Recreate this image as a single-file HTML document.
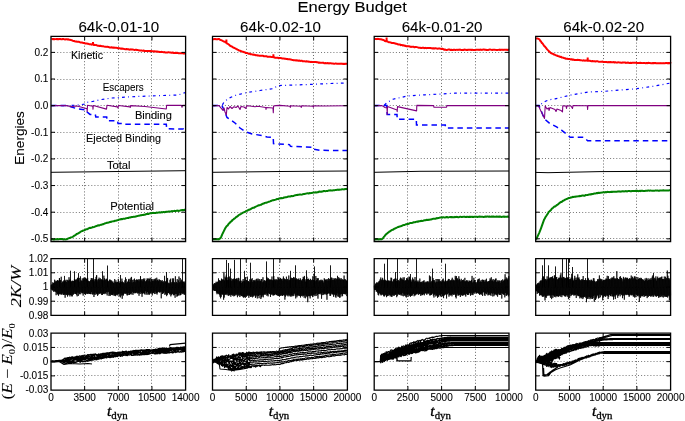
<!DOCTYPE html>
<html><head><meta charset="utf-8"><style>
html,body{margin:0;padding:0;background:#fff;width:685px;height:421px;overflow:hidden;font-family:"Liberation Sans",sans-serif;}
svg{display:block;will-change:transform}
</style></head><body>
<svg width="685" height="421" viewBox="0 0 685 421">
<rect width="685" height="421" fill="#fff"/>
<path d="M84.5,36.4V241.5M118.5,36.4V241.5M151.5,36.4V241.5M84.5,258.6V315.4M118.5,258.6V315.4M151.5,258.6V315.4M84.5,333.2V390.1M118.5,333.2V390.1M151.5,333.2V390.1M246.5,36.4V241.5M279.5,36.4V241.5M313.5,36.4V241.5M246.5,258.6V315.4M279.5,258.6V315.4M313.5,258.6V315.4M246.5,333.2V390.1M279.5,333.2V390.1M313.5,333.2V390.1M407.5,36.4V241.5M441.5,36.4V241.5M475.5,36.4V241.5M407.5,258.6V315.4M441.5,258.6V315.4M475.5,258.6V315.4M407.5,333.2V390.1M441.5,333.2V390.1M475.5,333.2V390.1M569.5,36.4V241.5M603.5,36.4V241.5M636.5,36.4V241.5M569.5,258.6V315.4M603.5,258.6V315.4M636.5,258.6V315.4M569.5,333.2V390.1M603.5,333.2V390.1M636.5,333.2V390.1" stroke="#000" stroke-width="0.8" stroke-dasharray="1,2.1" fill="none" opacity="0.75"/>
<path d="M51,52.5H185.6M51,79.5H185.6M51,105.5H185.6M51,132.5H185.6M51,158.5H185.6M51,185.5H185.6M51,212.5H185.6M51,238.5H185.6M51,272.5H185.6M51,287.5H185.6M51,301.5H185.6M51,347.5H185.6M51,361.5H185.6M51,375.5H185.6M212.5,52.5H347.4M212.5,79.5H347.4M212.5,105.5H347.4M212.5,132.5H347.4M212.5,158.5H347.4M212.5,185.5H347.4M212.5,212.5H347.4M212.5,238.5H347.4M212.5,272.5H347.4M212.5,287.5H347.4M212.5,301.5H347.4M212.5,347.5H347.4M212.5,361.5H347.4M212.5,375.5H347.4M374.2,52.5H509M374.2,79.5H509M374.2,105.5H509M374.2,132.5H509M374.2,158.5H509M374.2,185.5H509M374.2,212.5H509M374.2,238.5H509M374.2,272.5H509M374.2,287.5H509M374.2,301.5H509M374.2,347.5H509M374.2,361.5H509M374.2,375.5H509M535.7,52.5H670.6M535.7,79.5H670.6M535.7,105.5H670.6M535.7,132.5H670.6M535.7,158.5H670.6M535.7,185.5H670.6M535.7,212.5H670.6M535.7,238.5H670.6M535.7,272.5H670.6M535.7,287.5H670.6M535.7,301.5H670.6M535.7,347.5H670.6M535.7,361.5H670.6M535.7,375.5H670.6" stroke="#000" stroke-width="0.8" stroke-dasharray="1,2.1" fill="none" opacity="0.68"/>
<path d="M51,105.6L66,105.6L76,105.2L85,104.1L88,102.1L92.5,101.5L101.5,99.5L112,98L135,96.6L160,95.6L178,95L185.6,92.5" stroke="#0000ff" stroke-width="1.2" stroke-dasharray="2.8,3.3,0.9,3.3" fill="none"/>
<path d="M51,105.6L67,105.6L78,109L86.8,110L87.2,112L90,114.4L95.3,114.4L95.8,117L106.7,117L107.2,120.8L117.5,120.8L118,123.4L124.5,123.5L125,124.3L166.3,124.3L166.7,128.8L183.3,129L183.8,132L185.6,132.3" stroke="#0000ff" stroke-width="1.5" stroke-dasharray="5.5,4" fill="none"/>
<path d="M51,105.6L66,105.6L72,106.8L75,106L78,106.3L87,108.8L87.2,111.5L87.5,105.3L92.8,106.2L93,109.1L93.3,105.5L106.5,109.1L107,105.3L117.5,106.9L118,108L118.5,105.5L130,106.9L130.3,107.5L130.6,105.6L145,106.5L166.3,109L166.6,105.3L181.5,105.4L182,107.3L182.5,105.4L185.6,105.4" stroke="#800080" stroke-width="1.1" fill="none" stroke-linejoin="round"/>
<path d="M51,172.3L110,171.6L185.6,170.7" stroke="#000" stroke-width="1" fill="none"/>
<path d="M51.5,39.11L52.3,39.03L53.1,39.28L53.9,38.99L54.7,39.22L55.5,39.13L56.3,38.98L57.1,39.2L57.9,38.97L58.7,39.17L59.5,38.98L60.3,39L61.1,39.16L61.9,39.36L62.7,39.01L63.5,39.06L64.3,39.26L65.1,39.42L65.9,39.24L66.7,39.17L67.5,39.55L68.3,39.23L69.1,39.82L69.9,39.75L70.7,39.91L71.5,40.15L72.3,40.49L73.1,40.98L73.9,40.88L74.7,41.26L75.5,41.46L76.3,41.49L77.1,41.74L77.9,41.66L78.7,41.82L79.5,42.05L80.3,42.44L81.1,42.47L81.9,42.56L82.7,42.85L83.5,42.93L84.3,43.01L85.1,43.4L85.9,43.5L86.7,43.42L87.5,43.74L88.3,43.86L89.1,44.18L89.9,44.26L90.7,44.18L91.5,44.67L92.3,44.38L93.1,44.67L93.9,44.98L94.7,44.82L95.5,45.12L96.3,45.03L97.1,45.47L97.9,45.65L98.7,45.68L99.5,45.95L100.3,45.79L101.1,46.1L101.9,46.16L102.7,46.27L103.5,46.33L104.3,46.63L105.1,46.8L105.9,46.67L106.7,46.88L107.5,46.68L108.3,47.11L109.1,47.19L109.9,47.47L110.7,47.49L111.5,47.32L112.3,47.47L113.1,47.72L113.9,47.49L114.7,47.81L115.5,47.76L116.3,47.83L117.1,47.89L117.9,48.34L118.7,48.11L119.5,48.26L120.3,48.42L121.1,48.75L121.9,48.44L122.7,48.71L123.5,48.84L124.3,49.09L125.1,49.14L125.9,49.24L126.7,49.03L127.5,49.18L128.3,49.22L129.1,49.56L129.9,49.68L130.7,49.35L131.5,49.43L132.3,49.54L133.1,49.61L133.9,49.81L134.7,49.93L135.5,49.84L136.3,49.79L137.1,50.07L137.9,50.12L138.7,50.29L139.5,50.55L140.3,50.49L141.1,50.48L141.9,50.6L142.7,50.7L143.5,50.46L144.3,50.95L145.1,50.96L145.9,51.07L146.7,51.1L147.5,50.96L148.3,51.03L149.1,50.95L149.9,51.28L150.7,51.06L151.5,51.12L152.3,51.25L153.1,51.29L153.9,51.44L154.7,51.36L155.5,51.39L156.3,51.52L157.1,51.56L157.9,51.75L158.7,51.63L159.5,52.11L160.3,52.04L161.1,51.86L161.9,51.97L162.7,52.07L163.5,52.13L164.3,52.06L165.1,52.48L165.9,52.6L166.7,52.39L167.5,52.45L168.3,52.3L169.1,52.36L169.9,52.53L170.7,52.53L171.5,52.86L172.3,52.58L173.1,52.55L173.9,53.06L174.7,52.9L175.5,52.75L176.3,53L177.1,52.78L177.9,53.08L178.7,53.35L179.5,53.34L180.3,53.3L181.1,53.12L181.9,53.22L182.7,53.17L183.5,53.52L184.3,53.44L185.1,53.61L185.6,53.5M93,44.7V42" stroke="#ff0000" stroke-width="2" fill="none" stroke-linejoin="round"/>
<path d="M51,239.11L51.8,239.06L52.6,239.36L53.4,239.44L54.2,239.38L55,239.35L55.8,239.36L56.6,239.32L57.4,239.06L58.2,239.21L59,239.13L59.8,238.96L60.6,238.96L61.4,239.09L62.2,239.08L63,239.3L63.8,239.43L64.6,239.17L65.4,239.39L66.2,239.33L67,239.17L67.8,238.68L68.6,238.36L69.4,238.06L70.2,237.72L71,237.35L71.8,237.16L72.6,236.86L73.4,236.38L74.2,235.73L75,235.33L75.8,234.91L76.6,234.05L77.4,233.84L78.2,233.46L79,232.91L79.8,232.42L80.6,231.82L81.4,231.23L82.2,231.12L83,230.5L83.8,230.39L84.6,230.16L85.4,229.58L86.2,229.29L87,229.28L87.8,228.89L88.6,228.34L89.4,228.05L90.2,227.81L91,227.93L91.8,227.62L92.6,227.04L93.4,227.14L94.2,226.97L95,226.57L95.8,226.17L96.6,226.03L97.4,225.59L98.2,225.29L99,225.53L99.8,225.13L100.6,224.83L101.4,224.8L102.2,224.31L103,224.3L103.8,224.04L104.6,223.49L105.4,223.28L106.2,223.07L107,222.81L107.8,222.76L108.6,222.37L109.4,222.22L110.2,221.85L111,222.02L111.8,221.53L112.6,221.37L113.4,221.22L114.2,221.17L115,220.73L115.8,220.77L116.6,220.37L117.4,220.19L118.2,220L119,219.56L119.8,219.59L120.6,219.28L121.4,219.02L122.2,219.24L123,218.76L123.8,218.74L124.6,218.7L125.4,218.45L126.2,218.17L127,218.1L127.8,217.96L128.6,217.91L129.4,217.41L130.2,217.48L131,217.17L131.8,217.02L132.6,217.11L133.4,216.82L134.2,216.69L135,216.63L135.8,216.55L136.6,216.15L137.4,216.06L138.2,215.84L139,215.68L139.8,215.6L140.6,215.31L141.4,215.18L142.2,214.98L143,215.05L143.8,214.76L144.6,214.69L145.4,214.57L146.2,214.07L147,214.07L147.8,214.12L148.6,213.93L149.4,213.44L150.2,213.31L151,213.35L151.8,213.05L152.6,213.03L153.4,212.85L154.2,213.05L155,213.02L155.8,212.99L156.6,212.54L157.4,212.74L158.2,212.63L159,212.3L159.8,212.6L160.6,212.57L161.4,212.12L162.2,212.42L163,212.08L163.8,212.05L164.6,212.24L165.4,212.09L166.2,211.68L167,211.75L167.8,211.72L168.6,211.55L169.4,211.41L170.2,211.39L171,211.51L171.8,211.08L172.6,211.27L173.4,211.13L174.2,210.84L175,210.91L175.8,210.97L176.6,210.84L177.4,210.53L178.2,210.91L179,210.73L179.8,210.74L180.6,210.22L181.4,210.22L182.2,210.02L183,210.31L183.8,209.97L184.6,209.82L185.4,209.88L185.6,209.9" stroke="#008000" stroke-width="2" fill="none" stroke-linejoin="round"/>
<path d="M212.5,105.6L222,105.6L224,102L228.5,98.4L235,95.5L246.3,92.7L260,90.5L272.9,88.7L278,85.6L290,85.2L313.4,84.3L330,83.5L347.4,83" stroke="#0000ff" stroke-width="1.2" stroke-dasharray="2.8,3.3,0.9,3.3" fill="none"/>
<path d="M212.5,105.6L222,105.6L224,110L227,117.5L231,120L235,123L240,128L245,131.5L252,134L262,135.5L267,137L273.2,137.3L273.5,143.6L289.5,144.6L290.5,146.3L312.8,147.2L313.6,149.2L320,150.3L347.4,150.6" stroke="#0000ff" stroke-width="1.5" stroke-dasharray="5.5,4" fill="none"/>
<path d="M212.5,105.6L219,105.6L223,110.3L224,108L225,112L226.3,114.9L227,107.5L228.5,109L230,106.5L232,108.5L234,106.7L236,107.5L238,106L240,109.5L241,106.5L244,107L246,108.5L246.5,106L248,105.8L255,106.8L258,106.2L265.7,107.5L266,109.5L266.3,107.5L273,108L273.3,112.8L273.6,106L276,105.6L280,105.4L290,106.2L290.3,107.5L290.6,105.8L301,106.3L301.3,107.5L301.6,105.8L313,106.3L313.3,107.2L313.6,105.8L325,106L347.4,105.8" stroke="#800080" stroke-width="1.1" fill="none" stroke-linejoin="round"/>
<path d="M212.5,172.3L280,171.5L347.4,171" stroke="#000" stroke-width="1" fill="none"/>
<path d="M212.8,39.31L213.6,39.26L214.4,38.98L215.2,38.92L216,39.31L216.8,39.14L217.6,39.2L218.4,38.92L219.2,39.08L220,39.69L220.8,39.92L221.6,40.11L222.4,40.89L223.2,41.11L224,41.59L224.8,41.66L225.6,42.5L226.4,42.6L227.2,43.56L228,43.96L228.8,44.53L229.6,45.26L230.4,46.02L231.2,46.21L232,46.62L232.8,47.29L233.6,47.6L234.4,47.98L235.2,48.43L236,48.78L236.8,49.25L237.6,49.69L238.4,50.04L239.2,50.61L240,50.71L240.8,51.14L241.6,51.29L242.4,51.67L243.2,51.79L244,52.18L244.8,52.32L245.6,52.92L246.4,53.05L247.2,53.08L248,53.43L248.8,53.86L249.6,53.63L250.4,54.17L251.2,54.15L252,54.35L252.8,54.69L253.6,54.62L254.4,54.83L255.2,55.06L256,55.35L256.8,55.16L257.6,55.53L258.4,55.58L259.2,55.66L260,55.65L260.8,55.72L261.6,55.68L262.4,55.81L263.2,55.87L264,56.3L264.8,56.14L265.6,56.19L266.4,56.23L267.2,56.7L268,56.81L268.8,56.8L269.6,56.7L270.4,56.78L271.2,56.91L272,57.1L272.8,57.05L273.6,57.3L274.4,57.31L275.2,57.77L276,57.88L276.8,57.77L277.6,57.73L278.4,58.19L279.2,57.97L280,58.1L280.8,58.03L281.6,58.33L282.4,58.49L283.2,58.61L284,58.57L284.8,58.84L285.6,58.7L286.4,58.95L287.2,58.97L288,59.24L288.8,59.17L289.6,59.27L290.4,59.52L291.2,59.6L292,59.88L292.8,59.95L293.6,60.16L294.4,60.21L295.2,60.33L296,60.5L296.8,60.35L297.6,60.4L298.4,60.82L299.2,60.48L300,60.85L300.8,60.89L301.6,60.67L302.4,61.15L303.2,61.25L304,61.2L304.8,61.33L305.6,61.44L306.4,61.18L307.2,61.45L308,61.51L308.8,61.75L309.6,61.81L310.4,61.89L311.2,61.84L312,62.07L312.8,62.04L313.6,62.11L314.4,61.96L315.2,61.93L316,62.06L316.8,62.25L317.6,62.2L318.4,62.64L319.2,62.58L320,62.69L320.8,62.77L321.6,62.87L322.4,62.84L323.2,62.67L324,63.14L324.8,63.18L325.6,63.12L326.4,63.2L327.2,63.31L328,63.07L328.8,63.45L329.6,63.26L330.4,63.21L331.2,63.34L332,63.61L332.8,63.38L333.6,63.68L334.4,63.83L335.2,63.61L336,63.59L336.8,63.66L337.6,63.79L338.4,63.86L339.2,63.81L340,63.84L340.8,63.58L341.6,63.64L342.4,63.72L343.2,63.99L344,63.79L344.8,63.95L345.6,63.7L346.4,63.75L347.2,63.88L347.4,64M226.4,42.82V39.5M273.4,57.3V54.3" stroke="#ff0000" stroke-width="2" fill="none" stroke-linejoin="round"/>
<path d="M212.5,239.29L213.3,239.3L214.1,239.29L214.9,239.1L215.7,239.21L216.5,239.18L217.3,239.18L218.1,239.01L218.9,239.39L219.7,238.64L220.5,238.08L221.3,236.7L222.1,234.6L222.9,233.04L223.7,231.42L224.5,229.82L225.3,228.15L226.1,226.97L226.9,225.94L227.7,225.35L228.5,224.06L229.3,223.35L230.1,222.28L230.9,221.65L231.7,221.08L232.5,219.93L233.3,219.56L234.1,218.73L234.9,218.27L235.7,217.57L236.5,216.74L237.3,216.51L238.1,215.76L238.9,215.01L239.7,214.49L240.5,214.24L241.3,213.75L242.1,213.21L242.9,212.68L243.7,212.35L244.5,211.9L245.3,211.74L246.1,210.91L246.9,210.87L247.7,210.51L248.5,209.76L249.3,209.78L250.1,209.29L250.9,209.02L251.7,208.35L252.5,208.04L253.3,207.7L254.1,207.66L254.9,207.11L255.7,206.66L256.5,206.37L257.3,205.97L258.1,205.53L258.9,205.24L259.7,205.29L260.5,204.7L261.3,204.7L262.1,204.04L262.9,203.74L263.7,203.55L264.5,203.08L265.3,202.86L266.1,202.85L266.9,202.51L267.7,202.19L268.5,201.81L269.3,201.67L270.1,201.41L270.9,200.95L271.7,200.78L272.5,200.2L273.3,200.31L274.1,199.95L274.9,199.88L275.7,199.62L276.5,199.24L277.3,198.92L278.1,199.16L278.9,198.56L279.7,198.55L280.5,198.3L281.3,198.09L282.1,198.14L282.9,198.08L283.7,197.55L284.5,197.58L285.3,197.24L286.1,197.2L286.9,196.96L287.7,196.69L288.5,196.53L289.3,196.4L290.1,196.6L290.9,196.24L291.7,195.96L292.5,196.15L293.3,196.05L294.1,195.64L294.9,195.34L295.7,195.22L296.5,195.03L297.3,195.02L298.1,194.76L298.9,194.7L299.7,194.58L300.5,194.61L301.3,194.64L302.1,194.44L302.9,194.15L303.7,194.03L304.5,193.96L305.3,193.77L306.1,193.63L306.9,193.37L307.7,193.36L308.5,193.59L309.3,193.06L310.1,193.13L310.9,193.08L311.7,193.09L312.5,192.65L313.3,192.56L314.1,192.44L314.9,192.41L315.7,192.32L316.5,192.46L317.3,192.29L318.1,192.2L318.9,191.66L319.7,191.55L320.5,191.78L321.3,191.76L322.1,191.45L322.9,191.4L323.7,191L324.5,191.09L325.3,191.26L326.1,191.11L326.9,191.02L327.7,190.99L328.5,190.54L329.3,190.38L330.1,190.32L330.9,190.42L331.7,190.42L332.5,190.47L333.3,190.29L334.1,190.18L334.9,190.16L335.7,189.94L336.5,189.92L337.3,189.6L338.1,189.9L338.9,189.56L339.7,189.84L340.5,189.64L341.3,189.4L342.1,189.25L342.9,189.25L343.7,189.38L344.5,189.34L345.3,188.98L346.1,188.9L346.9,189.06L347.4,189" stroke="#008000" stroke-width="2" fill="none" stroke-linejoin="round"/>
<path d="M374.2,105.6L384,105.6L387,102.5L393,99.2L407.5,96L425,94.8L441.9,94L455,93.2L509,93.2" stroke="#0000ff" stroke-width="1.2" stroke-dasharray="2.8,3.3,0.9,3.3" fill="none"/>
<path d="M374.2,105.6L386.8,105.6L387.2,114.5L397,114.5L397.2,119.3L416.3,119.3L416.5,125.1L445.3,125.1L445.5,127.9L509,127.9" stroke="#0000ff" stroke-width="1.5" stroke-dasharray="5.5,4" fill="none"/>
<path d="M374.2,105.6L382,105.6L385,107.5L387,108L387.2,114.5L387.5,106.5L397,110L397.2,111.8L397.5,106.6L416.6,110.9L416.8,105.4L433.6,105.6L434,107.3L446.6,107.3L446.8,105.6L509,105.6" stroke="#800080" stroke-width="1.1" fill="none" stroke-linejoin="round"/>
<path d="M374.2,172.3L420,171.3L509,171" stroke="#000" stroke-width="1" fill="none"/>
<path d="M374.5,39.14L375.3,39.04L376.1,38.96L376.9,39.15L377.7,38.86L378.5,39L379.3,39.08L380.1,39.33L380.9,39.26L381.7,39.59L382.5,39.69L383.3,39.93L384.1,40.32L384.9,41.06L385.7,41.29L386.5,41.37L387.3,41.46L388.1,41.91L388.9,42.2L389.7,42.27L390.5,42.38L391.3,42.76L392.1,43.07L392.9,42.9L393.7,42.98L394.5,43.31L395.3,43.53L396.1,43.85L396.9,43.79L397.7,44.28L398.5,44.45L399.3,44.52L400.1,44.57L400.9,45.14L401.7,44.99L402.5,45.43L403.3,45.31L404.1,45.47L404.9,45.89L405.7,45.81L406.5,46.27L407.3,46.17L408.1,46.13L408.9,46.26L409.7,46.46L410.5,46.69L411.3,46.93L412.1,46.63L412.9,46.85L413.7,46.85L414.5,47.32L415.3,46.99L416.1,47.03L416.9,47.12L417.7,47.36L418.5,47.69L419.3,47.75L420.1,47.75L420.9,47.95L421.7,47.98L422.5,47.74L423.3,47.73L424.1,48.16L424.9,48.12L425.7,47.81L426.5,48.17L427.3,48.06L428.1,48.1L428.9,48.11L429.7,48.05L430.5,48L431.3,48.16L432.1,48.22L432.9,48.54L433.7,48.15L434.5,48.6L435.3,48.25L436.1,48.35L436.9,48.62L437.7,48.66L438.5,48.51L439.3,48.36L440.1,48.63L440.9,48.65L441.7,48.99L442.5,48.77L443.3,49.15L444.1,49.74L444.9,49.53L445.7,49.76L446.5,49.96L447.3,49.93L448.1,49.57L448.9,49.57L449.7,49.58L450.5,50.01L451.3,49.68L452.1,49.92L452.9,50L453.7,49.72L454.5,49.69L455.3,50.03L456.1,49.86L456.9,49.68L457.7,49.91L458.5,49.71L459.3,49.69L460.1,49.55L460.9,49.93L461.7,50.01L462.5,49.87L463.3,50.02L464.1,49.56L464.9,49.67L465.7,49.79L466.5,50.03L467.3,50.03L468.1,49.74L468.9,49.68L469.7,49.76L470.5,49.8L471.3,50.01L472.1,49.64L472.9,49.95L473.7,49.92L474.5,49.96L475.3,49.94L476.1,49.85L476.9,49.71L477.7,49.71L478.5,49.73L479.3,49.94L480.1,49.59L480.9,49.65L481.7,49.93L482.5,49.67L483.3,49.58L484.1,49.57L484.9,49.83L485.7,49.71L486.5,50.04L487.3,49.99L488.1,50.04L488.9,49.68L489.7,49.59L490.5,49.6L491.3,49.8L492.1,49.9L492.9,49.77L493.7,49.67L494.5,49.76L495.3,49.86L496.1,49.89L496.9,49.92L497.7,49.97L498.5,49.88L499.3,49.61L500.1,49.97L500.9,49.7L501.7,49.83L502.5,49.74L503.3,49.92L504.1,49.65L504.9,49.67L505.7,49.67L506.5,49.63L507.3,49.99L508.1,49.84L508.9,49.71L509,49.8M386.6,41.5V37.5" stroke="#ff0000" stroke-width="2" fill="none" stroke-linejoin="round"/>
<path d="M374.2,239.15L375,239.45L375.8,239.2L376.6,239.07L377.4,239.35L378.2,239.28L379,239.45L379.8,239L380.6,239.19L381.4,239.26L382.2,238.85L383,238.22L383.8,236.93L384.6,236.09L385.4,235.01L386.2,234.08L387,233.63L387.8,232.77L388.6,232.38L389.4,231.56L390.2,231.29L391,230.59L391.8,230.02L392.6,229.83L393.4,229.5L394.2,228.68L395,228.55L395.8,228.2L396.6,227.66L397.4,227.4L398.2,226.97L399,226.69L399.8,226.42L400.6,226.3L401.4,226.04L402.2,225.55L403,225.19L403.8,225.09L404.6,225.01L405.4,224.52L406.2,224.34L407,224.05L407.8,224.12L408.6,223.77L409.4,223.31L410.2,223.11L411,223.05L411.8,222.92L412.6,222.76L413.4,222.3L414.2,222.14L415,222.23L415.8,221.91L416.6,221.68L417.4,221.52L418.2,221.69L419,221.22L419.8,221.2L420.6,220.95L421.4,220.84L422.2,220.93L423,220.87L423.8,220.43L424.6,220.22L425.4,220.36L426.2,219.98L427,219.76L427.8,220.09L428.6,219.72L429.4,219.8L430.2,219.46L431,219.56L431.8,219.2L432.6,218.91L433.4,218.68L434.2,218.8L435,218.69L435.8,218.68L436.6,218.12L437.4,218.24L438.2,217.98L439,217.91L439.8,217.61L440.6,217.56L441.4,217.57L442.2,217.68L443,217.19L443.8,217.31L444.6,217.41L445.4,217.45L446.2,217.04L447,216.99L447.8,217.38L448.6,217.38L449.4,217.12L450.2,216.89L451,217.31L451.8,217.03L452.6,217.28L453.4,217.12L454.2,217.21L455,216.87L455.8,217.17L456.6,216.87L457.4,216.95L458.2,217.16L459,217.14L459.8,216.81L460.6,216.82L461.4,216.9L462.2,216.95L463,216.87L463.8,216.73L464.6,216.79L465.4,217.02L466.2,217.09L467,216.66L467.8,216.91L468.6,217L469.4,216.64L470.2,217.03L471,216.66L471.8,216.9L472.6,216.87L473.4,216.9L474.2,216.73L475,216.78L475.8,216.86L476.6,216.77L477.4,216.89L478.2,216.77L479,216.77L479.8,216.55L480.6,216.85L481.4,216.78L482.2,216.64L483,216.9L483.8,216.91L484.6,216.74L485.4,216.6L486.2,216.74L487,216.55L487.8,216.56L488.6,216.71L489.4,216.53L490.2,216.7L491,216.73L491.8,216.49L492.6,216.79L493.4,216.5L494.2,216.83L495,216.84L495.8,216.71L496.6,216.47L497.4,216.69L498.2,216.62L499,216.9L499.8,216.49L500.6,216.85L501.4,216.91L502.2,216.77L503,216.81L503.8,216.49L504.6,216.88L505.4,216.63L506.2,216.85L507,216.83L507.8,216.44L508.6,216.75L509,216.6" stroke="#008000" stroke-width="2" fill="none" stroke-linejoin="round"/>
<path d="M535.7,105.6L539,105.6L541.6,103.7L545,101.5L549,99.8L555,98.9L569.5,95.3L587.7,92.1L603.4,91.4L620,90L636.8,88.7L655,86L670.6,83" stroke="#0000ff" stroke-width="1.2" stroke-dasharray="2.8,3.3,0.9,3.3" fill="none"/>
<path d="M535.7,105.6L539,105.6L544.5,119L549.7,123.4L556.6,126.9L561.8,130.3L567,134.5L570,137.2L584,137.2L587.6,140.7L670.6,140.7" stroke="#0000ff" stroke-width="1.5" stroke-dasharray="5.5,4" fill="none"/>
<path d="M535.7,105.6L538.5,106L544.5,118.5L545.2,106L547,109L548.5,108L549,110.5L550,107.5L555,109.5L556,111.5L557,109L561,110.5L562.5,111.8L562.8,105.8L566,106L566.5,108.5L567,105.8L571,106L572.5,108.5L573,105.6L587.3,105.8L587.6,109.5L587.9,105.6L670.6,105.6" stroke="#800080" stroke-width="1.1" fill="none" stroke-linejoin="round"/>
<path d="M535.7,172.4L548,172.7L600,171.6L670.6,171.3" stroke="#000" stroke-width="1" fill="none"/>
<path d="M536.2,38.82L537,38.38L537.8,38.53L538.6,38.91L539.4,39.3L540.2,40.69L541,41.54L541.8,42.91L542.6,43.54L543.4,44.73L544.2,45.98L545,46.64L545.8,47.65L546.6,48.71L547.4,49.59L548.2,50.38L549,51.29L549.8,51.96L550.6,52.88L551.4,53.23L552.2,53.78L553,53.83L553.8,54.51L554.6,54.52L555.4,55.06L556.2,55.42L557,55.57L557.8,56.12L558.6,56.24L559.4,56.53L560.2,56.96L561,56.84L561.8,57.55L562.6,57.62L563.4,57.75L564.2,58.19L565,58.14L565.8,58.71L566.6,58.7L567.4,58.77L568.2,59.12L569,59.1L569.8,59.08L570.6,59.47L571.4,59.22L572.2,59.7L573,59.51L573.8,59.78L574.6,60.04L575.4,59.91L576.2,60.02L577,59.92L577.8,59.83L578.6,59.91L579.4,60.03L580.2,60.32L581,60.28L581.8,60.38L582.6,60.63L583.4,60.3L584.2,60.41L585,60.68L585.8,60.42L586.6,60.47L587.4,60.7L588.2,60.64L589,60.83L589.8,60.83L590.6,61.07L591.4,61.14L592.2,61.01L593,61.28L593.8,61.27L594.6,61.16L595.4,61.62L596.2,61.33L597,61.35L597.8,61.37L598.6,61.7L599.4,61.87L600.2,61.87L601,61.73L601.8,61.7L602.6,61.62L603.4,61.97L604.2,61.97L605,61.9L605.8,62.08L606.6,62.01L607.4,62.29L608.2,62.22L609,62.01L609.8,62.37L610.6,61.98L611.4,62.25L612.2,62.22L613,62.16L613.8,62.1L614.6,62.49L615.4,62.14L616.2,62.44L617,62.66L617.8,62.29L618.6,62.34L619.4,62.57L620.2,62.55L621,62.64L621.8,62.75L622.6,62.45L623.4,62.54L624.2,62.56L625,62.45L625.8,62.89L626.6,62.86L627.4,62.85L628.2,62.51L629,62.95L629.8,62.92L630.6,62.79L631.4,62.95L632.2,62.82L633,62.72L633.8,62.67L634.6,62.75L635.4,62.66L636.2,62.82L637,63.04L637.8,63.02L638.6,63.11L639.4,63.05L640.2,62.84L641,62.99L641.8,62.94L642.6,63.12L643.4,63L644.2,62.88L645,63.07L645.8,63.24L646.6,62.88L647.4,63.21L648.2,62.79L649,62.92L649.8,62.91L650.6,63.17L651.4,63.28L652.2,63.19L653,62.98L653.8,63.27L654.6,63L655.4,62.96L656.2,63.3L657,63.16L657.8,63.2L658.6,63.19L659.4,63.35L660.2,63.11L661,63.3L661.8,63.23L662.6,63.32L663.4,63.11L664.2,63.26L665,63.19L665.8,63.07L666.6,63.02L667.4,63.23L668.2,62.97L669,63.39L669.8,63.02L670.6,62.96L670.6,63.2M587.7,60.8V57.5" stroke="#ff0000" stroke-width="2" fill="none" stroke-linejoin="round"/>
<path d="M536,239.4L536.8,238.2L537.6,236.32L538.4,234.59L539.2,232.79L540,230.84L540.8,228.97L541.6,226.62L542.4,224.32L543.2,222.14L544,219.84L544.8,218.47L545.6,216.88L546.4,215.73L547.2,214.46L548,213.32L548.8,211.85L549.6,211.3L550.4,210.46L551.2,209.69L552,208.55L552.8,207.92L553.6,207.23L554.4,206.58L555.2,206.4L556,205.79L556.8,205.12L557.6,204.64L558.4,203.97L559.2,203.24L560,202.61L560.8,202.09L561.6,201.92L562.4,201.16L563.2,200.77L564,200.39L564.8,199.76L565.6,199.46L566.4,199.06L567.2,198.89L568,198.35L568.8,198.01L569.6,198.05L570.4,197.6L571.2,197.59L572,197.31L572.8,196.86L573.6,196.91L574.4,196.79L575.2,196.83L576,196.5L576.8,196.57L577.6,196.39L578.4,196.13L579.2,196.35L580,195.87L580.8,196.13L581.6,195.7L582.4,195.51L583.2,195.5L584,195.66L584.8,195.64L585.6,195.02L586.4,195.13L587.2,194.98L588,194.99L588.8,194.53L589.6,194.54L590.4,194.31L591.2,194.4L592,193.96L592.8,194.15L593.6,193.67L594.4,193.49L595.2,193.58L596,193.34L596.8,193.01L597.6,193.15L598.4,192.74L599.2,192.98L600,192.83L600.8,192.77L601.6,192.6L602.4,192.39L603.2,192.34L604,192.28L604.8,192.46L605.6,192L606.4,192.35L607.2,191.86L608,191.9L608.8,191.88L609.6,192.15L610.4,191.91L611.2,191.8L612,192.01L612.8,191.64L613.6,191.72L614.4,191.72L615.2,191.79L616,191.75L616.8,191.67L617.6,191.49L618.4,191.44L619.2,191.33L620,191.64L620.8,191.52L621.6,191.53L622.4,191.22L623.2,191.33L624,191.47L624.8,191.35L625.6,191.1L626.4,191.24L627.2,191.43L628,191.08L628.8,191.04L629.6,191.07L630.4,191.25L631.2,191.3L632,190.93L632.8,190.91L633.6,190.94L634.4,190.96L635.2,191.03L636,190.84L636.8,190.9L637.6,190.81L638.4,191.19L639.2,191.05L640,190.71L640.8,191.13L641.6,190.68L642.4,190.8L643.2,191.09L644,190.98L644.8,190.93L645.6,190.76L646.4,190.63L647.2,190.83L648,190.55L648.8,190.59L649.6,190.66L650.4,190.47L651.2,190.64L652,190.82L652.8,190.75L653.6,190.64L654.4,190.69L655.2,190.59L656,190.42L656.8,190.63L657.6,190.52L658.4,190.67L659.2,190.74L660,190.48L660.8,190.54L661.6,190.61L662.4,190.43L663.2,190.32L664,190.55L664.8,190.61L665.6,190.55L666.4,190.49L667.2,190.55L668,190.45L668.8,190.41L669.6,190.3L670.4,190.21L670.6,190.3" stroke="#008000" stroke-width="2" fill="none" stroke-linejoin="round"/>
<path d="M51,285.28L51.3,289.23L51.6,284.63L51.9,289.88L52.2,284.25L52.5,290.44L52.8,282.33L53.1,290.15L53.4,282.93L53.7,291.7L54,283.1L54.3,291.55L54.61,279.7L54.91,290.92L55.21,281.98L55.51,291.79L55.81,280.69L56.11,295.2L56.41,281.32L56.71,292.52L57.01,280.78L57.31,294.32L57.61,280.04L57.91,294.34L58.21,280.48L58.51,295.72L58.81,281L59.11,294.27L59.41,278.07L59.71,293.81L60.01,280.48L60.31,294.43L60.61,280.13L60.91,293.72L61.22,276.75L61.52,294.53L61.82,283.03L62.12,294.39L62.42,281.67L62.72,293.27L63.02,281.61L63.32,294.95L63.62,280.54L63.92,294.82L64.22,282.08L64.52,294.52L64.82,280.26L65.12,297.74L65.42,281.12L65.72,294.57L66.02,279.79L66.32,295.07L66.62,282.06L66.92,294.29L67.22,279.8L67.52,296.55L67.83,280.42L68.13,295.25L68.43,280.61L68.73,294.54L69.03,277.22L69.33,294.85L69.63,280.11L69.93,296.44L70.23,279.06L70.53,295.04L70.83,281.11L71.13,295.19L71.43,281.64L71.73,296.3L72.03,280.7L72.33,296.33L72.63,280.89L72.93,294.43L73.23,280.85L73.53,294.47L73.83,281L74.13,292.43L74.43,278.95L74.74,293.87L75.04,280.64L75.34,293.83L75.64,279.79L75.94,294.08L76.24,279.15L76.54,294.69L76.84,280.08L77.14,296.33L77.44,277.8L77.74,292.59L78.04,278L78.34,295.88L78.64,278.28L78.94,292.83L79.24,277.95L79.54,294.23L79.84,281.7L80.14,291.9L80.44,276.37L80.74,294.23L81.04,280.39L81.35,292.51L81.65,280.82L81.95,292.94L82.25,278.4L82.55,293.25L82.85,280.84L83.15,295.6L83.45,278.37L83.75,292.74L84.05,277.56L84.35,294.03L84.65,278.51L84.95,294.27L85.25,277.6L85.55,294.82L85.85,278.17L86.15,292.94L86.45,279.08L86.75,293.92L87.05,278.86L87.35,293.69L87.65,277.84L87.95,294.07L88.26,280.7L88.56,293.21L88.86,281.18L89.16,293.97L89.46,281.62L89.76,293.93L90.06,281.16L90.36,294.04L90.66,279.93L90.96,294.21L91.26,278.05L91.56,292.14L91.86,278.23L92.16,294.05L92.46,279.64L92.76,294.68L93.06,278.17L93.36,293.81L93.66,280.07L93.96,297.01L94.26,281.34L94.56,294.58L94.87,279.21L95.17,292.5L95.47,279.28L95.77,294.72L96.07,276.9L96.37,293.63L96.67,275.25L96.97,294.09L97.27,279.62L97.57,295.89L97.87,281.44L98.17,294.73L98.47,279.04L98.77,293.5L99.07,277.64L99.37,293.53L99.67,279.56L99.97,293.93L100.27,278.29L100.57,293.01L100.87,279.69L101.17,293.56L101.47,279.29L101.78,295.03L102.08,280.19L102.38,295.01L102.68,279.86L102.98,293.69L103.28,280.34L103.58,293.68L103.88,275.67L104.18,294.14L104.48,278.4L104.78,293.18L105.08,280.39L105.38,293.1L105.68,279.56L105.98,294.09L106.28,278.71L106.58,292.16L106.88,279.16L107.18,295.47L107.48,280.02L107.78,292.3L108.08,280.95L108.39,291.83L108.69,281.46L108.99,296.02L109.29,280.13L109.59,294.46L109.89,279.37L110.19,296.03L110.49,280.36L110.79,294.48L111.09,280.42L111.39,294.86L111.69,280.66L111.99,294.89L112.29,282.09L112.59,294.94L112.89,281.37L113.19,295.44L113.49,282.76L113.79,293.69L114.09,283.28L114.39,295.69L114.69,279.04L115,295.28L115.3,281.99L115.6,296.14L115.9,280.34L116.2,295.14L116.5,282.46L116.8,294.48L117.1,281.95L117.4,294.59L117.7,281.93L118,295.59L118.3,278.93L118.6,293.76L118.9,281.45L119.2,293.68L119.5,283.02L119.8,296.44L120.1,281.37L120.4,297.35L120.7,281.78L121,293.43L121.3,281.93L121.6,295.51L121.91,278.64L122.21,298.77L122.51,281.51L122.81,294.91L123.11,282.78L123.41,295.56L123.71,282.24L124.01,294.04L124.31,283.35L124.61,292.92L124.91,280.39L125.21,293.76L125.51,277.42L125.81,293.53L126.11,279.03L126.41,293.6L126.71,282.98L127.01,295.32L127.31,281.65L127.61,295.28L127.91,281.78L128.21,292.9L128.52,279.47L128.82,294.97L129.12,278.82L129.42,294.93L129.72,282.08L130.02,294.44L130.32,279.67L130.62,293.82L130.92,277.73L131.22,293.15L131.52,276.92L131.82,294.48L132.12,282.67L132.42,291.85L132.72,279.85L133.02,294.81L133.32,281.98L133.62,292.99L133.92,279.49L134.22,292.5L134.52,278.61L134.82,293.36L135.12,282.15L135.43,292.99L135.73,280.22L136.03,293.15L136.33,279.83L136.63,292.28L136.93,279.2L137.23,292.91L137.53,280.03L137.83,293.68L138.13,280.88L138.43,292.96L138.73,279.37L139.03,295.79L139.33,279.41L139.63,293.5L139.93,281.38L140.23,291.92L140.53,276.79L140.83,294.02L141.13,279.18L141.43,292.9L141.73,280.35L142.04,296.8L142.34,279.16L142.64,293.72L142.94,281.38L143.24,293.23L143.54,278.62L143.84,293.11L144.14,279.99L144.44,293.78L144.74,278.48L145.04,294.65L145.34,281.38L145.64,291.26L145.94,281.42L146.24,293.27L146.54,280.27L146.84,294.71L147.14,278.43L147.44,291.95L147.74,278.88L148.04,294.65L148.34,278.53L148.65,293.64L148.95,281.12L149.25,294.86L149.55,278.9L149.85,293.97L150.15,277.8L150.45,292.9L150.75,281.71L151.05,293.43L151.35,278.79L151.65,292.38L151.95,279.03L152.25,295.45L152.55,280.92L152.85,293.45L153.15,279.3L153.45,292.97L153.75,280.95L154.05,292.33L154.35,278.88L154.65,294.05L154.95,280.06L155.25,291.66L155.56,278.51L155.86,293.85L156.16,280.81L156.46,293.07L156.76,277.72L157.06,294.54L157.36,279.89L157.66,292.71L157.96,279.68L158.26,291.89L158.56,281.1L158.86,291.86L159.16,279.31L159.46,292.38L159.76,279.96L160.06,292.51L160.36,280.21L160.66,291.8L160.96,282.16L161.26,298.34L161.56,280.87L161.86,291.72L162.17,280.05L162.47,294.02L162.77,281.84L163.07,293.33L163.37,281.28L163.67,293.17L163.97,282.94L164.27,291.61L164.57,275.85L164.87,294.87L165.17,281.14L165.47,293.6L165.77,281.99L166.07,294.53L166.37,281.54L166.67,296.15L166.97,280.23L167.27,294.98L167.57,277.96L167.87,293.17L168.17,283.41L168.47,293.12L168.77,282.7L169.08,292.8L169.38,283.43L169.68,294.36L169.98,279.79L170.28,294.17L170.58,278.7L170.88,296.38L171.18,283.43L171.48,294.77L171.78,282.13L172.08,293.43L172.38,278.41L172.68,293.95L172.98,281.54L173.28,295.12L173.58,278.45L173.88,295.28L174.18,282.06L174.48,294.62L174.78,282.82L175.08,297.78L175.38,276.29L175.69,294.02L175.99,283.39L176.29,294.12L176.59,281.95L176.89,296.69L177.19,279.06L177.49,296.12L177.79,283.07L178.09,295.78L178.39,280.36L178.69,295.14L178.99,276.49L179.29,293.19L179.59,282.26L179.89,295.46L180.19,278.05L180.49,295.06L180.79,281.52L181.09,294.69L181.39,279.67L181.69,293.16L181.99,281.27L182.3,293.58L182.6,281.94L182.9,294.12L183.2,281.68L183.5,293.36L183.8,281.73L184.1,294.59L184.4,282.65L184.7,294.67L185,281.42L185.3,292.3L185.6,277.69" stroke="#000" stroke-width="0.75" fill="none"/>
<path d="M59.5,287.2V278.3M64.5,287.2V275.9M70.5,287.2V270.7M74.5,287.2V271.2M78.5,287.2V273.1M87.5,287.2V258.6M93.5,287.2V258.6M96.5,287.2V275.4M102.5,287.2V271.2M107.5,287.2V265.5M120.5,287.2V275M140.5,287.2V276M166.5,287.2V272M182.5,287.2V258.6" stroke="#000" stroke-width="0.9" fill="none"/>
<path d="M212.5,285.84L212.8,290.42L213.1,284.31L213.4,290.27L213.7,284.5L214,290.35L214.3,283.17L214.6,290.97L214.9,283.15L215.2,290.85L215.5,283.48L215.8,291L216.11,281.75L216.41,292.56L216.71,282.74L217.01,294.24L217.31,281.87L217.61,293.26L217.91,281.7L218.21,293.42L218.51,278.43L218.81,294.11L219.11,280.81L219.41,294.64L219.71,280.17L220.01,296.68L220.31,280.84L220.61,298.33L220.91,281.08L221.21,296.8L221.51,278.63L221.81,294.25L222.11,279.27L222.41,294.56L222.72,279.92L223.02,294.41L223.32,279.5L223.62,299.67L223.92,271.92L224.22,297.59L224.52,280.39L224.82,294.9L225.12,276.68L225.42,294.13L225.72,277.94L226.02,295.03L226.32,274.69L226.62,293.86L226.92,277.45L227.22,295.24L227.52,280.11L227.82,293.51L228.12,277.29L228.42,295.81L228.72,279.99L229.02,295.57L229.32,276.55L229.63,294.97L229.93,278.77L230.23,294.71L230.53,280.18L230.83,296.73L231.13,278.31L231.43,294.89L231.73,280.8L232.03,294.47L232.33,278.94L232.63,295.7L232.93,280.18L233.23,294.88L233.53,279.11L233.83,296.38L234.13,278.18L234.43,295.92L234.73,280.72L235.03,294.29L235.33,278.85L235.63,295.39L235.93,279.01L236.24,294.22L236.54,278.57L236.84,295.19L237.14,278.41L237.44,297.21L237.74,280.19L238.04,293.87L238.34,277.84L238.64,295.62L238.94,278.35L239.24,295.06L239.54,281.41L239.84,297.06L240.14,280.84L240.44,294.82L240.74,280.86L241.04,296.11L241.34,282.91L241.64,295.94L241.94,280.66L242.24,295.98L242.54,281.82L242.84,296.72L243.15,279.01L243.45,297.63L243.75,281.07L244.05,296.84L244.35,280.85L244.65,297.08L244.95,282.11L245.25,297.9L245.55,277.18L245.85,296.32L246.15,280.33L246.45,296.49L246.75,280.21L247.05,294.74L247.35,276.66L247.65,295.75L247.95,281.35L248.25,295.38L248.55,281.06L248.85,297.84L249.15,282.14L249.45,295.43L249.76,279.37L250.06,295.81L250.36,282.25L250.66,296.99L250.96,279.84L251.26,296.75L251.56,279.29L251.86,295.49L252.16,278.16L252.46,297.39L252.76,281.87L253.06,295.52L253.36,280.1L253.66,296.58L253.96,280.81L254.26,295.42L254.56,280.41L254.86,295.41L255.16,279.78L255.46,297.92L255.76,281.36L256.06,296.52L256.37,279.14L256.67,295.25L256.97,278.66L257.27,298.48L257.57,280.62L257.87,295.77L258.17,278.63L258.47,295.96L258.77,280.68L259.07,298.21L259.37,279.16L259.67,295.21L259.97,281.28L260.27,295.09L260.57,280.67L260.87,299.03L261.17,279.1L261.47,297.35L261.77,279.05L262.07,296.65L262.37,282.27L262.67,295.16L262.97,277.23L263.28,297.34L263.58,281.41L263.88,294.72L264.18,280.08L264.48,294.49L264.78,280.46L265.08,293.45L265.38,280.77L265.68,294.76L265.98,282.58L266.28,293.66L266.58,276.74L266.88,295.69L267.18,277.59L267.48,295.08L267.78,278.94L268.08,296.39L268.38,278.21L268.68,293.08L268.98,279.67L269.28,294.04L269.58,279.42L269.89,294.09L270.19,279.87L270.49,296.93L270.79,279.46L271.09,294.11L271.39,279.72L271.69,294.66L271.99,276.53L272.29,294.32L272.59,280.2L272.89,295.44L273.19,280.77L273.49,295.33L273.79,276.02L274.09,295.16L274.39,279.95L274.69,295.09L274.99,278.95L275.29,294.25L275.59,280.27L275.89,294.25L276.19,279.53L276.49,295.13L276.8,279.44L277.1,294.74L277.4,280.15L277.7,295.65L278,276.91L278.3,295.9L278.6,278.23L278.9,296.08L279.2,279.43L279.5,296.35L279.8,278.51L280.1,295.82L280.4,277.92L280.7,295.61L281,278.94L281.3,294.99L281.6,279.23L281.9,295.75L282.2,278.69L282.5,295.97L282.8,280.54L283.1,295.29L283.41,276.49L283.71,294.96L284.01,278.17L284.31,295.64L284.61,279.13L284.91,299.65L285.21,279.15L285.51,296.6L285.81,279.7L286.11,294.22L286.41,276.66L286.71,295.38L287.01,280.34L287.31,295.21L287.61,278.95L287.91,296.3L288.21,280.22L288.51,294.69L288.81,275.53L289.11,296.26L289.41,280.18L289.71,294.96L290.01,279.56L290.32,295.96L290.62,278.71L290.92,296.83L291.22,277.71L291.52,295.43L291.82,278.29L292.12,296.23L292.42,278.23L292.72,295.32L293.02,278.13L293.32,296.11L293.62,276.98L293.92,294.34L294.22,277.54L294.52,293.4L294.82,278.36L295.12,295.76L295.42,279.54L295.72,298.45L296.02,279.29L296.32,295.37L296.62,278.3L296.93,297.29L297.23,279.15L297.53,295.38L297.83,279.7L298.13,295.66L298.43,278.62L298.73,295.27L299.03,279.88L299.33,296.08L299.63,279.88L299.93,295.48L300.23,278.19L300.53,297.48L300.83,279.44L301.13,295.94L301.43,280.48L301.73,295.61L302.03,280.62L302.33,296.42L302.63,279.07L302.93,294.98L303.23,276.8L303.53,295.78L303.84,277.64L304.14,297.65L304.44,275.95L304.74,295.46L305.04,279.55L305.34,298.29L305.64,281.56L305.94,294.8L306.24,279.08L306.54,296.25L306.84,276.78L307.14,297.21L307.44,279.21L307.74,302.19L308.04,279.31L308.34,296.16L308.64,278.68L308.94,295.73L309.24,279.93L309.54,296.24L309.84,280L310.14,298.42L310.45,278.87L310.75,295.83L311.05,281.06L311.35,295.3L311.65,280.01L311.95,295.72L312.25,279.48L312.55,297.11L312.85,276.27L313.15,295.26L313.45,280.09L313.75,295.56L314.05,273.73L314.35,294.62L314.65,279.91L314.95,296.15L315.25,281.2L315.55,294.3L315.85,275.99L316.15,295.98L316.45,280.14L316.75,293.43L317.06,278.04L317.36,295.11L317.66,278.76L317.96,298.65L318.26,278.17L318.56,294.08L318.86,281.49L319.16,293.65L319.46,280.27L319.76,294.18L320.06,281.36L320.36,293.22L320.66,279.8L320.96,294.39L321.26,280.75L321.56,298.76L321.86,279.71L322.16,292.52L322.46,280.47L322.76,295.1L323.06,280.75L323.36,294.66L323.66,282.53L323.97,293.51L324.27,278.28L324.57,294.34L324.87,279.22L325.17,293.26L325.47,279.78L325.77,294.32L326.07,280.45L326.37,294.67L326.67,279.46L326.97,299.74L327.27,279.2L327.57,294.08L327.87,280.69L328.17,293.4L328.47,278.14L328.77,293.28L329.07,280.58L329.37,293.57L329.67,278.96L329.97,295.84L330.27,278.53L330.58,295.8L330.88,280.52L331.18,292.84L331.48,277.6L331.78,294.25L332.08,277.83L332.38,294.38L332.68,279.77L332.98,294.18L333.28,280.03L333.58,296.78L333.88,278.25L334.18,294.46L334.48,278.69L334.78,294.58L335.08,280.22L335.38,296.7L335.68,278.2L335.98,297.74L336.28,278.71L336.58,295.29L336.88,279.36L337.18,293.41L337.49,275.84L337.79,296.39L338.09,279.21L338.39,296.76L338.69,277.18L338.99,294.33L339.29,278.34L339.59,297.69L339.89,278.79L340.19,297.43L340.49,279.71L340.79,294.5L341.09,278.04L341.39,294.01L341.69,279.65L341.99,296.42L342.29,279.15L342.59,295.85L342.89,280.04L343.19,293.82L343.49,279.74L343.79,293.86L344.1,275.54L344.4,294.17L344.7,279.21L345,293.62L345.3,279.39L345.6,294.45L345.9,279.91L346.2,293.43L346.5,280.97L346.8,296.11L347.1,280.2L347.4,294.16" stroke="#000" stroke-width="0.75" fill="none"/>
<path d="M226.5,287.5V259.9M228.5,287.5V263M230.5,287.5V268.6M234.5,287.5V259.9M240.5,287.5V258.8M244.5,287.5V270.8M250.5,287.5V262.7M266.5,287.5V261.4M273.5,287.5V258.8M290.5,287.5V270.8M295.5,287.5V265.3M306.5,287.5V270.3M314.5,287.5V266.4M330.5,287.5V265.3" stroke="#000" stroke-width="0.9" fill="none"/>
<path d="M374.2,285.68L374.5,289.87L374.8,285.36L375.1,289.85L375.4,283.6L375.7,290.09L376,283.87L376.3,291.82L376.6,282.45L376.9,291.04L377.2,283.01L377.5,292.67L377.8,282.45L378.1,294.77L378.4,282.38L378.7,295.4L379,281.07L379.3,293.23L379.6,280.7L379.9,293.48L380.2,279.22L380.5,294.43L380.8,277.5L381.11,295.46L381.41,280.2L381.71,294.59L382.01,279.37L382.31,294.58L382.61,277.83L382.91,294.35L383.21,279.75L383.51,295.65L383.81,280.58L384.11,296.57L384.41,280.23L384.71,296.13L385.01,279.63L385.31,295.14L385.61,280.27L385.91,294.43L386.21,281.02L386.51,297.16L386.81,280.55L387.11,296.23L387.41,281.37L387.71,295.88L388.01,280.46L388.31,295.68L388.61,280.69L388.91,294.29L389.21,280.65L389.51,294.86L389.81,281.34L390.11,296.32L390.41,280.75L390.71,295.27L391.01,277.64L391.31,296.5L391.61,277.95L391.91,296.99L392.21,281.27L392.51,294.79L392.81,281.9L393.11,295.94L393.41,279.28L393.71,294.9L394.01,280.16L394.31,295.78L394.62,279.03L394.92,294.54L395.22,278.05L395.52,294.79L395.82,279.22L396.12,294.27L396.42,281.01L396.72,297.18L397.02,278.61L397.32,295.85L397.62,281.35L397.92,293.59L398.22,280.6L398.52,294.27L398.82,280.03L399.12,294.8L399.42,281.17L399.72,294.62L400.02,278.74L400.32,294.25L400.62,277.56L400.92,295.39L401.22,278.29L401.52,294.52L401.82,279.36L402.12,295.84L402.42,279.61L402.72,292.96L403.02,277.48L403.32,296.31L403.62,279.8L403.92,293.82L404.22,277.32L404.52,295.7L404.82,280.89L405.12,294.69L405.42,280.53L405.72,296.52L406.02,280.16L406.32,297.5L406.62,278.19L406.92,294.21L407.22,278.54L407.52,295.19L407.82,278.35L408.13,296.8L408.43,280.2L408.73,294.25L409.03,276.54L409.33,295.27L409.63,276.97L409.93,296.1L410.23,278.8L410.53,296.75L410.83,279.43L411.13,295.27L411.43,281.76L411.73,296.01L412.03,280.4L412.33,295.34L412.63,277.61L412.93,294.15L413.23,279.29L413.53,293.66L413.83,279.73L414.13,296.26L414.43,281.45L414.73,295.15L415.03,277.05L415.33,295.36L415.63,280.73L415.93,294.14L416.23,282.67L416.53,294.35L416.83,281.37L417.13,293.81L417.43,281.79L417.73,293.51L418.03,280.4L418.33,295.02L418.63,282.17L418.93,293.67L419.23,281.29L419.53,294.15L419.83,278.57L420.13,293.82L420.43,282.08L420.73,295.9L421.03,282.67L421.33,294.29L421.64,281.98L421.94,295.28L422.24,281.25L422.54,294.95L422.84,282.54L423.14,294.53L423.44,281.02L423.74,293.87L424.04,280.2L424.34,295.3L424.64,282.68L424.94,293.41L425.24,281.73L425.54,293.19L425.84,282.89L426.14,293.45L426.44,282.18L426.74,294.77L427.04,281.27L427.34,293.01L427.64,281.62L427.94,294.14L428.24,281.44L428.54,293.36L428.84,282.53L429.14,292.51L429.44,275.51L429.74,295.36L430.04,282.36L430.34,295.31L430.64,276.53L430.94,294.87L431.24,282.14L431.54,294.75L431.84,280.94L432.14,294.02L432.44,280.54L432.74,293.06L433.04,278.14L433.34,295.55L433.64,280.18L433.94,297.54L434.24,280.07L434.54,294.6L434.84,281.5L435.15,294.33L435.45,282.64L435.75,296.46L436.05,279.02L436.35,294.97L436.65,281.76L436.95,296.03L437.25,279.01L437.55,297.86L437.85,281.87L438.15,296.74L438.45,279.19L438.75,296.57L439.05,281.37L439.35,294.85L439.65,279.28L439.95,295.26L440.25,281.29L440.55,295.91L440.85,281.31L441.15,297.07L441.45,281.76L441.75,294.2L442.05,280.67L442.35,296.1L442.65,279.42L442.95,296.36L443.25,278.59L443.55,298.13L443.85,280.93L444.15,295.58L444.45,282.08L444.75,294.98L445.05,280.59L445.35,294.19L445.65,280.11L445.95,294.47L446.25,281.01L446.55,298.49L446.85,282.26L447.15,293.79L447.45,280.92L447.75,294.4L448.05,279.74L448.36,293.08L448.66,278.92L448.96,296.67L449.26,279.23L449.56,294.93L449.86,281.14L450.16,295.62L450.46,280.29L450.76,294.85L451.06,280.78L451.36,294.88L451.66,279.52L451.96,296.33L452.26,277.76L452.56,294.07L452.86,280.66L453.16,294.87L453.46,279.67L453.76,294.61L454.06,280.84L454.36,293.77L454.66,280.32L454.96,294.94L455.26,275.86L455.56,297.05L455.86,277.72L456.16,298.38L456.46,276.1L456.76,295.49L457.06,278.07L457.36,293.74L457.66,278.79L457.96,295.5L458.26,280.13L458.56,295.4L458.86,276.25L459.16,295.16L459.46,278.89L459.76,294.68L460.06,279.99L460.36,296.98L460.66,281.47L460.96,294.37L461.26,278.84L461.56,295.1L461.87,281.11L462.17,295.76L462.47,280.08L462.77,295.47L463.07,280.01L463.37,295.29L463.67,279.57L463.97,294.88L464.27,281.26L464.57,294.23L464.87,277.85L465.17,295.22L465.47,281.47L465.77,296.56L466.07,281.01L466.37,293.72L466.67,280.19L466.97,294.18L467.27,280.44L467.57,294.94L467.87,281.42L468.17,294.9L468.47,281.98L468.77,294.62L469.07,280.38L469.37,293.18L469.67,281.1L469.97,293.04L470.27,281.09L470.57,295.81L470.87,280.78L471.17,294.87L471.47,279.93L471.77,292.89L472.07,275.92L472.37,294.68L472.67,282.56L472.97,295.13L473.27,281.53L473.57,292.78L473.87,277.8L474.17,293.81L474.47,280.01L474.77,292.48L475.07,280.01L475.38,292.04L475.68,282.09L475.98,293.04L476.28,283.35L476.58,293.62L476.88,282.13L477.18,292.74L477.48,280.3L477.78,293.05L478.08,278.97L478.38,293.62L478.68,279.1L478.98,293.42L479.28,278.49L479.58,294.86L479.88,282.07L480.18,294.12L480.48,281.4L480.78,294.24L481.08,280.1L481.38,294.63L481.68,282.07L481.98,293.04L482.28,279.7L482.58,296.03L482.88,279.72L483.18,292.03L483.48,280.19L483.78,292.42L484.08,280.34L484.38,294.86L484.68,281.84L484.98,295.99L485.28,279.74L485.58,293.22L485.88,281.42L486.18,293.85L486.48,278.72L486.78,294.34L487.08,281.71L487.38,292.48L487.68,281.71L487.98,295.43L488.28,281.38L488.58,294.55L488.89,281L489.19,295.09L489.49,280.71L489.79,293.53L490.09,278.34L490.39,294.75L490.69,279.58L490.99,295.88L491.29,277.25L491.59,292.94L491.89,280.89L492.19,293.81L492.49,280.38L492.79,296.48L493.09,279.05L493.39,293.31L493.69,281.51L493.99,296.15L494.29,279.75L494.59,294.62L494.89,280.55L495.19,293.95L495.49,278.78L495.79,294.62L496.09,278.52L496.39,295.25L496.69,282.06L496.99,294.42L497.29,281.42L497.59,296.69L497.89,280.13L498.19,293.34L498.49,281.56L498.79,294.43L499.09,280.51L499.39,295.02L499.69,280.73L499.99,294.35L500.29,282.71L500.59,294.96L500.89,280.8L501.19,292.97L501.49,280.32L501.79,298.59L502.09,281.9L502.4,293.62L502.7,279.36L503,294L503.3,280.69L503.6,294.62L503.9,280.63L504.2,294.82L504.5,279.64L504.8,297.37L505.1,274.26L505.4,293.03L505.7,279.32L506,295.61L506.3,277.49L506.6,295.65L506.9,278.83L507.2,295.1L507.5,279.69L507.8,294.11L508.1,277.81L508.4,296.38L508.7,276.18L509,295.38" stroke="#000" stroke-width="0.75" fill="none"/>
<path d="M384.5,287.5V263.7M387.5,287.5V258.8M397.5,287.5V258.8M416.5,287.5V258.8M432.5,287.5V268.6M445.5,287.5V263.7M395.5,287.5V272M410.5,287.5V274" stroke="#000" stroke-width="0.9" fill="none"/>
<path d="M535.7,284.89L536,290.65L536.3,285.04L536.6,291.22L536.9,284.15L537.2,293.95L537.5,283.41L537.8,292.48L538.1,283.35L538.4,292.86L538.7,282.66L539,293.21L539.31,283.46L539.61,295.69L539.91,281.4L540.21,294.97L540.51,280.53L540.81,295.19L541.11,281.2L541.41,294.95L541.71,280.24L542.01,296.23L542.31,278.37L542.61,296.83L542.91,276.39L543.21,296.16L543.51,276.6L543.81,296.78L544.11,280.64L544.41,295.55L544.71,278.71L545.01,300.4L545.31,279.38L545.61,297.34L545.92,279.05L546.22,297.88L546.52,280.33L546.82,296.21L547.12,276.35L547.42,295.6L547.72,279.29L548.02,294.5L548.32,279.53L548.62,295.54L548.92,277.46L549.22,295.39L549.52,278.51L549.82,295.33L550.12,277.7L550.42,297.74L550.72,277.43L551.02,295.34L551.32,276.94L551.62,299.13L551.92,277.47L552.22,294.94L552.52,276.35L552.83,297.91L553.13,278.25L553.43,295.24L553.73,278.74L554.03,296.43L554.33,275.67L554.63,296.79L554.93,275.05L555.23,295.57L555.53,278.2L555.83,297.28L556.13,277.07L556.43,296.16L556.73,276.95L557.03,296L557.33,279.38L557.63,296.22L557.93,279.51L558.23,296.86L558.53,278.31L558.83,296.46L559.13,277.46L559.44,295.79L559.74,278L560.04,294.63L560.34,275.32L560.64,296.63L560.94,273.2L561.24,294.98L561.54,277.67L561.84,297.14L562.14,278.73L562.44,295.1L562.74,279.42L563.04,295.25L563.34,277.16L563.64,294.99L563.94,276.93L564.24,295.96L564.54,278.32L564.84,296.39L565.14,278.33L565.44,296.56L565.74,278.21L566.04,295.53L566.35,277.63L566.65,295.26L566.95,277.83L567.25,296.82L567.55,277.52L567.85,295.29L568.15,277.57L568.45,299.18L568.75,278.94L569.05,295.11L569.35,278.72L569.65,298.11L569.95,280.1L570.25,293.73L570.55,278.9L570.85,296.12L571.15,277.62L571.45,295.23L571.75,273.79L572.05,294.85L572.35,277.71L572.65,294.36L572.96,280.76L573.26,294.56L573.56,280.45L573.86,295.66L574.16,278.56L574.46,294.8L574.76,275.84L575.06,295.37L575.36,279.94L575.66,294.89L575.96,277.72L576.26,298.02L576.56,279.86L576.86,294.33L577.16,277.48L577.46,295.33L577.76,274.31L578.06,296.14L578.36,278.19L578.66,295.81L578.96,277.35L579.26,296.23L579.57,279.32L579.87,298.38L580.17,280.17L580.47,297.37L580.77,280.45L581.07,297.13L581.37,279.18L581.67,298.34L581.97,280.58L582.27,297.07L582.57,279.27L582.87,299.09L583.17,276.03L583.47,297.47L583.77,280.03L584.07,296.47L584.37,279.98L584.67,297.05L584.97,280.17L585.27,296.46L585.57,278.25L585.87,297.8L586.17,280.12L586.48,302.19L586.78,280.49L587.08,297.63L587.38,280.81L587.68,298.99L587.98,277.8L588.28,296.81L588.58,278.74L588.88,298.71L589.18,280.6L589.48,296.96L589.78,280.01L590.08,299.19L590.38,281.18L590.68,297.95L590.98,279.72L591.28,297.17L591.58,279.84L591.88,298.96L592.18,281.14L592.48,298.9L592.78,280.66L593.09,298.13L593.39,278.34L593.69,296.12L593.99,278.34L594.29,301.83L594.59,280.87L594.89,295.17L595.19,281.55L595.49,300.04L595.79,282.42L596.09,298.69L596.39,281.29L596.69,297.4L596.99,281.48L597.29,295.56L597.59,279.24L597.89,295.17L598.19,280.4L598.49,298.44L598.79,278.9L599.09,297.98L599.39,275.46L599.69,294.61L600,280.46L600.3,297.24L600.6,278.72L600.9,294.54L601.2,279.33L601.5,295.31L601.8,279.47L602.1,294.84L602.4,281.19L602.7,300.31L603,279.61L603.3,297.65L603.6,280.23L603.9,295.92L604.2,280.05L604.5,295.75L604.8,279.76L605.1,296.56L605.4,279.79L605.7,296.78L606,278.48L606.3,294.82L606.61,278.89L606.91,295.96L607.21,275.81L607.51,295.57L607.81,279.23L608.11,299.05L608.41,276.16L608.71,296.81L609.01,278.94L609.31,295.11L609.61,278.93L609.91,294.68L610.21,279.95L610.51,296.06L610.81,278.43L611.11,296.21L611.41,278.58L611.71,294.15L612.01,277.4L612.31,296.51L612.61,278L612.91,296.15L613.21,277.43L613.52,299.64L613.82,276.25L614.12,296.68L614.42,278.59L614.72,295.4L615.02,278.56L615.32,299.08L615.62,278.71L615.92,295.48L616.22,278.68L616.52,294.71L616.82,271.17L617.12,293.65L617.42,278.07L617.72,297.8L618.02,279.32L618.32,295.86L618.62,278.95L618.92,294.72L619.22,279.59L619.52,294.23L619.82,276.92L620.13,296.33L620.43,276.25L620.73,293.74L621.03,277.87L621.33,294.64L621.63,278.09L621.93,295.2L622.23,279.26L622.53,298.16L622.83,281.41L623.13,295.78L623.43,276.86L623.73,294.9L624.03,278.28L624.33,299.7L624.63,279.47L624.93,295.19L625.23,277.54L625.53,294.42L625.83,277.67L626.13,294.45L626.43,278.4L626.73,295.09L627.04,277.76L627.34,294.26L627.64,277.93L627.94,294.9L628.24,279.29L628.54,295.15L628.84,279.11L629.14,296.83L629.44,278.38L629.74,295.66L630.04,278.18L630.34,294.91L630.64,279.16L630.94,294.02L631.24,275.54L631.54,295.23L631.84,278.1L632.14,295.32L632.44,276.73L632.74,294.62L633.04,279.29L633.34,296.72L633.65,278.32L633.95,296.01L634.25,276.64L634.55,297.5L634.85,276.32L635.15,294.29L635.45,278.66L635.75,297.24L636.05,276.82L636.35,294.92L636.65,279.55L636.95,295.45L637.25,279.84L637.55,295.84L637.85,277.1L638.15,296.4L638.45,278.72L638.75,295.17L639.05,278.98L639.35,301.94L639.65,277.95L639.95,296.44L640.26,278.88L640.56,297.77L640.86,277.79L641.16,295.68L641.46,278.28L641.76,296.36L642.06,279L642.36,296.03L642.66,279.58L642.96,296.33L643.26,279.63L643.56,295.02L643.86,280.32L644.16,296.98L644.46,281.07L644.76,295.85L645.06,278.55L645.36,296.11L645.66,280.07L645.96,295.98L646.26,277.92L646.56,295.42L646.86,279.04L647.17,298.12L647.47,280.58L647.77,296.34L648.07,278.27L648.37,296.86L648.67,280L648.97,294.93L649.27,279.75L649.57,296.01L649.87,278.66L650.17,295.75L650.47,279.78L650.77,296.73L651.07,277.98L651.37,295.79L651.67,279.73L651.97,296.39L652.27,276.65L652.57,295.24L652.87,275.38L653.17,296.77L653.47,279.52L653.78,296.56L654.08,279.56L654.38,294.66L654.68,277.79L654.98,295.64L655.28,278.68L655.58,295.95L655.88,276.38L656.18,296.87L656.48,280.55L656.78,296.24L657.08,278.56L657.38,295.85L657.68,276.68L657.98,295.74L658.28,278.31L658.58,297.78L658.88,278.33L659.18,295.99L659.48,277.99L659.78,297.33L660.08,277.28L660.38,296.91L660.69,278.19L660.99,294.58L661.29,277.09L661.59,296.3L661.89,276.57L662.19,297.15L662.49,279.03L662.79,295.43L663.09,279.21L663.39,297.47L663.69,279.05L663.99,295.01L664.29,276.52L664.59,296.48L664.89,279.31L665.19,296.89L665.49,276.74L665.79,296.26L666.09,279.32L666.39,296.94L666.69,277.89L666.99,296.56L667.3,270.57L667.6,297.52L667.9,275.73L668.2,295.24L668.5,278.26L668.8,296.29L669.1,280.14L669.4,300.31L669.7,278.54L670,295.49L670.3,278.45L670.6,295.42" stroke="#000" stroke-width="0.75" fill="none"/>
<path d="M542.5,287.4V265.3M544.5,287.4V258.8M548.5,287.4V265.3M555.5,287.4V266.4M562.5,287.4V258.8M566.5,287.4V258.8M568.5,287.4V258.8M572.5,287.4V267M587.5,287.4V258.8M653.5,287.4V273" stroke="#000" stroke-width="0.9" fill="none"/>
<path d="M51,361.77L51.6,361.71L52.2,362.07L52.8,361.98L53.4,361.4L54,361.29L54.6,361.67L55.2,361.68L55.8,361.94L56.4,361.38L57,361.23L57.6,361.45L58.2,361.66L58.8,361.43L59.4,361.38L60,361.74L60.6,361.47L61.2,361.91L61.8,361.11L62.4,361.67L63,362.39L63.6,362.02L64.2,363.13L64.8,363.14L65.4,363.32L66,363.27L66.6,363.36L67.2,362.69L67.8,362.6L68.4,362.54L69,362.77L69.6,362.94L70.2,362.91L70.8,362.38L71.4,361.64L72,362.1L72.6,361.99L73.2,361.42L73.8,362.25L74.4,361.82L75,362.08L75.6,362.48L76.2,362.01L76.8,362.12L77.4,361.49L78,361.15L78.6,361.45L79.2,361.51L79.8,362.07L80.4,362.3L81,361.04L81.6,361.34L82.2,361.84L82.8,361.28L83.4,361.68L84,361.58L84.6,361.28L85.2,361.74L85.8,361.66L86.4,360.76L87,360.94L87.6,361.38L88.2,360.73L88.8,360.73L89.4,360.39L90,360.84L90.6,360.53L91.2,360.01L91.8,360.36L92.4,360.14L93,359.71L93.6,360.11L94.2,359.74L94.8,359.19L95.4,359.11L96,359.97L96.6,359.81L97.2,358.97L97.8,359.15L98.4,358.25L99,358.72L99.6,358.94L100.2,358.62L100.8,357.95L101.4,357.64L102,357.14L102.6,357.44L103.2,356.93L103.8,355.62L104.4,355.98L105,356.25L105.6,357.08L106.2,356.28L106.8,356.37L107.4,357.23L108,356.55L108.6,357.27L109.2,357.54L109.8,357.03L110.4,357.42L111,357.23L111.6,357.23L112.2,357.11L112.8,356.95L113.4,357.29L114,356.72L114.6,356.48L115.2,356.83L115.8,356.39L116.4,356.12L117,356.2L117.6,356.65L118.2,355.43L118.8,355.49L119.4,355.59L120,356.19L120.6,356.33L121.2,355.71L121.8,354.8L122.4,354.35L123,354.38L123.6,354.09L124.2,354.44L124.8,355.25L125.4,354.79L126,355.33L126.6,355.4L127.2,355.42L127.8,355.58L128.4,354.95L129,354.37L129.6,355.08L130.2,354.74L130.8,354.3L131.4,355.49L132,355.47L132.6,355.51L133.2,355.37L133.8,354.48L134.4,354.48L135,354.94L135.6,355.13L136.2,354.56L136.8,354.96L137.4,355.21L138,354.81L138.6,354.7L139.2,354.55L139.8,354.88L140.4,354.54L141,354.87L141.6,354.6L142.2,354.27L142.8,354.74L143.4,354.25L144,354.29L144.6,353.85L145.2,354.55L145.8,354.28L146.4,354.34L147,354.74L147.6,353.98L148.2,354.24L148.8,353.73L149.4,354.1L150,353.52L150.6,352.92L151.2,352.98L151.8,352.56L152.4,353.51L153,352.29L153.6,353.24L154.2,353.67L154.8,353.85L155.4,353.73L156,353.82L156.6,353.5L157.2,354L157.8,353.21L158.4,352.81L159,353.79L159.6,353.4L160.2,353.01L160.8,352.94L161.4,352.01L162,352.73L162.6,352.69L163.2,353.07L163.8,353.3L164.4,352.86L165,353.43L165.6,353.09L166.2,352.81L166.8,353.29L167.4,352.63L168,352.48L168.6,353.01L169.2,352.56L169.8,352.99L170.4,352.31L171,352.4L171.6,352.12L172.2,352.9L172.8,352.85L173.4,352.79L174,352.07L174.6,351.95L175.2,351.89L175.8,352.63L176.4,351.87L177,351.75L177.6,351.24L178.2,351.3L178.8,351.68L179.4,352L180,352.06L180.6,351.74L181.2,352.2L181.8,351.89L182.4,351.52L183,351.98L183.6,351.71L184.2,351.39L184.8,351.33L185.4,351.68M51,361.88L51.6,361.43L52.2,361.53L52.8,361.87L53.4,361.91L54,362.11L54.6,361.92L55.2,361.96L55.8,361.53L56.4,361.68L57,361.54L57.6,361.25L58.2,361.46L58.8,361.59L59.4,361.85L60,361.47L60.6,361.6L61.2,361.78L61.8,361.72L62.4,361.7L63,361.44L63.6,361.36L64.2,362L64.8,362.1L65.4,363.35L66,362.91L66.6,362.67L67.2,362.8L67.8,362.7L68.4,363.06L69,363.28L69.6,362.98L70.2,362.36L70.8,362.25L71.4,362.76L72,362.19L72.6,362.49L73.2,362.07L73.8,362.73L74.4,362.5L75,362.18L75.6,362.02L76.2,362.27L76.8,361.94L77.4,360.67L78,359.35L78.6,359.7L79.2,360.09L79.8,360.15L80.4,360.49L81,360.85L81.6,361.03L82.2,359.77L82.8,359.54L83.4,358.96L84,359.69L84.6,359.9L85.2,359.77L85.8,360.2L86.4,360.49L87,360.6L87.6,360.6L88.2,360.96L88.8,360.54L89.4,360.14L90,359.42L90.6,359.55L91.2,358.89L91.8,359.77L92.4,359.1L93,358.91L93.6,358.51L94.2,358.43L94.8,357.5L95.4,357.68L96,358.9L96.6,357.72L97.2,357.3L97.8,357.76L98.4,359.3L99,358.81L99.6,358.63L100.2,358.52L100.8,358.52L101.4,358.47L102,358.33L102.6,358.31L103.2,357.57L103.8,357.28L104.4,356.69L105,357.34L105.6,357.43L106.2,356.45L106.8,356.47L107.4,356.75L108,356.29L108.6,356.82L109.2,357.51L109.8,357.56L110.4,357.71L111,357.13L111.6,356.32L112.2,355.96L112.8,356.82L113.4,356.63L114,356.69L114.6,355.92L115.2,356.78L115.8,356.6L116.4,356.42L117,355.53L117.6,355.04L118.2,353.89L118.8,354.06L119.4,353.14L120,353.38L120.6,354.39L121.2,354.52L121.8,354.43L122.4,353.89L123,354.57L123.6,354.54L124.2,353.77L124.8,353.19L125.4,353.35L126,354.31L126.6,354.35L127.2,353.63L127.8,353.36L128.4,353.28L129,353.04L129.6,352.13L130.2,352.6L130.8,353.17L131.4,353.5L132,353.27L132.6,353.1L133.2,353.65L133.8,353.06L134.4,353.18L135,353.62L135.6,354.08L136.2,354.01L136.8,353.71L137.4,353.57L138,354.36L138.6,354.46L139.2,355.04L139.8,354.29L140.4,354.97L141,354.25L141.6,354.82L142.2,354.7L142.8,354.49L143.4,354.63L144,354.7L144.6,354.72L145.2,354.61L145.8,353.95L146.4,354.27L147,354.64L147.6,354.21L148.2,354.4L148.8,354.04L149.4,353.71L150,353.87L150.6,353.3L151.2,352.82L151.8,353.3L152.4,352.63L153,353.12L153.6,353.21L154.2,353.2L154.8,353.41L155.4,352.83L156,351.99L156.6,353.18L157.2,352.98L157.8,352.51L158.4,352.25L159,352.44L159.6,353.25L160.2,353.73L160.8,352.94L161.4,353.01L162,352.79L162.6,352.96L163.2,352.84L163.8,353.04L164.4,353.27L165,353.23L165.6,352.54L166.2,353.09L166.8,353.29L167.4,352.96L168,352.87L168.6,352.92L169.2,352.31L169.8,352.22L170.4,352.26L171,352.56L171.6,352.03L172.2,352.53L172.8,351.95L173.4,351.81L174,352.22L174.6,351.94L175.2,352.23L175.8,351.6L176.4,352.13L177,352.28L177.6,351.64L178.2,351.76L178.8,352.11L179.4,352.03L180,351.59L180.6,351.5L181.2,351.77L181.8,351.67L182.4,351.07L183,351.61L183.6,350.43L184.2,350.05L184.8,349.27L185.4,348.97M51,361.48L51.6,361.96L52.2,361.92L52.8,361.35L53.4,361.46L54,361.39L54.6,361.87L55.2,361.16L55.8,361.37L56.4,361.23L57,361.6L57.6,361.81L58.2,361.55L58.8,361.22L59.4,361.13L60,360.96L60.6,361.79L61.2,361.34L61.8,361.43L62.4,361.3L63,361.32L63.6,361.22L64.2,361.08L64.8,361.32L65.4,361.07L66,361.46L66.6,361.41L67.2,361.06L67.8,361.54L68.4,361.77L69,362.16L69.6,361.47L70.2,361.55L70.8,361.31L71.4,360.94L72,360.68L72.6,360.69L73.2,360.17L73.8,359.94L74.4,359.14L75,359.14L75.6,359.02L76.2,359.67L76.8,358.34L77.4,358.78L78,358.5L78.6,358.71L79.2,358.35L79.8,358.36L80.4,358.85L81,358.52L81.6,358.43L82.2,359.98L82.8,359.52L83.4,360.03L84,359.86L84.6,359.49L85.2,358.13L85.8,358.34L86.4,358.01L87,357.23L87.6,357.05L88.2,357.24L88.8,356.96L89.4,356.38L90,357.03L90.6,356.67L91.2,356.68L91.8,356.42L92.4,356.63L93,357.45L93.6,358.21L94.2,358.79L94.8,358.93L95.4,358.12L96,358.98L96.6,358.23L97.2,358.07L97.8,357.17L98.4,357.47L99,357.07L99.6,357.63L100.2,357.45L100.8,357.12L101.4,357.14L102,357.35L102.6,356.76L103.2,355.96L103.8,356.16L104.4,356.59L105,356.94L105.6,357.52L106.2,357.69L106.8,358L107.4,357.22L108,357.1L108.6,357.37L109.2,357.3L109.8,357.27L110.4,356.01L111,357.45L111.6,356.1L112.2,356.42L112.8,356.79L113.4,355.94L114,355.66L114.6,355.48L115.2,355.37L115.8,355.31L116.4,354.71L117,354.97L117.6,354.19L118.2,354.73L118.8,354.28L119.4,355.54L120,354.8L120.6,355.06L121.2,355.71L121.8,354.82L122.4,354.09L123,354.42L123.6,354.96L124.2,354.4L124.8,354.96L125.4,354.54L126,354.73L126.6,354.36L127.2,353.96L127.8,354.7L128.4,353.2L129,353.4L129.6,352.16L130.2,352.72L130.8,352.5L131.4,352.62L132,352.7L132.6,353.17L133.2,353.17L133.8,353.34L134.4,352.35L135,353.26L135.6,352.99L136.2,352.96L136.8,352.7L137.4,353.2L138,353.55L138.6,352.58L139.2,352.81L139.8,352.22L140.4,352.86L141,353.18L141.6,353.65L142.2,354.15L142.8,353.81L143.4,354.01L144,353.68L144.6,352.55L145.2,352.51L145.8,353.23L146.4,353.95L147,353.57L147.6,352.82L148.2,353.11L148.8,352.91L149.4,353.11L150,353.67L150.6,353.58L151.2,353.34L151.8,353.07L152.4,352.61L153,352.06L153.6,352.2L154.2,352.11L154.8,351.63L155.4,352.15L156,352.09L156.6,352L157.2,351.61L157.8,351.84L158.4,352.24L159,352.29L159.6,353.05L160.2,352.14L160.8,352.12L161.4,352.81L162,352.3L162.6,351.32L163.2,351.74L163.8,351.64L164.4,352.46L165,351.74L165.6,352.42L166.2,351.08L166.8,350.67L167.4,350.54L168,350.79L168.6,351.22L169.2,350.21L169.8,350.18L170.4,349.57L171,350.06L171.6,349.23L172.2,350.12L172.8,349.58L173.4,350.52L174,350.12L174.6,351.22L175.2,350.53L175.8,350.15L176.4,349.85L177,349.63L177.6,349.66L178.2,349.88L178.8,349.52L179.4,349.33L180,348.72L180.6,350.13L181.2,349.58L181.8,349.03L182.4,349.41L183,349.16L183.6,349.39L184.2,349.15L184.8,348.86L185.4,349.01M51,361.99L51.6,362L52.2,361.82L52.8,361.83L53.4,361.85L54,361.68L54.6,361.26L55.2,361.8L55.8,361.19L56.4,361.83L57,361.38L57.6,361.75L58.2,361.18L58.8,361.51L59.4,361.5L60,361.22L60.6,361.07L61.2,361.42L61.8,361.35L62.4,360.75L63,360.42L63.6,361.05L64.2,360.47L64.8,360.81L65.4,360.27L66,361.28L66.6,361.29L67.2,361.45L67.8,360.42L68.4,359.68L69,360.69L69.6,360.64L70.2,360.94L70.8,361.08L71.4,361.47L72,361.08L72.6,361.27L73.2,360.2L73.8,361.05L74.4,359.89L75,359.99L75.6,360.02L76.2,360.16L76.8,359.48L77.4,360.41L78,360.35L78.6,360.75L79.2,360.88L79.8,360.74L80.4,359.96L81,359.8L81.6,359.28L82.2,358.78L82.8,358.26L83.4,356.89L84,357.29L84.6,357.49L85.2,357.38L85.8,359.1L86.4,358.66L87,358.87L87.6,357.41L88.2,358.65L88.8,358.64L89.4,358.85L90,358.92L90.6,358.47L91.2,359.09L91.8,358.3L92.4,358.29L93,358.24L93.6,357.94L94.2,357.2L94.8,358.04L95.4,358.89L96,358.96L96.6,359.55L97.2,359.6L97.8,357.68L98.4,357.1L99,357.17L99.6,356.93L100.2,357.78L100.8,358.53L101.4,358.93L102,358.3L102.6,358.43L103.2,358.12L103.8,358.08L104.4,357.93L105,357.72L105.6,357.26L106.2,357.11L106.8,357.58L107.4,357.02L108,357L108.6,356.84L109.2,357.26L109.8,357.3L110.4,357.51L111,357.15L111.6,356.98L112.2,355.58L112.8,355.37L113.4,356.07L114,355.38L114.6,355.36L115.2,356.2L115.8,356.41L116.4,355.91L117,355.4L117.6,355.39L118.2,356.11L118.8,355.67L119.4,355.56L120,354.75L120.6,355.34L121.2,355.71L121.8,355.96L122.4,356.12L123,355.3L123.6,355.31L124.2,355.31L124.8,354.9L125.4,355.1L126,355.67L126.6,354.59L127.2,354.75L127.8,354.45L128.4,353.56L129,354.16L129.6,353.29L130.2,353.23L130.8,353.89L131.4,354.55L132,354.57L132.6,355.45L133.2,355.36L133.8,355.17L134.4,355.16L135,354.78L135.6,354.63L136.2,354.61L136.8,355.15L137.4,355.04L138,354.44L138.6,354.5L139.2,354.63L139.8,355.2L140.4,354.51L141,354.45L141.6,353.84L142.2,353.48L142.8,353.43L143.4,353.48L144,352.91L144.6,352.13L145.2,353.28L145.8,352.84L146.4,352.29L147,352.72L147.6,352.39L148.2,352.39L148.8,352.07L149.4,352.16L150,351.54L150.6,351.35L151.2,350.58L151.8,350.91L152.4,351.39L153,352.2L153.6,350.96L154.2,351.04L154.8,351.85L155.4,351.53L156,351.55L156.6,352.09L157.2,351.97L157.8,351.54L158.4,350.95L159,350.05L159.6,350.57L160.2,350.61L160.8,350.09L161.4,349.92L162,350.51L162.6,350.11L163.2,350.31L163.8,350.43L164.4,350.69L165,350.67L165.6,350.61L166.2,351.59L166.8,351.72L167.4,351.61L168,352.77L168.6,351.96L169.2,352.21L169.8,351.8L170.4,352.2L171,352.3L171.6,352.2L172.2,351.48L172.8,352.17L173.4,351.76L174,351.73L174.6,351.6L175.2,351.15L175.8,350.67L176.4,350.33L177,349.17L177.6,350.3L178.2,350.22L178.8,350.26L179.4,349.4L180,349.4L180.6,349.91L181.2,350.43L181.8,349.81L182.4,350.15L183,349.83L183.6,350.03L184.2,350.17L184.8,350.56L185.4,350.49M51,361.77L51.6,361.58L52.2,361.36L52.8,361.7L53.4,360.96L54,361.44L54.6,361.02L55.2,360.99L55.8,361.16L56.4,361.2L57,361.48L57.6,361.1L58.2,361.73L58.8,361.76L59.4,361.65L60,361.01L60.6,360.73L61.2,360.88L61.8,361.18L62.4,361.02L63,360.51L63.6,361.08L64.2,361.24L64.8,361.44L65.4,361.43L66,361.44L66.6,360.5L67.2,359.16L67.8,359.94L68.4,359.69L69,359.82L69.6,360.65L70.2,359.7L70.8,359.11L71.4,359.5L72,358.8L72.6,358.99L73.2,359.49L73.8,359.48L74.4,360.09L75,359.48L75.6,359.3L76.2,359.05L76.8,357.82L77.4,357.73L78,357.39L78.6,356.81L79.2,358.82L79.8,358.52L80.4,358.48L81,357.15L81.6,357.47L82.2,357.84L82.8,358.01L83.4,358.51L84,357.43L84.6,357.69L85.2,357.66L85.8,357.16L86.4,356.68L87,356.89L87.6,356.61L88.2,357.65L88.8,357.01L89.4,356.72L90,357.44L90.6,358.03L91.2,357.18L91.8,357.82L92.4,358.61L93,357.54L93.6,357.65L94.2,357.15L94.8,357.35L95.4,357.53L96,357.62L96.6,356.96L97.2,356.62L97.8,356.05L98.4,356.21L99,356.56L99.6,356.3L100.2,355.4L100.8,355.29L101.4,355.66L102,355.49L102.6,355.75L103.2,355.55L103.8,356.06L104.4,355.38L105,355.42L105.6,354.84L106.2,355.59L106.8,356.72L107.4,356.78L108,357.1L108.6,356.55L109.2,356.64L109.8,355.1L110.4,355.42L111,355.75L111.6,355.45L112.2,355.6L112.8,355.72L113.4,355.51L114,355L114.6,355.52L115.2,356.29L115.8,355.31L116.4,354.38L117,354.75L117.6,354.65L118.2,354.6L118.8,354.32L119.4,354.22L120,352.7L120.6,352.99L121.2,352.54L121.8,352.28L122.4,351.22L123,351.75L123.6,351.51L124.2,353.02L124.8,351.85L125.4,351.89L126,352.2L126.6,352.08L127.2,352L127.8,351.89L128.4,351.43L129,352.15L129.6,351.58L130.2,352.04L130.8,351.6L131.4,351.96L132,352.05L132.6,352.49L133.2,352.94L133.8,352.91L134.4,351.87L135,352.35L135.6,352.1L136.2,352.29L136.8,352.44L137.4,352.58L138,352.65L138.6,352.22L139.2,352.99L139.8,353.16L140.4,353.65L141,353.26L141.6,352.71L142.2,352.72L142.8,353.07L143.4,352.36L144,352.39L144.6,352.48L145.2,352.96L145.8,353.23L146.4,352.82L147,351.89L147.6,352.53L148.2,352.67L148.8,351.52L149.4,352.32L150,350.93L150.6,350.54L151.2,351.1L151.8,350.98L152.4,352.09L153,352.16L153.6,351.61L154.2,351.25L154.8,350.84L155.4,351.61L156,351.32L156.6,350.91L157.2,351.65L157.8,351.44L158.4,352.18L159,351.55L159.6,351.64L160.2,351.38L160.8,351.49L161.4,351.38L162,351.67L162.6,351.85L163.2,351.78L163.8,350.14L164.4,349.86L165,349.51L165.6,348.72L166.2,348.83L166.8,350.19L167.4,350.84L168,350.88L168.6,351.08L169.2,350.49L169.8,350.86L170.4,350.32L171,350.61L171.6,350.35L172.2,349.28L172.8,348.89L173.4,349.14L174,349.17L174.6,349.83L175.2,349.7L175.8,349.47L176.4,349.52L177,349.85L177.6,349.84L178.2,349.85L178.8,349.52L179.4,349.92L180,349.24L180.6,348.97L181.2,348.47L181.8,348.93L182.4,348.37L183,348.1L183.6,348.11L184.2,348.76L184.8,349.27L185.4,349.23M51,361.74L51.6,361.05L52.2,361.13L52.8,361.44L53.4,361.27L54,360.99L54.6,361.39L55.2,361.38L55.8,360.94L56.4,361.27L57,361.09L57.6,361.25L58.2,361.34L58.8,361.31L59.4,361.11L60,361.21L60.6,360.95L61.2,361.37L61.8,361.42L62.4,361.74L63,361.49L63.6,361.37L64.2,360.97L64.8,360.54L65.4,360.53L66,360.78L66.6,360.64L67.2,359.52L67.8,359.76L68.4,359.99L69,359.89L69.6,359.29L70.2,359.77L70.8,359.78L71.4,359.19L72,359.05L72.6,359.25L73.2,358.48L73.8,358.6L74.4,358.92L75,359.2L75.6,358.55L76.2,359.61L76.8,360.13L77.4,359.57L78,360.16L78.6,360.25L79.2,359.44L79.8,358.45L80.4,358.17L81,358.23L81.6,358.61L82.2,357.66L82.8,357.97L83.4,358.58L84,358.17L84.6,359.08L85.2,359.79L85.8,358.58L86.4,359.19L87,358.66L87.6,359.18L88.2,359.43L88.8,359.19L89.4,358.3L90,358.6L90.6,359L91.2,358.12L91.8,358.09L92.4,357.74L93,356.71L93.6,357.01L94.2,356.7L94.8,356.41L95.4,357.16L96,357.85L96.6,356.72L97.2,356.5L97.8,355.81L98.4,355.81L99,354.67L99.6,354.52L100.2,354.31L100.8,354.91L101.4,355.36L102,353.78L102.6,353.63L103.2,354.12L103.8,354.49L104.4,354.89L105,354.81L105.6,355.47L106.2,355.74L106.8,355.24L107.4,354.45L108,355.02L108.6,355.79L109.2,355.03L109.8,354.87L110.4,355.12L111,354.61L111.6,354.76L112.2,354.59L112.8,354.06L113.4,354L114,354.63L114.6,354.43L115.2,353.41L115.8,354.02L116.4,354.43L117,353.73L117.6,352.96L118.2,352.5L118.8,353.55L119.4,352.98L120,353.2L120.6,352.44L121.2,352.82L121.8,353.38L122.4,353.6L123,352.37L123.6,353.76L124.2,352.25L124.8,353.42L125.4,353.46L126,353.39L126.6,353.12L127.2,352.88L127.8,352.33L128.4,351.65L129,351.92L129.6,352.17L130.2,351.71L130.8,351.91L131.4,352.54L132,351.41L132.6,351.82L133.2,350.77L133.8,350.64L134.4,351.36L135,350.89L135.6,352.08L136.2,351.65L136.8,352.48L137.4,351.79L138,352.32L138.6,353.21L139.2,352.5L139.8,352.58L140.4,352.31L141,352.74L141.6,352.49L142.2,352.1L142.8,351.09L143.4,351.74L144,351.72L144.6,352.08L145.2,352.05L145.8,350.93L146.4,350.99L147,351.48L147.6,350.57L148.2,350.88L148.8,350.46L149.4,350.37L150,350.59L150.6,350.14L151.2,350.1L151.8,350.52L152.4,350.91L153,350.44L153.6,350.48L154.2,350.88L154.8,350.61L155.4,350.43L156,350.42L156.6,350.48L157.2,351.12L157.8,350.65L158.4,350.5L159,350.44L159.6,350.14L160.2,350.45L160.8,351.02L161.4,350.98L162,351.12L162.6,351.21L163.2,349.51L163.8,350.11L164.4,350.52L165,350.39L165.6,349.65L166.2,350.86L166.8,350.42L167.4,349.7L168,350.25L168.6,350.52L169.2,350.07L169.8,349.78L170.4,349.77L171,349.22L171.6,349.89L172.2,349.73L172.8,349.83L173.4,350.1L174,350.05L174.6,348.93L175.2,348.6L175.8,348.2L176.4,348.95L177,349.58L177.6,349.3L178.2,349.26L178.8,349.69L179.4,349.35L180,348.42L180.6,348.94L181.2,349.33L181.8,349.19L182.4,348.89L183,348.91L183.6,348.82L184.2,348.11L184.8,348.36L185.4,348.32M51,361.27L51.6,360.89L52.2,361.05L52.8,360.83L53.4,361.23L54,361.09L54.6,361.48L55.2,360.88L55.8,360.61L56.4,361.22L57,361.14L57.6,361L58.2,360.5L58.8,360.87L59.4,360.54L60,360.9L60.6,360.95L61.2,360.96L61.8,360.75L62.4,360.46L63,359.87L63.6,359.95L64.2,360.24L64.8,361L65.4,359.94L66,360.16L66.6,359.71L67.2,360.45L67.8,360.24L68.4,360.63L69,359.94L69.6,359.49L70.2,357.96L70.8,358.81L71.4,359.15L72,358.61L72.6,357.93L73.2,358.07L73.8,359.05L74.4,358.68L75,357.96L75.6,358.64L76.2,359.35L76.8,359.04L77.4,359.66L78,358.14L78.6,357.99L79.2,357.79L79.8,359.17L80.4,358.76L81,357.92L81.6,357.94L82.2,358.67L82.8,357.72L83.4,358.49L84,358.38L84.6,357.84L85.2,357.03L85.8,356.69L86.4,356.32L87,356.28L87.6,356.31L88.2,356.67L88.8,355.55L89.4,355.19L90,354.62L90.6,354.65L91.2,355.68L91.8,355.45L92.4,355.51L93,355.33L93.6,355.46L94.2,355.74L94.8,356.87L95.4,357.32L96,357.8L96.6,357.1L97.2,356.18L97.8,356.53L98.4,356.65L99,355.96L99.6,355.82L100.2,356.01L100.8,356.21L101.4,355.65L102,355.17L102.6,355.61L103.2,355.94L103.8,355.53L104.4,355.08L105,354.29L105.6,354.64L106.2,353.71L106.8,353.17L107.4,352.92L108,352.91L108.6,353.22L109.2,352.92L109.8,352.76L110.4,352.37L111,352.36L111.6,353.07L112.2,352.19L112.8,353.31L113.4,353.15L114,353.34L114.6,354.04L115.2,353.95L115.8,353.36L116.4,354.4L117,354.45L117.6,354.71L118.2,354.36L118.8,354.33L119.4,353.84L120,353.92L120.6,353.4L121.2,352.46L121.8,352.62L122.4,352.18L123,351.8L123.6,352.27L124.2,351.86L124.8,352.65L125.4,351.55L126,351.42L126.6,352.05L127.2,352.79L127.8,352.19L128.4,352.59L129,352.5L129.6,353.29L130.2,352.55L130.8,352.19L131.4,352.21L132,352.4L132.6,352.14L133.2,352.45L133.8,351.6L134.4,352.17L135,351.66L135.6,351.74L136.2,352.43L136.8,352.57L137.4,351.97L138,352.35L138.6,351.35L139.2,352.03L139.8,352.06L140.4,352.6L141,352.91L141.6,352.8L142.2,352.31L142.8,352.29L143.4,352.36L144,352.08L144.6,352.02L145.2,351.4L145.8,351.2L146.4,352.19L147,351.61L147.6,350.83L148.2,350.87L148.8,349.62L149.4,349.68L150,349.84L150.6,351.13L151.2,351.21L151.8,350.76L152.4,350.94L153,351.68L153.6,351.29L154.2,351.21L154.8,351.4L155.4,351.29L156,351.28L156.6,351.5L157.2,351.34L157.8,350.67L158.4,350.74L159,351.7L159.6,350.29L160.2,350.38L160.8,350.78L161.4,350.63L162,350.53L162.6,351.29L163.2,350.01L163.8,349.75L164.4,349.13L165,348.48L165.6,349.04L166.2,349.08L166.8,349.16L167.4,349.58L168,349L168.6,349.43L169.2,349.64L169.8,349.81L170.4,349.77L171,349.36L171.6,349.54L172.2,348.83L172.8,349.16L173.4,348.75L174,348.7L174.6,348.32L175.2,349.13L175.8,349L176.4,348.72L177,349.62L177.6,349.37L178.2,349.68L178.8,348.86L179.4,349.85L180,349.45L180.6,349.38L181.2,348.82L181.8,348.93L182.4,348.41L183,348.44L183.6,348.79L184.2,348.51L184.8,349.31L185.4,349.18M51,361.53L51.6,361.23L52.2,361.26L52.8,361.52L53.4,361.32L54,360.82L54.6,361.27L55.2,360.78L55.8,360.96L56.4,361.34L57,360.67L57.6,360.88L58.2,360.62L58.8,360.29L59.4,360.54L60,360.62L60.6,360.96L61.2,360.39L61.8,360.08L62.4,359.95L63,359.42L63.6,359.04L64.2,358.66L64.8,358.66L65.4,358.97L66,358.65L66.6,359.84L67.2,359.19L67.8,359.53L68.4,358.99L69,357.73L69.6,357.17L70.2,357.89L70.8,357.97L71.4,357.18L72,357.57L72.6,357.92L73.2,358.73L73.8,358.41L74.4,357.41L75,357.28L75.6,358.12L76.2,357.47L76.8,358.14L77.4,358.79L78,359.16L78.6,359.02L79.2,359.85L79.8,359.28L80.4,358.4L81,358.8L81.6,357.67L82.2,356.82L82.8,357.17L83.4,356.48L84,356.4L84.6,357.54L85.2,357.6L85.8,357.7L86.4,357.87L87,357.32L87.6,356.69L88.2,356.33L88.8,355.51L89.4,354.81L90,355.21L90.6,354.37L91.2,354.79L91.8,354.92L92.4,354.95L93,355.44L93.6,355.56L94.2,354.84L94.8,355.24L95.4,354.96L96,355.05L96.6,354.6L97.2,354.63L97.8,355.23L98.4,353.93L99,354.79L99.6,354.24L100.2,354.09L100.8,353.8L101.4,353.73L102,353.94L102.6,353.26L103.2,353.32L103.8,353.22L104.4,353.45L105,353.67L105.6,354.09L106.2,353.43L106.8,353.12L107.4,352.92L108,353.75L108.6,353.3L109.2,353.04L109.8,353.54L110.4,353.24L111,352.86L111.6,353.12L112.2,353.62L112.8,353.76L113.4,353.58L114,353.94L114.6,353.65L115.2,353.77L115.8,354.23L116.4,353.61L117,353.7L117.6,354.2L118.2,353.58L118.8,354.07L119.4,353.82L120,353.8L120.6,353.29L121.2,352.68L121.8,353.25L122.4,353.38L123,352.79L123.6,353.15L124.2,353.06L124.8,352.53L125.4,351.78L126,351.32L126.6,351.84L127.2,352.23L127.8,352.78L128.4,353.02L129,352.2L129.6,351.88L130.2,351.3L130.8,350.97L131.4,351.53L132,350.99L132.6,350.77L133.2,350.86L133.8,350.35L134.4,350.76L135,351.62L135.6,351.01L136.2,351.31L136.8,351.68L137.4,352.11L138,351.33L138.6,351.25L139.2,350.62L139.8,350.32L140.4,351.29L141,350.69L141.6,350.68L142.2,350.3L142.8,351.16L143.4,350.28L144,350.12L144.6,350.23L145.2,349.87L145.8,350.26L146.4,349.52L147,349.55L147.6,350L148.2,349.64L148.8,350.12L149.4,350.21L150,350.48L150.6,350.64L151.2,350.68L151.8,350.59L152.4,349.99L153,349.6L153.6,349.67L154.2,349.48L154.8,350.11L155.4,349L156,349.16L156.6,349.75L157.2,349.74L157.8,348.7L158.4,348.67L159,348.38L159.6,348.63L160.2,349.52L160.8,348.89L161.4,349.16L162,349.75L162.6,348.96L163.2,349.63L163.8,349.27L164.4,349.54L165,348.76L165.6,348.99L166.2,348.9L166.8,348.38L167.4,348.71L168,348.68L168.6,349.85L169.2,349.29L169.8,349.67L170.4,348.48L171,348.18L171.6,349.14L172.2,348.61L172.8,349.3L173.4,349.37L174,349.1L174.6,349.21L175.2,349.85L175.8,349.9L176.4,348.79L177,349.69L177.6,348.61L178.2,348.91L178.8,348.53L179.4,349.19L180,349.04L180.6,349.24L181.2,349.22L181.8,348.69L182.4,348.52L183,348.04L183.6,348.75L184.2,348.21L184.8,348.06L185.4,348.73M51,361.54L51.6,361.36L52.2,360.93L52.8,361.08L53.4,361L54,361L54.6,361.24L55.2,361.29L55.8,360.79L56.4,360.72L57,360.88L57.6,360.92L58.2,360.89L58.8,361.04L59.4,360.78L60,360.89L60.6,360.78L61.2,360.51L61.8,360.56L62.4,360.21L63,360.29L63.6,359.15L64.2,359.3L64.8,358.03L65.4,358.29L66,358.18L66.6,358.2L67.2,358.55L67.8,358.08L68.4,357.9L69,358.07L69.6,357.71L70.2,357.93L70.8,357.3L71.4,358.05L72,358.42L72.6,357.51L73.2,357.98L73.8,358.35L74.4,357.02L75,356.95L75.6,356.94L76.2,357.02L76.8,356.44L77.4,356.9L78,357.58L78.6,356.4L79.2,356.11L79.8,355.88L80.4,356.15L81,356.28L81.6,356.28L82.2,355.44L82.8,355.76L83.4,355.8L84,355.02L84.6,355.34L85.2,355.19L85.8,355.31L86.4,355.56L87,355.37L87.6,354.64L88.2,354.63L88.8,354.84L89.4,355.27L90,354.55L90.6,354.55L91.2,354.3L91.8,354.8L92.4,354.64L93,354.78L93.6,354.98L94.2,354.87L94.8,355.2L95.4,354.87L96,354.31L96.6,354.53L97.2,355L97.8,354.74L98.4,355.05L99,354.09L99.6,354.36L100.2,354.44L100.8,354.5L101.4,354.49L102,353.53L102.6,353.68L103.2,353.82L103.8,353.67L104.4,353.82L105,353.2L105.6,353.7L106.2,352.95L106.8,352.91L107.4,353.09L108,352.95L108.6,354.33L109.2,354.6L109.8,353.69L110.4,353.11L111,352.7L111.6,352.96L112.2,352.92L112.8,352.04L113.4,352.51L114,352.13L114.6,352.64L115.2,352.4L115.8,352.96L116.4,352.67L117,352.56L117.6,352.96L118.2,352.82L118.8,352.95L119.4,353.36L120,354.05L120.6,353.11L121.2,352.51L121.8,352.06L122.4,352.39L123,352.29L123.6,352.48L124.2,352.54L124.8,353.11L125.4,351.87L126,352.26L126.6,352.44L127.2,352.54L127.8,353.14L128.4,353.19L129,352.73L129.6,351.91L130.2,352.51L130.8,351.39L131.4,351.37L132,351.1L132.6,351.54L133.2,351.28L133.8,351L134.4,351.06L135,350.78L135.6,350.47L136.2,350.78L136.8,350.48L137.4,350.56L138,350.36L138.6,350.43L139.2,350.7L139.8,350.15L140.4,350.01L141,349.99L141.6,350.46L142.2,350.53L142.8,350.04L143.4,350.15L144,350.91L144.6,350.63L145.2,350.73L145.8,351.08L146.4,351.34L147,350.49L147.6,350.75L148.2,350.34L148.8,349.83L149.4,350.22L150,350L150.6,350.22L151.2,350.93L151.8,350.06L152.4,350.46L153,349.95L153.6,350.13L154.2,350.11L154.8,349.86L155.4,350.23L156,350.65L156.6,349.43L157.2,349.82L157.8,349.76L158.4,349.43L159,349.25L159.6,350.01L160.2,349.46L160.8,349.39L161.4,348.7L162,348.59L162.6,347.93L163.2,348.45L163.8,348.48L164.4,347.86L165,348.47L165.6,348.43L166.2,348.73L166.8,348.09L167.4,348.87L168,348.32L168.6,348.35L169.2,349.47L169.8,349.22L170.4,349.31L171,349.37L171.6,349.54L172.2,349.31L172.8,348.91L173.4,348.82L174,348.6L174.6,348.4L175.2,349.01L175.8,348.78L176.4,349.97L177,349.43L177.6,349.93L178.2,349.32L178.8,348.89L179.4,348.67L180,348.3L180.6,348.26L181.2,347.51L181.8,347.28L182.4,347.14L183,347.44L183.6,347.68L184.2,347.27L184.8,346.84L185.4,347.19M51,361.67L51.6,361.34L52.2,361.51L52.8,361.64L53.4,361.43L54,360.85L54.6,361.18L55.2,360.99L55.8,360.51L56.4,360.64L57,360.42L57.6,360.66L58.2,360.7L58.8,360.3L59.4,360.99L60,360.2L60.6,360.36L61.2,360.29L61.8,360.8L62.4,360.21L63,359.82L63.6,359.43L64.2,359.04L64.8,358.34L65.4,358.21L66,358.47L66.6,358.42L67.2,357.67L67.8,357.73L68.4,358.06L69,357.98L69.6,357.38L70.2,357.57L70.8,357.3L71.4,356.96L72,356.9L72.6,356.93L73.2,357.06L73.8,357.62L74.4,357.2L75,357.1L75.6,356.85L76.2,356.66L76.8,356.11L77.4,356.3L78,356.56L78.6,356.81L79.2,357.27L79.8,357.94L80.4,357.43L81,356.32L81.6,355.73L82.2,355.92L82.8,355.8L83.4,356.29L84,356.66L84.6,357.28L85.2,356.67L85.8,356.74L86.4,356.2L87,355.51L87.6,355.99L88.2,355.83L88.8,355.18L89.4,354.64L90,355.2L90.6,354.7L91.2,354.68L91.8,354.67L92.4,354.58L93,354.15L93.6,354.34L94.2,354.42L94.8,354.04L95.4,353.88L96,355.09L96.6,355.45L97.2,355.7L97.8,355.05L98.4,354.15L99,354.19L99.6,355L100.2,354.14L100.8,355.24L101.4,355.52L102,354.58L102.6,355.55L103.2,355.09L103.8,355.55L104.4,355.31L105,355.15L105.6,355.14L106.2,354.05L106.8,354.61L107.4,353.16L108,352.82L108.6,352.82L109.2,353.09L109.8,352.52L110.4,352.97L111,352.66L111.6,352.33L112.2,352.18L112.8,352.25L113.4,352.81L114,352.8L114.6,353.3L115.2,353.11L115.8,353.47L116.4,353.09L117,353.61L117.6,352.16L118.2,352.91L118.8,351.98L119.4,351.97L120,352.25L120.6,352.07L121.2,352.2L121.8,353.03L122.4,352.18L123,351.62L123.6,352.03L124.2,352.06L124.8,351.58L125.4,352.05L126,350.89L126.6,351.43L127.2,351.81L127.8,351.84L128.4,351.94L129,351.37L129.6,352L130.2,351.69L130.8,351.19L131.4,351.31L132,351.64L132.6,350.82L133.2,350.93L133.8,351L134.4,350.62L135,350.48L135.6,350.25L136.2,350.19L136.8,350.63L137.4,350.89L138,350.09L138.6,350.65L139.2,350.79L139.8,350.39L140.4,349.93L141,350.32L141.6,349.74L142.2,350.24L142.8,350.06L143.4,350.6L144,350.37L144.6,350.03L145.2,350.03L145.8,349.99L146.4,349.5L147,349.56L147.6,349.47L148.2,349.69L148.8,349.58L149.4,350.57L150,350.38L150.6,350.65L151.2,350.54L151.8,350.42L152.4,350.1L153,349.93L153.6,350.16L154.2,350.28L154.8,350.6L155.4,349.56L156,349.48L156.6,349.82L157.2,350.18L157.8,349.82L158.4,350.15L159,349.75L159.6,348.54L160.2,349.07L160.8,348.52L161.4,348.19L162,348.21L162.6,348.16L163.2,348.33L163.8,348.33L164.4,348.12L165,348.29L165.6,349.06L166.2,349.7L166.8,349.49L167.4,349.36L168,348.32L168.6,348.72L169.2,348.55L169.8,347.92L170.4,347.54L171,347.46L171.6,347.99L172.2,348.28L172.8,348.1L173.4,347.86L174,348.11L174.6,347.76L175.2,348.07L175.8,347.99L176.4,347.26L177,347.65L177.6,347.25L178.2,348.16L178.8,347.4L179.4,347.83L180,347.8L180.6,347.08L181.2,347.4L181.8,347.31L182.4,347.83L183,347.73L183.6,346.91L184.2,347.7L184.8,348.2L185.4,347.95M169.5,346.5L170,344.6L185.6,343.1M60,362L64,364.5L70,363.5L80,364L88,363.5L92,364" stroke="#000" stroke-width="1.15" fill="none" stroke-linejoin="round"/>
<path d="M212.5,362.15L213.1,359.99L213.7,362.12L214.3,360.23L214.9,360.92L215.5,359.14L216.1,358.14L216.7,358.75L217.3,358.62L217.9,357.72L218.5,357.03L219.1,357.4L219.7,358.24L220.3,356.58L220.9,356.26L221.5,357.2L222.1,357.66L222.7,355.66L223.3,356.22L223.9,358.36L224.5,356L225.1,357.52L225.7,355.93L226.3,355.12L226.9,356.31L227.5,357.43L228.1,357.04L228.7,354.6L229.3,356.6L229.9,356.24L230.5,355.69L231.1,356.18L231.7,355.62L232.3,354.43L232.9,355.96L233.5,354.04L234.1,354.52L234.7,356.14L235.3,355.13L235.9,354.84L236.5,355.37L237.1,354.57L237.7,354.11L238.3,354.54L238.9,352.74L239.5,353.69L240.1,352.58L240.7,355.53L241.3,355.14L241.9,354.22L242.5,352.53L243.1,354.65L243.7,352.72L244.3,354.28L244.9,353.68L245.5,353.43L246.1,353.77L246.7,352.22L247.3,354L247.9,353.04L248.5,353.69L249.1,353.93L249.7,352.02L250.3,352.72L250.9,352.66L251.5,352.46L252.1,352.91L252.7,352.77L253.3,352.62L253.9,352.62L254.5,352.79L255.1,352.27L255.7,352.42L256.3,352.58L256.9,352.46L257.5,352.41L258.1,352.23L258.7,352.18L259.3,352.42L259.9,352.19L260.5,352.52L261.1,352.46L261.7,352.47L262.3,352.03L262.9,352.14L263.5,351.86L264.1,351.98L264.7,351.78L265.3,352.01L265.9,352.25L266.5,352.1L267.1,351.83L267.7,351.75L268.3,352.11L268.9,351.55L269.5,352L270.1,351.97L270.7,351.47L271.3,351.97L271.9,351.75L272.5,351.57L273.1,351.56L273.7,351.64L274.3,351.56L274.9,351.73L275.5,351.72L276.1,351.35L276.7,351.12L277.3,351.55L277.9,351.45L278.5,351.42L279.1,351.02L279.7,350.88L280.3,351.23L280.9,350.77L281.5,350.69L282.1,350.85L282.7,350.24L283.3,350.36L283.9,349.87L284.5,350.03L285.1,349.99L285.7,349.5L286.3,349.72L286.9,349.7L287.5,349.48L288.1,349.31L288.7,349.26L289.3,348.98L289.9,348.74L290.5,348.76L291.1,348.61L291.7,348.36L292.3,348.24L292.9,347.81L293.5,347.76L294.1,347.61L294.7,347.79L295.3,347.63L295.9,347.26L296.5,347.6L297.1,346.97L297.7,346.89L298.3,346.97L298.9,346.75L299.5,347.19L300.1,346.76L300.7,346.7L301.3,346.91L301.9,346.64L302.5,346.62L303.1,346.43L303.7,346.36L304.3,346.59L304.9,346.1L305.5,346.17L306.1,346.07L306.7,345.79L307.3,345.72L307.9,345.85L308.5,345.95L309.1,345.66L309.7,345.36L310.3,345.8L310.9,345.25L311.5,345.62L312.1,345.04L312.7,345.33L313.3,344.95L313.9,344.94L314.5,344.96L315.1,345.08L315.7,344.81L316.3,344.73L316.9,344.64L317.5,344.64L318.1,344.41L318.7,344.74L319.3,344.21L319.9,344.1L320.5,344.27L321.1,344.07L321.7,344.22L322.3,343.73L322.9,344.04L323.5,343.77L324.1,344.04L324.7,343.58L325.3,343.59L325.9,343.44L326.5,343.49L327.1,343.26L327.7,343.42L328.3,343.19L328.9,343.29L329.5,342.96L330.1,342.99L330.7,342.97L331.3,342.99L331.9,342.87L332.5,342.66L333.1,342.38L333.7,342.32L334.3,342.26L334.9,342.21L335.5,342.13L336.1,342.34L336.7,342.07L337.3,342.34L337.9,341.86L338.5,341.79L339.1,341.67L339.7,341.57L340.3,341.82L340.9,341.68L341.5,341.41L342.1,341.66L342.7,341.51L343.3,341.28L343.9,341.31L344.5,341.26L345.1,341.06L345.7,340.77L346.3,340.86L346.9,341.13M212.5,361.1L213.1,361.54L213.7,359.38L214.3,361.18L214.9,361.07L215.5,359.09L216.1,358.69L216.7,358.74L217.3,357.68L217.9,357.5L218.5,357.19L219.1,358.93L219.7,358.31L220.3,359.7L220.9,359.67L221.5,359.34L222.1,359.51L222.7,359.13L223.3,356.47L223.9,356.76L224.5,359.42L225.1,359.05L225.7,358.17L226.3,358.14L226.9,357.5L227.5,357.42L228.1,356.48L228.7,357.72L229.3,356.8L229.9,356.26L230.5,358.61L231.1,357.61L231.7,358.53L232.3,356.58L232.9,357.37L233.5,356.29L234.1,357.94L234.7,355.83L235.3,357.11L235.9,356.7L236.5,355.84L237.1,354.94L237.7,356.12L238.3,356.11L238.9,356.94L239.5,354.85L240.1,354.67L240.7,354.94L241.3,356.41L241.9,354.46L242.5,355.63L243.1,353.58L243.7,353.62L244.3,355.51L244.9,354.71L245.5,353.36L246.1,354.41L246.7,355.86L247.3,354.07L247.9,354.56L248.5,354.08L249.1,354.31L249.7,352.79L250.3,354.44L250.9,354.22L251.5,354.04L252.1,353.96L252.7,353.87L253.3,354.27L253.9,354.18L254.5,353.86L255.1,353.96L255.7,353.88L256.3,353.63L256.9,353.49L257.5,353.87L258.1,353.49L258.7,353.69L259.3,353.32L259.9,353.29L260.5,353.33L261.1,353.59L261.7,353.52L262.3,353.71L262.9,353.47L263.5,353.35L264.1,353L264.7,353.53L265.3,353.21L265.9,353.39L266.5,352.86L267.1,353.29L267.7,353.04L268.3,352.84L268.9,352.92L269.5,352.68L270.1,352.94L270.7,352.68L271.3,352.93L271.9,352.58L272.5,352.85L273.1,352.76L273.7,352.78L274.3,352.88L274.9,352.45L275.5,352.64L276.1,352.43L276.7,352.69L277.3,352.61L277.9,352.53L278.5,352.39L279.1,352.14L279.7,352.4L280.3,352.31L280.9,352.18L281.5,351.69L282.1,351.85L282.7,351.64L283.3,351.62L283.9,351.47L284.5,351.14L285.1,350.98L285.7,351.1L286.3,350.89L286.9,350.69L287.5,350.77L288.1,350.14L288.7,350.01L289.3,350.15L289.9,349.81L290.5,350.13L291.1,349.56L291.7,349.91L292.3,349.39L292.9,349.21L293.5,349.46L294.1,349.29L294.7,349.01L295.3,349.02L295.9,348.92L296.5,349.08L297.1,348.74L297.7,348.69L298.3,348.57L298.9,348.46L299.5,348.56L300.1,348.13L300.7,348.41L301.3,348.48L301.9,348.3L302.5,348.1L303.1,347.91L303.7,347.68L304.3,347.6L304.9,347.8L305.5,347.93L306.1,347.84L306.7,347.36L307.3,347.62L307.9,347.58L308.5,347.31L309.1,347.47L309.7,346.99L310.3,347L310.9,347.04L311.5,347.09L312.1,346.85L312.7,346.69L313.3,346.95L313.9,346.59L314.5,346.53L315.1,346.34L315.7,346.42L316.3,346.48L316.9,346.2L317.5,346.31L318.1,346.13L318.7,345.77L319.3,346.26L319.9,345.78L320.5,345.86L321.1,346.04L321.7,345.51L322.3,345.35L322.9,345.36L323.5,345.26L324.1,345.6L324.7,345.33L325.3,344.97L325.9,345.03L326.5,345.1L327.1,344.82L327.7,344.83L328.3,345.11L328.9,344.76L329.5,344.56L330.1,344.7L330.7,344.34L331.3,344.51L331.9,344.51L332.5,344.1L333.1,344.3L333.7,344.09L334.3,344.27L334.9,344.12L335.5,344.22L336.1,343.97L336.7,343.64L337.3,343.56L337.9,343.8L338.5,343.79L339.1,343.27L339.7,343.41L340.3,343.25L340.9,343.29L341.5,343.46L342.1,343.19L342.7,343.23L343.3,343.17L343.9,342.8L344.5,342.93L345.1,342.71L345.7,342.7L346.3,342.65L346.9,342.66M212.5,360.44L213.1,362.25L213.7,359.75L214.3,359.9L214.9,361.28L215.5,361.39L216.1,359.07L216.7,360.61L217.3,357.52L217.9,360.46L218.5,358.04L219.1,357.51L219.7,359.84L220.3,357.92L220.9,359.81L221.5,357.42L222.1,357.8L222.7,358.54L223.3,357.67L223.9,358.91L224.5,358.51L225.1,359.76L225.7,358.98L226.3,360.49L226.9,360.1L227.5,357.95L228.1,360.34L228.7,360.26L229.3,359.21L229.9,359.09L230.5,357.94L231.1,358.43L231.7,358.1L232.3,357.96L232.9,359.17L233.5,358.12L234.1,359.41L234.7,358.66L235.3,359.34L235.9,356.84L236.5,359.15L237.1,357.93L237.7,358.2L238.3,356.81L238.9,358.15L239.5,357.09L240.1,357.97L240.7,357.41L241.3,355.86L241.9,356.24L242.5,357.56L243.1,355.07L243.7,356.91L244.3,356.51L244.9,356.92L245.5,355.56L246.1,355.92L246.7,355.87L247.3,356.7L247.9,354.49L248.5,355.84L249.1,355L249.7,356.01L250.3,355.53L250.9,355.45L251.5,355.42L252.1,355.77L252.7,355.41L253.3,355.68L253.9,355.54L254.5,355.22L255.1,355.34L255.7,354.97L256.3,355.48L256.9,355.25L257.5,354.9L258.1,355.09L258.7,355.03L259.3,355.09L259.9,354.82L260.5,355.15L261.1,354.93L261.7,354.55L262.3,354.96L262.9,354.95L263.5,354.56L264.1,354.76L264.7,354.8L265.3,354.77L265.9,354.23L266.5,354.65L267.1,354.25L267.7,354.54L268.3,354.42L268.9,354.24L269.5,354.46L270.1,354.36L270.7,354.43L271.3,354.36L271.9,354.08L272.5,354.13L273.1,354.05L273.7,353.84L274.3,353.86L274.9,353.82L275.5,353.59L276.1,353.58L276.7,353.88L277.3,353.84L277.9,353.7L278.5,353.65L279.1,353.49L279.7,353.4L280.3,353.34L280.9,352.82L281.5,352.97L282.1,353.16L282.7,352.58L283.3,352.62L283.9,352.27L284.5,352.25L285.1,352.47L285.7,351.88L286.3,352.22L286.9,352.1L287.5,352.02L288.1,351.53L288.7,351.82L289.3,351.36L289.9,351.29L290.5,351.47L291.1,351.11L291.7,351.07L292.3,350.61L292.9,350.42L293.5,350.46L294.1,350.24L294.7,350.55L295.3,350.12L295.9,350.47L296.5,350.24L297.1,349.88L297.7,350.12L298.3,349.82L298.9,349.88L299.5,349.54L300.1,349.93L300.7,349.83L301.3,349.64L301.9,349.64L302.5,349.36L303.1,349.16L303.7,349.22L304.3,349.4L304.9,349.22L305.5,348.9L306.1,348.89L306.7,348.97L307.3,348.62L307.9,348.57L308.5,348.75L309.1,348.49L309.7,348.88L310.3,348.35L310.9,348.66L311.5,348.62L312.1,348.26L312.7,348.33L313.3,348.53L313.9,348.24L314.5,348.04L315.1,348.32L315.7,347.83L316.3,348.17L316.9,347.72L317.5,347.72L318.1,347.59L318.7,347.72L319.3,347.79L319.9,347.61L320.5,347.24L321.1,347.66L321.7,347.43L322.3,347.23L322.9,347.37L323.5,346.86L324.1,347.08L324.7,347.13L325.3,347.05L325.9,346.92L326.5,346.49L327.1,346.67L327.7,346.48L328.3,346.62L328.9,346.42L329.5,346.39L330.1,346.37L330.7,346.33L331.3,346.45L331.9,346.01L332.5,345.94L333.1,345.82L333.7,345.71L334.3,346.08L334.9,346.06L335.5,345.52L336.1,345.59L336.7,345.85L337.3,345.76L337.9,345.76L338.5,345.7L339.1,345.22L339.7,345.01L340.3,345.05L340.9,345.13L341.5,344.77L342.1,344.85L342.7,344.91L343.3,344.97L343.9,344.59L344.5,344.5L345.1,344.56L345.7,344.35L346.3,344.3L346.9,344.22M212.5,362.46L213.1,362.45L213.7,359.5L214.3,361.67L214.9,361.53L215.5,360.65L216.1,359.26L216.7,360.66L217.3,358.19L217.9,358.14L218.5,361.1L219.1,358.82L219.7,361.1L220.3,360.64L220.9,358.44L221.5,358.65L222.1,360.48L222.7,358.94L223.3,360.66L223.9,360.74L224.5,359.39L225.1,360.24L225.7,359.45L226.3,361.62L226.9,360.91L227.5,361.16L228.1,361L228.7,359.26L229.3,361.97L229.9,361.68L230.5,360.9L231.1,361.2L231.7,360.95L232.3,361.74L232.9,360.88L233.5,359.91L234.1,360.53L234.7,359.41L235.3,358.59L235.9,360.09L236.5,361.06L237.1,360.43L237.7,358.64L238.3,359.45L238.9,359.54L239.5,359.38L240.1,358.85L240.7,358.86L241.3,359.28L241.9,359.74L242.5,358.43L243.1,359.13L243.7,358.65L244.3,356.71L244.9,357L245.5,357.03L246.1,357.03L246.7,357.41L247.3,356.74L247.9,358.94L248.5,358.04L249.1,356.83L249.7,357.84L250.3,357.4L250.9,356.89L251.5,357.13L252.1,357.28L252.7,356.88L253.3,357.13L253.9,357.04L254.5,356.7L255.1,356.54L255.7,356.89L256.3,356.61L256.9,356.52L257.5,356.54L258.1,356.65L258.7,356.7L259.3,356.66L259.9,356.52L260.5,356.12L261.1,356.19L261.7,355.92L262.3,355.99L262.9,356.02L263.5,355.87L264.1,356L264.7,355.75L265.3,356.01L265.9,355.82L266.5,355.67L267.1,355.89L267.7,355.62L268.3,355.39L268.9,355.83L269.5,355.73L270.1,355.76L270.7,355.36L271.3,355.29L271.9,355.5L272.5,355.12L273.1,355.56L273.7,355.33L274.3,355.21L274.9,354.87L275.5,354.96L276.1,354.99L276.7,355.28L277.3,354.73L277.9,354.95L278.5,354.59L279.1,355.06L279.7,354.8L280.3,354.72L280.9,354.56L281.5,354.09L282.1,354.01L282.7,353.76L283.3,353.94L283.9,353.54L284.5,353.48L285.1,353.35L285.7,353.67L286.3,353.47L286.9,353.04L287.5,353.33L288.1,352.72L288.7,352.58L289.3,352.6L289.9,352.74L290.5,352.19L291.1,352.48L291.7,352.21L292.3,352.24L292.9,351.84L293.5,351.53L294.1,351.44L294.7,351.7L295.3,351.47L295.9,351.56L296.5,351.16L297.1,351.14L297.7,351.03L298.3,351.35L298.9,351.2L299.5,350.8L300.1,351.08L300.7,350.6L301.3,350.79L301.9,350.6L302.5,350.84L303.1,350.75L303.7,350.66L304.3,350.31L304.9,350.15L305.5,350.44L306.1,350.41L306.7,349.93L307.3,350.37L307.9,350.34L308.5,349.95L309.1,349.98L309.7,349.99L310.3,350.09L310.9,349.86L311.5,349.71L312.1,349.8L312.7,349.57L313.3,349.23L313.9,349.47L314.5,349.33L315.1,349.21L315.7,349.18L316.3,349.02L316.9,349L317.5,349.2L318.1,349.22L318.7,348.9L319.3,349.06L319.9,348.57L320.5,348.74L321.1,348.81L321.7,348.76L322.3,348.46L322.9,348.27L323.5,348.68L324.1,348.4L324.7,348.36L325.3,348.11L325.9,347.91L326.5,348.12L327.1,347.95L327.7,348.18L328.3,347.98L328.9,347.97L329.5,347.79L330.1,347.83L330.7,347.4L331.3,347.85L331.9,347.53L332.5,347.48L333.1,347.17L333.7,347.04L334.3,347.35L334.9,347.3L335.5,347.19L336.1,346.88L336.7,346.96L337.3,347.06L337.9,346.92L338.5,347.01L339.1,346.46L339.7,346.8L340.3,346.28L340.9,346.58L341.5,346.46L342.1,346.12L342.7,346.26L343.3,346.35L343.9,346.4L344.5,345.86L345.1,346.06L345.7,346.16L346.3,345.69L346.9,346.09M212.5,362.9L213.1,360.8L213.7,360.17L214.3,359.77L214.9,359.8L215.5,360.24L216.1,360.96L216.7,361.5L217.3,360.25L217.9,361.63L218.5,360.07L219.1,360.92L219.7,358.94L220.3,360.4L220.9,359.25L221.5,359.72L222.1,362.01L222.7,359.91L223.3,360.62L223.9,361.46L224.5,361.58L225.1,360.12L225.7,360.49L226.3,362.43L226.9,361.68L227.5,360.8L228.1,362.15L228.7,361.93L229.3,364.06L229.9,361.13L230.5,361.68L231.1,361.46L231.7,363.1L232.3,364.39L232.9,363.63L233.5,361.33L234.1,362.53L234.7,361.77L235.3,363.58L235.9,362.55L236.5,362.05L237.1,360.76L237.7,361.17L238.3,361.29L238.9,360.64L239.5,361.06L240.1,359.37L240.7,360.26L241.3,361.9L241.9,359.85L242.5,360.02L243.1,360.64L243.7,360.66L244.3,360.24L244.9,358.93L245.5,359.82L246.1,358.03L246.7,359.32L247.3,357.35L247.9,357.87L248.5,357.77L249.1,358.29L249.7,359.48L250.3,358.39L250.9,358.85L251.5,358.34L252.1,358.81L252.7,358.76L253.3,358.52L253.9,358.61L254.5,358.62L255.1,358.28L255.7,358.48L256.3,357.94L256.9,358.34L257.5,358.22L258.1,358.25L258.7,357.83L259.3,357.74L259.9,357.96L260.5,357.97L261.1,357.97L261.7,357.62L262.3,357.81L262.9,358L263.5,357.53L264.1,357.82L264.7,357.86L265.3,357.64L265.9,357.46L266.5,357.4L267.1,357.38L267.7,357.13L268.3,357.06L268.9,357.13L269.5,357.02L270.1,357.41L270.7,357.05L271.3,357.31L271.9,357.08L272.5,357.23L273.1,357.18L273.7,357.03L274.3,356.83L274.9,356.66L275.5,356.8L276.1,356.61L276.7,356.87L277.3,356.35L277.9,356.67L278.5,356.44L279.1,356.43L279.7,356.39L280.3,356.55L280.9,356.44L281.5,355.95L282.1,356.19L282.7,356.08L283.3,355.71L283.9,355.62L284.5,355.29L285.1,355.53L285.7,355.24L286.3,355.29L286.9,355.27L287.5,354.98L288.1,354.91L288.7,354.71L289.3,354.35L289.9,354.43L290.5,354.08L291.1,354.04L291.7,354.41L292.3,353.93L292.9,353.67L293.5,353.74L294.1,353.4L294.7,353.62L295.3,353.3L295.9,353.23L296.5,353.42L297.1,353.53L297.7,352.92L298.3,353.28L298.9,353.13L299.5,353.01L300.1,352.91L300.7,352.6L301.3,352.74L301.9,352.78L302.5,352.6L303.1,352.93L303.7,352.47L304.3,352.71L304.9,352.63L305.5,352.55L306.1,352.31L306.7,352.25L307.3,352.39L307.9,351.89L308.5,351.89L309.1,351.7L309.7,351.92L310.3,351.84L310.9,352.07L311.5,352L312.1,351.62L312.7,351.61L313.3,351.31L313.9,351.63L314.5,351.43L315.1,351.15L315.7,351.51L316.3,350.95L316.9,350.98L317.5,351.08L318.1,351.33L318.7,350.75L319.3,350.76L319.9,351.01L320.5,350.68L321.1,350.97L321.7,350.36L322.3,350.43L322.9,350.4L323.5,350.66L324.1,350.15L324.7,350.43L325.3,350.49L325.9,350.48L326.5,350.32L327.1,349.8L327.7,350L328.3,349.77L328.9,349.65L329.5,349.66L330.1,349.89L330.7,349.73L331.3,349.4L331.9,349.43L332.5,349.23L333.1,349.68L333.7,349.52L334.3,349.28L334.9,349.51L335.5,349.46L336.1,348.93L336.7,348.9L337.3,348.79L337.9,348.99L338.5,348.91L339.1,348.8L339.7,348.89L340.3,348.68L340.9,348.48L341.5,348.63L342.1,348.74L342.7,348.13L343.3,348.33L343.9,348.06L344.5,348.36L345.1,348.1L345.7,348.28L346.3,348.12L346.9,348.23M212.5,361.75L213.1,361.67L213.7,362.75L214.3,362.07L214.9,360.45L215.5,359.56L216.1,362.05L216.7,359.17L217.3,361.94L217.9,362.16L218.5,361.47L219.1,362.57L219.7,361.65L220.3,362.28L220.9,361.98L221.5,360.96L222.1,360.68L222.7,362.99L223.3,362.23L223.9,361.37L224.5,362.94L225.1,362.18L225.7,362.35L226.3,364.49L226.9,363.85L227.5,364.44L228.1,364.84L228.7,363.81L229.3,364.03L229.9,364.15L230.5,364.09L231.1,365.62L231.7,366.14L232.3,364.27L232.9,365.42L233.5,363.66L234.1,362.83L234.7,364.82L235.3,364.94L235.9,363.34L236.5,365.3L237.1,364.24L237.7,362.8L238.3,364.03L238.9,364.13L239.5,361.71L240.1,364L240.7,362.3L241.3,361.62L241.9,361.78L242.5,362.09L243.1,361.92L243.7,361L244.3,360.08L244.9,361.73L245.5,361.84L246.1,361.62L246.7,360.61L247.3,362.04L247.9,359.3L248.5,359.61L249.1,359.2L249.7,360.87L250.3,360.66L250.9,360.44L251.5,360.57L252.1,360.2L252.7,360.17L253.3,360.68L253.9,360.59L254.5,360.05L255.1,360.35L255.7,360.21L256.3,360.18L256.9,360.31L257.5,360.14L258.1,360.27L258.7,360.07L259.3,360.16L259.9,359.63L260.5,360.01L261.1,359.66L261.7,359.97L262.3,359.84L262.9,359.9L263.5,359.72L264.1,359.45L264.7,359.48L265.3,359.59L265.9,359.11L266.5,359.35L267.1,359.31L267.7,359.36L268.3,359.08L268.9,359.19L269.5,359.22L270.1,358.96L270.7,359.09L271.3,359.17L271.9,358.8L272.5,358.85L273.1,358.77L273.7,358.94L274.3,358.55L274.9,358.51L275.5,358.52L276.1,358.63L276.7,358.28L277.3,358.73L277.9,358.39L278.5,358.48L279.1,358.23L279.7,357.87L280.3,357.96L280.9,357.95L281.5,357.54L282.1,357.95L282.7,357.59L283.3,357.39L283.9,357.01L284.5,357.01L285.1,356.94L285.7,357.01L286.3,356.6L286.9,356.66L287.5,356.41L288.1,356.46L288.7,356.41L289.3,356.19L289.9,356.2L290.5,356L291.1,355.55L291.7,355.77L292.3,355.55L292.9,355.59L293.5,355.57L294.1,355.1L294.7,355.27L295.3,354.81L295.9,355.01L296.5,354.57L297.1,355L297.7,354.72L298.3,354.67L298.9,354.64L299.5,354.51L300.1,354.37L300.7,354.59L301.3,354.5L301.9,354.1L302.5,354.18L303.1,354.52L303.7,354.07L304.3,354.02L304.9,354.14L305.5,353.96L306.1,354.25L306.7,354.22L307.3,353.65L307.9,353.65L308.5,353.57L309.1,353.68L309.7,353.52L310.3,353.7L310.9,353.77L311.5,353.23L312.1,353.15L312.7,353.15L313.3,353.21L313.9,353.05L314.5,353.17L315.1,353.08L315.7,353.24L316.3,353.33L316.9,353.28L317.5,352.89L318.1,352.97L318.7,352.61L319.3,352.84L319.9,352.95L320.5,352.9L321.1,352.39L321.7,352.35L322.3,352.74L322.9,352.56L323.5,352.55L324.1,352.07L324.7,352.35L325.3,351.94L325.9,352.31L326.5,352.29L327.1,351.95L327.7,351.71L328.3,352.09L328.9,352.19L329.5,351.91L330.1,351.7L330.7,351.63L331.3,351.86L331.9,351.9L332.5,351.48L333.1,351.34L333.7,351.75L334.3,351.36L334.9,351.31L335.5,351.18L336.1,351.37L336.7,351.47L337.3,351.11L337.9,351.28L338.5,350.96L339.1,350.91L339.7,351.09L340.3,351.13L340.9,350.95L341.5,350.86L342.1,350.88L342.7,350.88L343.3,350.85L343.9,350.54L344.5,350.4L345.1,350.11L345.7,350.37L346.3,350.21L346.9,349.95M212.5,363.08L213.1,360.82L213.7,362.75L214.3,359.75L214.9,360.78L215.5,362.07L216.1,361.65L216.7,361.59L217.3,361.08L217.9,360.04L218.5,362.64L219.1,362.65L219.7,361.97L220.3,362.47L220.9,363.48L221.5,362.72L222.1,362.89L222.7,363.15L223.3,364.19L223.9,364.42L224.5,363.37L225.1,365.02L225.7,363.97L226.3,365.15L226.9,364.44L227.5,366.34L228.1,366.7L228.7,366.41L229.3,365.38L229.9,365.51L230.5,366.01L231.1,366.79L231.7,365.19L232.3,366.85L232.9,367.89L233.5,364.94L234.1,367.41L234.7,366.2L235.3,367.38L235.9,366.32L236.5,366.12L237.1,366.04L237.7,364.8L238.3,363.64L238.9,365.82L239.5,365.7L240.1,365.02L240.7,363.22L241.3,363.94L241.9,363.81L242.5,363.14L243.1,363.36L243.7,363.07L244.3,364.56L244.9,363.24L245.5,364.18L246.1,363.8L246.7,361.43L247.3,363.29L247.9,362L248.5,362.66L249.1,362.51L249.7,363.04L250.3,362.12L250.9,362.31L251.5,362.09L252.1,362.3L252.7,362.09L253.3,362.14L253.9,362.32L254.5,361.85L255.1,361.65L255.7,362.15L256.3,361.89L256.9,361.93L257.5,362L258.1,362L258.7,361.66L259.3,361.99L259.9,361.59L260.5,361.76L261.1,361.78L261.7,361.47L262.3,361.46L262.9,361.4L263.5,361.34L264.1,361.35L264.7,361.58L265.3,361.07L265.9,361.59L266.5,361.43L267.1,361.26L267.7,361.27L268.3,361.03L268.9,361.27L269.5,361.3L270.1,360.97L270.7,361L271.3,360.8L271.9,360.78L272.5,361.11L273.1,360.94L273.7,360.79L274.3,360.87L274.9,360.56L275.5,360.41L276.1,360.59L276.7,360.68L277.3,360.41L277.9,360.59L278.5,360.43L279.1,360.34L279.7,360.51L280.3,360.16L280.9,360.28L281.5,360.17L282.1,359.82L282.7,359.5L283.3,359.87L283.9,359.58L284.5,359.48L285.1,359.43L285.7,359.23L286.3,359.33L286.9,358.67L287.5,359.13L288.1,358.81L288.7,358.57L289.3,358.75L289.9,358.63L290.5,358.33L291.1,357.86L291.7,358.11L292.3,357.87L292.9,357.85L293.5,357.89L294.1,357.35L294.7,357.66L295.3,357.25L295.9,357.14L296.5,356.94L297.1,356.9L297.7,356.93L298.3,357.01L298.9,357.18L299.5,356.64L300.1,356.64L300.7,356.62L301.3,356.7L301.9,356.46L302.5,356.57L303.1,356.19L303.7,356.05L304.3,356.29L304.9,356.31L305.5,355.88L306.1,355.75L306.7,356.05L307.3,355.61L307.9,356.06L308.5,355.84L309.1,355.45L309.7,355.52L310.3,355.24L310.9,355.18L311.5,355.26L312.1,355.51L312.7,355.45L313.3,355.28L313.9,355.14L314.5,355.03L315.1,354.91L315.7,354.93L316.3,354.76L316.9,354.62L317.5,354.81L318.1,354.42L318.7,354.4L319.3,354.49L319.9,354.59L320.5,354.14L321.1,354.12L321.7,354.03L322.3,353.84L322.9,353.85L323.5,354.04L324.1,353.6L324.7,353.7L325.3,353.51L325.9,353.61L326.5,353.66L327.1,353.19L327.7,353.34L328.3,353.08L328.9,353.28L329.5,353.23L330.1,352.88L330.7,352.81L331.3,352.78L331.9,352.72L332.5,352.98L333.1,352.9L333.7,352.77L334.3,352.46L334.9,352.42L335.5,352.2L336.1,352.28L336.7,352.5L337.3,351.91L337.9,352.02L338.5,351.82L339.1,352.14L339.7,351.74L340.3,351.77L340.9,351.44L341.5,351.75L342.1,351.57L342.7,351.66L343.3,351.54L343.9,351.48L344.5,351.12L345.1,351.04L345.7,351.17L346.3,350.77L346.9,351.22M212.5,362.21L213.1,361.48L213.7,361.06L214.3,360.15L214.9,361.67L215.5,362.37L216.1,360.28L216.7,360.22L217.3,362.23L217.9,361.82L218.5,363.13L219.1,362.2L219.7,364.3L220.3,364.23L220.9,362.75L221.5,363.72L222.1,364.16L222.7,364L223.3,365.46L223.9,365.38L224.5,366.02L225.1,364.49L225.7,365.58L226.3,365.98L226.9,366.39L227.5,364.85L228.1,367.68L228.7,366.79L229.3,366.15L229.9,368.66L230.5,367.98L231.1,368.85L231.7,369.13L232.3,368.81L232.9,369.57L233.5,366.65L234.1,367.37L234.7,366.65L235.3,367.99L235.9,366.49L236.5,365.7L237.1,365.88L237.7,365.83L238.3,366.83L238.9,366.39L239.5,366.24L240.1,364.62L240.7,366.1L241.3,365.05L241.9,364.36L242.5,364.08L243.1,364.21L243.7,364.84L244.3,363.92L244.9,364.7L245.5,363.57L246.1,365.25L246.7,365.66L247.3,363.86L247.9,363.01L248.5,365.84L249.1,362.98L249.7,364.76L250.3,364.39L250.9,364.19L251.5,364.4L252.1,363.92L252.7,364.23L253.3,364.3L253.9,364.26L254.5,364.19L255.1,363.91L255.7,363.92L256.3,364.08L256.9,363.77L257.5,363.66L258.1,363.49L258.7,363.55L259.3,363.48L259.9,363.92L260.5,363.51L261.1,363.5L261.7,363.83L262.3,363.63L262.9,363.44L263.5,363.2L264.1,363.32L264.7,363.24L265.3,363.6L265.9,363.25L266.5,363.54L267.1,363.08L267.7,362.91L268.3,363.39L268.9,362.86L269.5,363.25L270.1,363.1L270.7,362.87L271.3,363.17L271.9,362.89L272.5,363.18L273.1,362.89L273.7,363.09L274.3,363.04L274.9,362.67L275.5,362.83L276.1,362.81L276.7,362.73L277.3,362.32L277.9,362.68L278.5,362.69L279.1,362.3L279.7,362.13L280.3,362L280.9,362.17L281.5,361.79L282.1,362.13L282.7,361.76L283.3,361.99L283.9,361.72L284.5,361.43L285.1,361.17L285.7,361.2L286.3,361.2L286.9,361.24L287.5,361.14L288.1,360.69L288.7,360.4L289.3,360.67L289.9,360.57L290.5,360.43L291.1,360.41L291.7,360.31L292.3,360.08L292.9,360.09L293.5,359.56L294.1,359.94L294.7,359.66L295.3,359.22L295.9,359.19L296.5,359.39L297.1,359.12L297.7,359.42L298.3,358.95L298.9,358.99L299.5,358.93L300.1,359.11L300.7,358.65L301.3,358.93L301.9,358.75L302.5,358.58L303.1,358.73L303.7,358.62L304.3,358.46L304.9,358.26L305.5,357.88L306.1,357.91L306.7,358.09L307.3,357.7L307.9,357.94L308.5,357.68L309.1,357.63L309.7,357.81L310.3,357.75L310.9,357.62L311.5,357.36L312.1,357.34L312.7,357.53L313.3,357.42L313.9,357.15L314.5,356.75L315.1,357.17L315.7,356.58L316.3,356.55L316.9,356.8L317.5,356.44L318.1,356.7L318.7,356.58L319.3,356.19L319.9,356.56L320.5,356.54L321.1,356.26L321.7,356.38L322.3,356.19L322.9,355.92L323.5,356.05L324.1,356.04L324.7,355.82L325.3,355.38L325.9,355.47L326.5,355.59L327.1,355.32L327.7,355.12L328.3,355.22L328.9,354.95L329.5,355.07L330.1,354.77L330.7,355.07L331.3,354.69L331.9,355.04L332.5,354.47L333.1,354.71L333.7,354.64L334.3,354.29L334.9,354.47L335.5,354.35L336.1,354.31L336.7,353.98L337.3,354.08L337.9,354.22L338.5,354.01L339.1,353.71L339.7,353.69L340.3,353.94L340.9,353.36L341.5,353.54L342.1,353.49L342.7,353.36L343.3,353.03L343.9,353.01L344.5,353.38L345.1,353.07L345.7,352.89L346.3,352.91L346.9,352.6M212.5,360.16L213.1,362.62L213.7,362.46L214.3,360.73L214.9,361.18L215.5,360.48L216.1,361.32L216.7,362.03L217.3,362.97L217.9,362.5L218.5,363.91L219.1,364.71L219.7,363.66L220.3,362.3L220.9,362.91L221.5,364.95L222.1,363.54L222.7,366.32L223.3,363.93L223.9,364.26L224.5,367.59L225.1,366.02L225.7,366.82L226.3,367.27L226.9,366.06L227.5,367.07L228.1,367.5L228.7,369L229.3,369.46L229.9,369.5L230.5,368.18L231.1,369.4L231.7,371.17L232.3,368.88L232.9,369.28L233.5,369.97L234.1,371.03L234.7,367.77L235.3,369.74L235.9,368.85L236.5,368.9L237.1,369.74L237.7,367.2L238.3,368.65L238.9,367.59L239.5,368.84L240.1,368.55L240.7,367.43L241.3,366.43L241.9,368.23L242.5,367.87L243.1,367.27L243.7,367.69L244.3,368.19L244.9,365.77L245.5,367.04L246.1,367.28L246.7,365.51L247.3,367.51L247.9,365.59L248.5,367.62L249.1,366.39L249.7,367.6L250.3,366.28L250.9,366.19L251.5,365.91L252.1,365.92L252.7,365.97L253.3,366.06L253.9,365.79L254.5,366.05L255.1,365.61L255.7,365.75L256.3,365.49L256.9,365.47L257.5,365.51L258.1,365.33L258.7,365.61L259.3,365.61L259.9,365.44L260.5,365.64L261.1,365.46L261.7,365.51L262.3,365.11L262.9,365.22L263.5,365.01L264.1,365.05L264.7,365.43L265.3,364.97L265.9,365.21L266.5,365.05L267.1,365.19L267.7,365.27L268.3,365.21L268.9,365.26L269.5,365.23L270.1,364.85L270.7,365.17L271.3,365L271.9,364.68L272.5,364.67L273.1,364.75L273.7,364.91L274.3,364.43L274.9,364.87L275.5,364.7L276.1,364.62L276.7,364.48L277.3,364.43L277.9,364.41L278.5,364.56L279.1,364.34L279.7,364.37L280.3,364.33L280.9,363.71L281.5,363.53L282.1,363.95L282.7,363.36L283.3,363.59L283.9,363.21L284.5,362.96L285.1,362.7L285.7,362.81L286.3,362.77L286.9,362.31L287.5,362.14L288.1,362.17L288.7,362.39L289.3,362.17L289.9,361.73L290.5,361.68L291.1,361.55L291.7,361.59L292.3,361.2L292.9,361.1L293.5,361.05L294.1,360.75L294.7,360.73L295.3,360.81L295.9,360.59L296.5,360.25L297.1,360.35L297.7,360.41L298.3,360.14L298.9,360.16L299.5,360.19L300.1,360L300.7,359.81L301.3,360.16L301.9,359.6L302.5,360.03L303.1,359.47L303.7,359.67L304.3,359.59L304.9,359.44L305.5,359.49L306.1,359.57L306.7,359.16L307.3,358.93L307.9,358.94L308.5,359.28L309.1,359.04L309.7,359.06L310.3,358.76L310.9,358.65L311.5,358.8L312.1,358.65L312.7,358.79L313.3,358.26L313.9,358.3L314.5,358.43L315.1,358.49L315.7,358.15L316.3,358.27L316.9,357.79L317.5,358.04L318.1,357.78L318.7,357.92L319.3,357.61L319.9,357.47L320.5,357.45L321.1,357.65L321.7,357.57L322.3,357.61L322.9,357.24L323.5,356.96L324.1,357.33L324.7,356.93L325.3,357.13L325.9,356.92L326.5,356.82L327.1,356.5L327.7,356.54L328.3,356.78L328.9,356.54L329.5,356.72L330.1,356.6L330.7,356.36L331.3,356.56L331.9,355.89L332.5,356.06L333.1,356.07L333.7,355.71L334.3,356.12L334.9,355.62L335.5,355.8L336.1,355.54L336.7,355.54L337.3,355.51L337.9,355.33L338.5,355.19L339.1,355.41L339.7,355.32L340.3,354.92L340.9,355.38L341.5,354.78L342.1,354.78L342.7,354.74L343.3,354.72L343.9,354.72L344.5,354.9L345.1,354.34L345.7,354.55L346.3,354.51L346.9,354.22M279,351.24L279.6,348.18L280.2,348.28L280.8,348.15L281.4,347.96L282,347.72L282.6,347.75L283.2,347.86L283.8,347.63L284.4,347.53L285,347.55L285.6,347.24L286.2,347.4L286.8,347.34L287.4,347.03L288,347.08L288.6,347.17L289.2,346.86L289.8,346.89L290.4,346.74L291,346.74L291.6,346.6L292.2,346.5L292.8,346.66L293.4,346.48L294,346.53L294.6,346.19L295.2,346.16L295.8,346.04L296.4,346.17L297,345.89L297.6,345.94L298.2,345.66L298.8,345.73L299.4,345.55L300,345.73L300.6,345.43L301.2,345.59L301.8,345.36L302.4,345.19L303,345.2L303.6,345.27L304.2,345.1L304.8,345.08L305.4,344.9L306,344.84L306.6,344.57L307.2,344.77L307.8,344.62L308.4,344.55L309,344.33L309.6,344.44L310.2,344.27L310.8,344.11L311.4,344.3L312,344.14L312.6,344.02L313.2,344.01L313.8,343.87L314.4,343.67L315,343.82L315.6,343.73L316.2,343.56L316.8,343.39L317.4,343.34L318,343.08L318.6,343.34L319.2,343.24L319.8,343.07L320.4,342.94L321,343L321.6,342.61L322.2,342.68L322.8,342.55L323.4,342.61L324,342.43L324.6,342.46L325.2,342.5L325.8,342.23L326.4,342.03L327,341.91L327.6,342.17L328.2,341.94L328.8,341.85L329.4,341.61L330,341.57L330.6,341.45L331.2,341.73L331.8,341.31L332.4,341.35L333,341.33L333.6,341.29L334.2,341.08L334.8,341.17L335.4,341.09L336,341.15L336.6,340.72L337.2,340.72L337.8,340.57L338.4,340.57L339,340.46L339.6,340.31L340.2,340.54L340.8,340.25L341.4,340.37L342,340.32L342.6,340.23L343.2,339.85L343.8,339.99L344.4,340.02L345,339.86L345.6,339.77L346.2,339.62L346.8,339.71L347.4,339.51M212.5,361.06L213.1,361.02L213.7,360.48L214.3,359.16L214.9,360.15L215.5,360.17L216.1,359.16L216.7,356.76L217.3,357.68L217.9,358.68L218.5,356.69L219.1,357.74L219.7,358.19L220.3,357.66L220.9,356.97L221.5,355.95L222.1,357.93L222.7,356.24L223.3,357.46L223.9,357.15L224.5,357.67L225.1,355.76L225.7,358.26L226.3,357.5L226.9,357.8L227.5,355.65L228.1,357.18L228.7,356.08L229.3,356.96L229.9,356.87L230.5,355.93L231.1,357.46L231.7,355.85L232.3,355.85L232.9,356.48L233.5,354.69L234.1,356.81L234.7,355.01L235.3,356.57L235.9,354.24L236.5,354.07L237.1,355.36L237.7,354.2L238.3,354.69L238.9,353.87L239.5,355.33L240.1,355.27L240.7,355L241.3,353.24L241.9,352.87L242.5,354.37L243.1,352.76L243.7,354.56L244.3,353.94L244.9,354.99L245.5,354.54L246.1,353.96L246.7,354.44L247.3,353.44L247.9,352.75L248.5,352.03L249.1,353.92L249.7,353.77L250.3,353.63L250.9,353.23L251.5,353.02L252.1,354.38L252.7,352.71L253.3,351.96L253.9,354.36L254.5,353.75L255.1,354.12L255.7,354.35L256.3,352.67L256.9,351.79L257.5,352.76L258.1,352.71L258.7,352.37L259.3,353.53L259.9,351.88L260.5,354L261.1,351.69L261.7,351.87M212.5,362.49L213.1,360.77L213.7,362.31L214.3,361.02L214.9,361.49L215.5,361.74L216.1,361.14L216.7,362.94L217.3,363.46L217.9,363.69L218.5,361.68L219.1,361.56L219.7,363.08L220.3,364.26L220.9,363.96L221.5,365.48L222.1,365.84L222.7,365.21L223.3,364.22L223.9,364.92L224.5,364.2L225.1,365.46L225.7,366.81L226.3,365.79L226.9,365.68L227.5,367.02L228.1,368.37L228.7,367.9L229.3,366.57L229.9,367.82L230.5,367.49L231.1,369.52L231.7,368.61L232.3,368.79L232.9,370L233.5,368.18L234.1,368.55L234.7,370.06L235.3,367.95L235.9,368.56L236.5,368.8L237.1,367.78L237.7,368.57L238.3,367.86L238.9,369.01L239.5,368.1L240.1,368.52L240.7,367.98L241.3,368.26L241.9,367.26L242.5,366.44L243.1,367.01L243.7,366.8L244.3,365.79L244.9,367.96L245.5,367.15L246.1,366.93L246.7,367.53L247.3,365.54L247.9,365.64L248.5,367.34L249.1,365.23L249.7,367.64L250.3,366.49L250.9,367.79L251.5,367.39L252.1,365.96L252.7,365.69L253.3,365.89L253.9,366.82L254.5,365.82L255.1,366.52L255.7,367.26L256.3,366.46L256.9,365.68L257.5,366.29L258.1,365.47L258.7,365.66L259.3,365.1L259.9,366.57L260.5,366.65L261.1,365.32L261.7,365.21M219,362L220,369L226,369.5L232,370.5L240,369.5L248,368" stroke="#000" stroke-width="1.1" fill="none" stroke-linejoin="round"/>
<path d="M374.2,361.6L374.8,361.6L375.4,361.6L376,361.6L376.6,361.6L377.2,361.6L377.8,361.6L378.4,361.6L379,361.6L379.6,361.6L380.2,361.6L380.8,355.58L381.4,356.47L382,354.03L382.6,355.45L383.2,353.56L383.8,354.73L384.4,353.14L385,353.85L385.6,354.14L386.2,351.63L386.8,353.82L387.4,352.62L388,351.54L388.6,351.48L389.2,351.96L389.8,352.25L390.4,350.37L391,349.82L391.6,350.05L392.2,350.95L392.8,350.06L393.4,350.82L394,350.48L394.6,349.25L395.2,349.62L395.8,348.18L396.4,349.2L397,349.06L397.6,347.74L398.2,348.64L398.8,347.03L399.4,348.97L400,347.64L400.6,348.37L401.2,347.49L401.8,346.13L402.4,347.2L403,346.68L403.6,345.88L404.2,346.43L404.8,346.37L405.4,345.95L406,344.65L406.6,346.18L407.2,345.83L407.8,344.52L408.4,345.43L409,345.36L409.6,343.7L410.2,343.16L410.8,343.08L411.4,343.41L412,342.48L412.6,342.48L413.2,343.32L413.8,341.65L414.4,342.67L415,342.07L415.6,342.48L416.2,341.4L416.8,341.64L417.4,340.95L418,340.4L418.6,341.8L419.2,340.7L419.8,340.39L420.4,341.36L421,340.18L421.6,340.3L422.2,339.45L422.8,339.74L423.4,340.34L424,340.08L424.6,339.89L425.2,339.87L425.8,338.65L426.4,338.23L427,338.2L427.6,338.81L428.2,338.5L428.8,338.11L429.4,338.42L430,337.62L430.6,337.99L431.2,337.6L431.8,337.13L432.4,337.76L433,336.94L433.6,337.5L434.2,337.32L434.8,336.85L435.4,336.75L436,336.39L436.6,336.23L437.2,336.62L437.8,336.23L438.4,336.28L439,336.04L439.6,335.88L440.2,335.74L440.8,336.01L441.4,335.75L442,335.55L442.6,335.78L443.2,335.48L443.8,335.48L444.4,335.49L445,335.5L445.6,335.5L446.2,335.5L446.8,335.5L447.4,335.5L448,335.5L448.6,335.5L449.2,335.5L449.8,335.5L450.4,335.5L451,335.5L451.6,335.5L452.2,335.5L452.8,335.5L453.4,335.5L454,335.5L454.6,335.5L455.2,335.5L455.8,335.5L456.4,335.5L457,335.5L457.6,335.5L458.2,335.5L458.8,335.5L459.4,335.5L460,335.5L460.6,335.5L461.2,335.5L461.8,335.5L462.4,335.5L463,335.5L463.6,335.5L464.2,335.5L464.8,335.5L465.4,335.5L466,335.5L466.6,335.5L467.2,335.5L467.8,335.5L468.4,335.5L469,335.5L469.6,335.5L470.2,335.5L470.8,335.5L471.4,335.5L472,335.5L472.6,335.5L473.2,335.5L473.8,335.5L474.4,335.5L475,335.5L475.6,335.5L476.2,335.5L476.8,335.5L477.4,335.5L478,335.5L478.6,335.5L479.2,335.5L479.8,335.5L480.4,335.5L481,335.5L481.6,335.5L482.2,335.5L482.8,335.5L483.4,335.5L484,335.5L484.6,335.5L485.2,335.5L485.8,335.5L486.4,335.5L487,335.5L487.6,335.5L488.2,335.5L488.8,335.5L489.4,335.5L490,335.5L490.6,335.5L491.2,335.5L491.8,335.5L492.4,335.5L493,335.5L493.6,335.5L494.2,335.5L494.8,335.5L495.4,335.5L496,335.5L496.6,335.5L497.2,335.5L497.8,335.5L498.4,335.5L499,335.5L499.6,335.5L500.2,335.5L500.8,335.5L501.4,335.5L502,335.5L502.6,335.5L503.2,335.5L503.8,335.5L504.4,335.5L505,335.5L505.6,335.5L506.2,335.5L506.8,335.5L507.4,335.5L508,335.5L508.6,335.5M374.2,361.6L374.8,361.6L375.4,361.6L376,361.6L376.6,361.6L377.2,361.6L377.8,361.6L378.4,361.6L379,361.6L379.6,361.6L380.2,361.6L380.8,357.02L381.4,354.42L382,357.02L382.6,356.09L383.2,356.26L383.8,354.75L384.4,354.58L385,353.3L385.6,353.6L386.2,355.23L386.8,353.23L387.4,354.86L388,354.44L388.6,354.47L389.2,351.94L389.8,352.56L390.4,353.54L391,351.8L391.6,351.4L392.2,350.55L392.8,351.8L393.4,351.64L394,350.47L394.6,350.4L395.2,351.23L395.8,349.75L396.4,351.23L397,351.25L397.6,349.82L398.2,348.83L398.8,349.81L399.4,348.88L400,348.18L400.6,349.56L401.2,348.97L401.8,348.03L402.4,347.77L403,348.79L403.6,349.07L404.2,347.46L404.8,347.85L405.4,346.75L406,347.16L406.6,347.25L407.2,346.4L407.8,346.93L408.4,346.59L409,345.23L409.6,345.23L410.2,345.73L410.8,344.94L411.4,345.67L412,345.59L412.6,345.48L413.2,345.87L413.8,345.08L414.4,345.25L415,343.67L415.6,345.1L416.2,345.04L416.8,344.16L417.4,344.47L418,343.73L418.6,343.33L419.2,342.62L419.8,343.09L420.4,343.37L421,343.36L421.6,343.38L422.2,342.5L422.8,343.13L423.4,341.92L424,341.13L424.6,341.71L425.2,341.76L425.8,342L426.4,340.93L427,340.44L427.6,341.45L428.2,340.44L428.8,341.35L429.4,340.75L430,339.94L430.6,340.4L431.2,340.63L431.8,339.68L432.4,340.61L433,339.2L433.6,339.2L434.2,339.68L434.8,339.66L435.4,339.43L436,339.71L436.6,338.69L437.2,338.39L437.8,338.86L438.4,338.53L439,338.47L439.6,338.37L440.2,338.76L440.8,338.05L441.4,338.34L442,338.12L442.6,337.76L443.2,338.21L443.8,337.57L444.4,337.52L445,337.37L445.6,337.64L446.2,337.55L446.8,337.27L447.4,337.08L448,337.26L448.6,337.09L449.2,337.12L449.8,337.09L450.4,336.94L451,337L451.6,337L452.2,337L452.8,337L453.4,337L454,337L454.6,337L455.2,337L455.8,337L456.4,337L457,337L457.6,337L458.2,337L458.8,337L459.4,337L460,337L460.6,337L461.2,337L461.8,337L462.4,337L463,337L463.6,337L464.2,337L464.8,337L465.4,337L466,337L466.6,337L467.2,337L467.8,337L468.4,337L469,337L469.6,337L470.2,337L470.8,337L471.4,337L472,337L472.6,337L473.2,337L473.8,337L474.4,337L475,337L475.6,337L476.2,337L476.8,337L477.4,337L478,337L478.6,337L479.2,337L479.8,337L480.4,337L481,337L481.6,337L482.2,337L482.8,337L483.4,337L484,337L484.6,337L485.2,337L485.8,337L486.4,337L487,337L487.6,337L488.2,337L488.8,337L489.4,337L490,337L490.6,337L491.2,337L491.8,337L492.4,337L493,337L493.6,337L494.2,337L494.8,337L495.4,337L496,337L496.6,337L497.2,337L497.8,337L498.4,337L499,337L499.6,337L500.2,337L500.8,337L501.4,337L502,337L502.6,337L503.2,337L503.8,337L504.4,337L505,337L505.6,337L506.2,337L506.8,337L507.4,337L508,337L508.6,337M374.2,361.6L374.8,361.6L375.4,361.6L376,361.6L376.6,361.6L377.2,361.6L377.8,361.6L378.4,361.6L379,361.6L379.6,361.6L380.2,361.6L380.8,357.69L381.4,357.6L382,354.88L382.6,355.07L383.2,355.46L383.8,356.48L384.4,354.61L385,356.36L385.6,353.48L386.2,355.71L386.8,352.91L387.4,354.31L388,355.17L388.6,354.18L389.2,354.51L389.8,352.63L390.4,354.14L391,353.75L391.6,351.72L392.2,352.9L392.8,353.08L393.4,350.88L394,351.15L394.6,351.97L395.2,351.2L395.8,351.91L396.4,350.38L397,350.2L397.6,349.24L398.2,349.31L398.8,350.66L399.4,348.85L400,350.27L400.6,349.81L401.2,349L401.8,348.12L402.4,347.16L403,347.25L403.6,348.78L404.2,348.88L404.8,348.68L405.4,346.85L406,348.19L406.6,346.82L407.2,346.46L407.8,347.49L408.4,347.09L409,346.57L409.6,345.5L410.2,344.92L410.8,344.9L411.4,344.89L412,344.56L412.6,345.17L413.2,344.45L413.8,344.07L414.4,345.22L415,344.02L415.6,343.13L416.2,342.97L416.8,343.84L417.4,342.68L418,343.5L418.6,342.35L419.2,343L419.8,343.09L420.4,342.78L421,342.06L421.6,342.96L422.2,343.01L422.8,342.58L423.4,342.6L424,342.49L424.6,341.38L425.2,341.5L425.8,341.16L426.4,341.56L427,340.51L427.6,340.46L428.2,340.64L428.8,340.62L429.4,341.07L430,340.08L430.6,339.54L431.2,339.89L431.8,340.34L432.4,339.31L433,339.67L433.6,339.63L434.2,339.75L434.8,339.12L435.4,339.28L436,339.48L436.6,339.37L437.2,338.92L437.8,338.64L438.4,338.78L439,338.74L439.6,338.61L440.2,338.52L440.8,338.29L441.4,338.37L442,338.16L442.6,338.09L443.2,338.05L443.8,338.1L444.4,338.1L445,338.1L445.6,338.1L446.2,338.1L446.8,338.1L447.4,338.1L448,338.1L448.6,338.1L449.2,338.1L449.8,338.1L450.4,338.1L451,338.1L451.6,338.1L452.2,338.1L452.8,338.1L453.4,338.1L454,338.1L454.6,338.1L455.2,338.1L455.8,338.1L456.4,338.1L457,338.1L457.6,338.1L458.2,338.1L458.8,338.1L459.4,338.1L460,338.1L460.6,338.1L461.2,338.1L461.8,338.1L462.4,338.1L463,338.1L463.6,338.1L464.2,338.1L464.8,338.1L465.4,338.1L466,338.1L466.6,338.1L467.2,338.1L467.8,338.1L468.4,338.1L469,338.1L469.6,338.1L470.2,338.1L470.8,338.1L471.4,338.1L472,338.1L472.6,338.1L473.2,338.1L473.8,338.1L474.4,338.1L475,338.1L475.6,338.1L476.2,338.1L476.8,338.1L477.4,338.1L478,338.1L478.6,338.1L479.2,338.1L479.8,338.1L480.4,338.1L481,338.1L481.6,338.1L482.2,338.1L482.8,338.1L483.4,338.1L484,338.1L484.6,338.1L485.2,338.1L485.8,338.1L486.4,338.1L487,338.1L487.6,338.1L488.2,338.1L488.8,338.1L489.4,338.1L490,338.1L490.6,338.1L491.2,338.1L491.8,338.1L492.4,338.1L493,338.1L493.6,338.1L494.2,338.1L494.8,338.1L495.4,338.1L496,338.1L496.6,338.1L497.2,338.1L497.8,338.1L498.4,338.1L499,338.1L499.6,338.1L500.2,338.1L500.8,338.1L501.4,338.1L502,338.1L502.6,338.1L503.2,338.1L503.8,338.1L504.4,338.1L505,338.1L505.6,338.1L506.2,338.1L506.8,338.1L507.4,338.1L508,338.1L508.6,338.1M374.2,361.6L374.8,361.6L375.4,361.6L376,361.6L376.6,361.6L377.2,361.6L377.8,361.6L378.4,361.6L379,361.6L379.6,361.6L380.2,361.6L380.8,356.09L381.4,356.23L382,356.07L382.6,356.09L383.2,356.01L383.8,357.54L384.4,355.93L385,355.79L385.6,355.12L386.2,355.36L386.8,355.95L387.4,354.86L388,354.62L388.6,353.93L389.2,353.24L389.8,353.12L390.4,352.55L391,352.92L391.6,352.02L392.2,352.9L392.8,353.15L393.4,351.65L394,353.26L394.6,352.2L395.2,352.48L395.8,351.75L396.4,352.55L397,352.03L397.6,350.32L398.2,351.29L398.8,350.33L399.4,351.42L400,350.24L400.6,349.66L401.2,348.98L401.8,351.26L402.4,348.84L403,349L403.6,350.53L404.2,348.13L404.8,348.85L405.4,348.72L406,349.15L406.6,349.21L407.2,349.48L407.8,347.73L408.4,347L409,347.14L409.6,346.48L410.2,346.92L410.8,347.55L411.4,348L412,346.04L412.6,346.25L413.2,347.45L413.8,346.61L414.4,346.04L415,345.17L415.6,344.98L416.2,345.17L416.8,345.83L417.4,344.53L418,345.27L418.6,345.75L419.2,343.96L419.8,344.38L420.4,344.47L421,344.69L421.6,344.77L422.2,344.51L422.8,343.9L423.4,343.58L424,343.95L424.6,343.5L425.2,344.18L425.8,343.33L426.4,343.29L427,343.27L427.6,342.83L428.2,342.71L428.8,342.84L429.4,342.6L430,343.08L430.6,341.88L431.2,342.04L431.8,342.61L432.4,342.24L433,341.74L433.6,341.27L434.2,340.98L434.8,341.18L435.4,341.08L436,340.97L436.6,340.64L437.2,340.8L437.8,340.8L438.4,340.15L439,340.67L439.6,340.61L440.2,339.97L440.8,339.93L441.4,339.64L442,339.96L442.6,340.05L443.2,339.73L443.8,339.79L444.4,339.71L445,339.22L445.6,339.17L446.2,339.4L446.8,339.57L447.4,339.36L448,339.17L448.6,339.04L449.2,338.97L449.8,339.08L450.4,339.05L451,339L451.6,339L452.2,339L452.8,339L453.4,339L454,339L454.6,339L455.2,339L455.8,339L456.4,339L457,339L457.6,339L458.2,339L458.8,339L459.4,339L460,339L460.6,339L461.2,339L461.8,339L462.4,339L463,339L463.6,339L464.2,339L464.8,339L465.4,339L466,339L466.6,339L467.2,339L467.8,339L468.4,339L469,339L469.6,339L470.2,339L470.8,339L471.4,339L472,339L472.6,339L473.2,339L473.8,339L474.4,339L475,339L475.6,339L476.2,339L476.8,339L477.4,339L478,339L478.6,339L479.2,339L479.8,339L480.4,339L481,339L481.6,339L482.2,339L482.8,339L483.4,339L484,339L484.6,339L485.2,339L485.8,339L486.4,339L487,339L487.6,339L488.2,339L488.8,339L489.4,339L490,339L490.6,339L491.2,339L491.8,339L492.4,339L493,339L493.6,339L494.2,339L494.8,339L495.4,339L496,339L496.6,339L497.2,339L497.8,339L498.4,339L499,339L499.6,339L500.2,339L500.8,339L501.4,339L502,339L502.6,339L503.2,339L503.8,339L504.4,339L505,339L505.6,339L506.2,339L506.8,339L507.4,339L508,339L508.6,339M374.2,361.6L374.8,361.6L375.4,361.6L376,361.6L376.6,361.6L377.2,361.6L377.8,361.6L378.4,361.6L379,361.6L379.6,361.6L380.2,361.6L380.8,356.32L381.4,356.71L382,357.86L382.6,357.84L383.2,356.46L383.8,357.76L384.4,356L385,354.66L385.6,355.01L386.2,356.89L386.8,356.11L387.4,354.04L388,354.43L388.6,354.55L389.2,354.6L389.8,353.06L390.4,355.47L391,354.13L391.6,353.15L392.2,352.29L392.8,353.63L393.4,354.44L394,353.63L394.6,353.82L395.2,353.65L395.8,352.88L396.4,351.02L397,351.52L397.6,352.05L398.2,351.41L398.8,350.69L399.4,350.11L400,352.01L400.6,351.3L401.2,350.16L401.8,350.41L402.4,351.24L403,349.22L403.6,350.25L404.2,349.08L404.8,350.55L405.4,350.11L406,350.27L406.6,348.73L407.2,348.85L407.8,348.23L408.4,348.13L409,349.34L409.6,349.2L410.2,349.07L410.8,348.69L411.4,347.58L412,347.78L412.6,348.15L413.2,346.94L413.8,347.82L414.4,347.38L415,346.14L415.6,346.13L416.2,346.65L416.8,345.42L417.4,345.45L418,345.17L418.6,344.85L419.2,346.25L419.8,346.25L420.4,345.75L421,345L421.6,345.3L422.2,345.03L422.8,344.44L423.4,344.43L424,343.61L424.6,343.67L425.2,343.7L425.8,343.58L426.4,343.94L427,343.13L427.6,342.99L428.2,343.85L428.8,343.56L429.4,343.65L430,343.28L430.6,342.3L431.2,342.59L431.8,342.95L432.4,342.77L433,341.88L433.6,342.1L434.2,342.11L434.8,341.29L435.4,341.46L436,341.94L436.6,341.73L437.2,341.38L437.8,341.41L438.4,341.26L439,340.98L439.6,340.64L440.2,341.15L440.8,341.08L441.4,340.7L442,340.87L442.6,340.82L443.2,340.63L443.8,340.62L444.4,340.62L445,340.03L445.6,340.43L446.2,340.13L446.8,340.2L447.4,340.12L448,339.95L448.6,340L449.2,340L449.8,340L450.4,340L451,340L451.6,340L452.2,340L452.8,340L453.4,340L454,340L454.6,340L455.2,340L455.8,340L456.4,340L457,340L457.6,340L458.2,340L458.8,340L459.4,340L460,340L460.6,340L461.2,340L461.8,340L462.4,340L463,340L463.6,340L464.2,340L464.8,340L465.4,340L466,340L466.6,340L467.2,340L467.8,340L468.4,340L469,340L469.6,340L470.2,340L470.8,340L471.4,340L472,340L472.6,340L473.2,340L473.8,340L474.4,340L475,340L475.6,340L476.2,340L476.8,340L477.4,340L478,340L478.6,340L479.2,340L479.8,340L480.4,340L481,340L481.6,340L482.2,340L482.8,340L483.4,340L484,340L484.6,340L485.2,340L485.8,340L486.4,340L487,340L487.6,340L488.2,340L488.8,340L489.4,340L490,340L490.6,340L491.2,340L491.8,340L492.4,340L493,340L493.6,340L494.2,340L494.8,340L495.4,340L496,340L496.6,340L497.2,340L497.8,340L498.4,340L499,340L499.6,340L500.2,340L500.8,340L501.4,340L502,340L502.6,340L503.2,340L503.8,340L504.4,340L505,340L505.6,340L506.2,340L506.8,340L507.4,340L508,340L508.6,340M374.2,361.6L374.8,361.6L375.4,361.6L376,361.6L376.6,361.6L377.2,361.6L377.8,361.6L378.4,361.6L379,361.6L379.6,361.6L380.2,361.6L380.8,356.84L381.4,358.68L382,357.23L382.6,357.15L383.2,356.63L383.8,358.1L384.4,357.37L385,356.11L385.6,357.27L386.2,355.38L386.8,357.05L387.4,356.25L388,356.54L388.6,355.89L389.2,356.79L389.8,355.73L390.4,354.86L391,355.04L391.6,354.78L392.2,353.77L392.8,353.65L393.4,354.86L394,354.72L394.6,354.94L395.2,353.97L395.8,353.27L396.4,352.79L397,353.45L397.6,353.11L398.2,353.72L398.8,353L399.4,351.85L400,351.4L400.6,350.61L401.2,352.35L401.8,351.26L402.4,351L403,349.95L403.6,350.9L404.2,351.74L404.8,350.01L405.4,350.99L406,350.86L406.6,350.44L407.2,350.11L407.8,349.11L408.4,349.96L409,349.58L409.6,350.3L410.2,349.08L410.8,348.55L411.4,349.64L412,348.84L412.6,348.04L413.2,348.56L413.8,347.32L414.4,347.24L415,348.58L415.6,347.52L416.2,348.08L416.8,346.7L417.4,347.08L418,346.45L418.6,347.45L419.2,346.88L419.8,346.33L420.4,346.17L421,345.69L421.6,345.55L422.2,346.31L422.8,345.46L423.4,344.95L424,345.32L424.6,345.31L425.2,346.11L425.8,344.92L426.4,344.82L427,345.64L427.6,345.08L428.2,344.52L428.8,344.29L429.4,343.89L430,343.66L430.6,344.03L431.2,344.16L431.8,343.24L432.4,343.67L433,343.12L433.6,343.61L434.2,343.14L434.8,343.45L435.4,343.49L436,342.89L436.6,342.75L437.2,342.28L437.8,342.34L438.4,342.72L439,342.82L439.6,341.98L440.2,342.78L440.8,342.6L441.4,341.95L442,342.03L442.6,342.06L443.2,341.67L443.8,341.62L444.4,341.83L445,341.56L445.6,341.45L446.2,341.47L446.8,341.12L447.4,341.27L448,341.12L448.6,341.02L449.2,341.13L449.8,341.13L450.4,341.04L451,341L451.6,341L452.2,341L452.8,341L453.4,341L454,341L454.6,341L455.2,341L455.8,341L456.4,341L457,341L457.6,341L458.2,341L458.8,341L459.4,341L460,341L460.6,341L461.2,341L461.8,341L462.4,341L463,341L463.6,341L464.2,341L464.8,341L465.4,341L466,341L466.6,341L467.2,341L467.8,341L468.4,341L469,341L469.6,341L470.2,341L470.8,341L471.4,341L472,341L472.6,341L473.2,341L473.8,341L474.4,341L475,341L475.6,341L476.2,341L476.8,341L477.4,341L478,341L478.6,341L479.2,341L479.8,341L480.4,341L481,341L481.6,341L482.2,341L482.8,341L483.4,341L484,341L484.6,341L485.2,341L485.8,341L486.4,341L487,341L487.6,341L488.2,341L488.8,341L489.4,341L490,341L490.6,341L491.2,341L491.8,341L492.4,341L493,341L493.6,341L494.2,341L494.8,341L495.4,341L496,341L496.6,341L497.2,341L497.8,341L498.4,341L499,341L499.6,341L500.2,341L500.8,341L501.4,341L502,341L502.6,341L503.2,341L503.8,341L504.4,341L505,341L505.6,341L506.2,341L506.8,341L507.4,341L508,341L508.6,341M374.2,361.6L374.8,361.6L375.4,361.6L376,361.6L376.6,361.6L377.2,361.6L377.8,361.6L378.4,361.6L379,361.6L379.6,361.6L380.2,361.6L380.8,358.65L381.4,360.24L382,357.62L382.6,356.78L383.2,358.35L383.8,358.56L384.4,357.4L385,357.26L385.6,356.9L386.2,356.42L386.8,357.89L387.4,357.92L388,355.98L388.6,356.65L389.2,356.15L389.8,355.01L390.4,356.59L391,355.82L391.6,356.97L392.2,356.55L392.8,356.34L393.4,354.33L394,353.73L394.6,355.52L395.2,353.38L395.8,354.82L396.4,353.23L397,354.51L397.6,352.57L398.2,352.49L398.8,354.42L399.4,353.31L400,352.96L400.6,354.17L401.2,353.5L401.8,351.88L402.4,352.95L403,351.96L403.6,352L404.2,351.45L404.8,351.08L405.4,351.11L406,350.88L406.6,350.51L407.2,352.02L407.8,350.66L408.4,350.94L409,351.37L409.6,350.9L410.2,349.52L410.8,351.21L411.4,351L412,350.63L412.6,349.32L413.2,350.29L413.8,349.72L414.4,348.23L415,348.84L415.6,349.38L416.2,348.9L416.8,349.6L417.4,349.12L418,349.07L418.6,349.21L419.2,347.77L419.8,348.76L420.4,346.83L421,348.25L421.6,346.74L422.2,347.39L422.8,347.15L423.4,346.33L424,347.24L424.6,347.38L425.2,346.23L425.8,346.15L426.4,346.94L427,346.39L427.6,345.4L428.2,345.77L428.8,346.69L429.4,345.48L430,345.39L430.6,345.52L431.2,346.08L431.8,345.83L432.4,345.08L433,345.38L433.6,344.34L434.2,344.3L434.8,344.62L435.4,344.87L436,344.11L436.6,343.89L437.2,344.82L437.8,343.88L438.4,343.63L439,343.58L439.6,343.49L440.2,343.64L440.8,343.86L441.4,343.85L442,343.38L442.6,343.53L443.2,343.27L443.8,343.41L444.4,342.93L445,343.28L445.6,342.72L446.2,343.34L446.8,342.76L447.4,342.93L448,342.64L448.6,342.74L449.2,342.59L449.8,342.72L450.4,342.71L451,342.67L451.6,342.63L452.2,342.5L452.8,342.5L453.4,342.5L454,342.5L454.6,342.5L455.2,342.5L455.8,342.5L456.4,342.5L457,342.5L457.6,342.5L458.2,342.5L458.8,342.5L459.4,342.5L460,342.5L460.6,342.5L461.2,342.5L461.8,342.5L462.4,342.5L463,342.5L463.6,342.5L464.2,342.5L464.8,342.5L465.4,342.5L466,342.5L466.6,342.5L467.2,342.5L467.8,342.5L468.4,342.5L469,342.5L469.6,342.5L470.2,342.5L470.8,342.5L471.4,342.5L472,342.5L472.6,342.5L473.2,342.5L473.8,342.5L474.4,342.5L475,342.5L475.6,342.5L476.2,342.5L476.8,342.5L477.4,342.5L478,342.5L478.6,342.5L479.2,342.5L479.8,342.5L480.4,342.5L481,342.5L481.6,342.5L482.2,342.5L482.8,342.5L483.4,342.5L484,342.5L484.6,342.5L485.2,342.5L485.8,342.5L486.4,342.5L487,342.5L487.6,342.5L488.2,342.5L488.8,342.5L489.4,342.5L490,342.5L490.6,342.5L491.2,342.5L491.8,342.5L492.4,342.5L493,342.5L493.6,342.5L494.2,342.5L494.8,342.5L495.4,342.5L496,342.5L496.6,342.5L497.2,342.5L497.8,342.5L498.4,342.5L499,342.5L499.6,342.5L500.2,342.5L500.8,342.5L501.4,342.5L502,342.5L502.6,342.5L503.2,342.5L503.8,342.5L504.4,342.5L505,342.5L505.6,342.5L506.2,342.5L506.8,342.5L507.4,342.5L508,342.5L508.6,342.5M374.2,361.6L374.8,361.6L375.4,361.6L376,361.6L376.6,361.6L377.2,361.6L377.8,361.6L378.4,361.6L379,361.6L379.6,361.6L380.2,361.6L380.8,358.93L381.4,358.54L382,359.05L382.6,360.32L383.2,357.26L383.8,359.23L384.4,357.72L385,358.38L385.6,357.18L386.2,358.38L386.8,357.51L387.4,356.77L388,357L388.6,355.5L389.2,355.61L389.8,357.81L390.4,355.21L391,355.96L391.6,356.56L392.2,354.57L392.8,356.95L393.4,354.71L394,356.67L394.6,355L395.2,355.25L395.8,355.13L396.4,353.54L397,354.51L397.6,355L398.2,354.93L398.8,354.61L399.4,354.29L400,352.67L400.6,353.24L401.2,353.33L401.8,351.96L402.4,353.66L403,351.8L403.6,352.81L404.2,351.91L404.8,351.49L405.4,353.28L406,352.3L406.6,352.41L407.2,351.94L407.8,351.68L408.4,352.25L409,350.19L409.6,350.78L410.2,350.26L410.8,350.97L411.4,350.36L412,351.39L412.6,349.71L413.2,349.64L413.8,350.91L414.4,350.33L415,349.56L415.6,349.29L416.2,349.91L416.8,348.55L417.4,349.58L418,348.44L418.6,349.46L419.2,347.87L419.8,349.38L420.4,349.13L421,347.39L421.6,347.52L422.2,348.8L422.8,348.48L423.4,347.39L424,348.17L424.6,347.64L425.2,346.93L425.8,347.57L426.4,346.98L427,346.4L427.6,347.45L428.2,347.1L428.8,346.22L429.4,346.4L430,346.67L430.6,346.08L431.2,345.8L431.8,346.09L432.4,346.58L433,345.26L433.6,345.37L434.2,345.58L434.8,346.14L435.4,346.03L436,344.68L436.6,345.36L437.2,344.66L437.8,344.65L438.4,344.49L439,344.8L439.6,345.23L440.2,345.09L440.8,344.4L441.4,344.82L442,344.53L442.6,343.9L443.2,344.53L443.8,343.94L444.4,344.41L445,343.71L445.6,344.17L446.2,343.85L446.8,343.79L447.4,343.56L448,343.66L448.6,343.72L449.2,343.59L449.8,343.65L450.4,343.51L451,343.5L451.6,343.5L452.2,343.5L452.8,343.5L453.4,343.5L454,343.5L454.6,343.5L455.2,343.5L455.8,343.5L456.4,343.5L457,343.5L457.6,343.5L458.2,343.5L458.8,343.5L459.4,343.5L460,343.5L460.6,343.5L461.2,343.5L461.8,343.5L462.4,343.5L463,343.5L463.6,343.5L464.2,343.5L464.8,343.5L465.4,343.5L466,343.5L466.6,343.5L467.2,343.5L467.8,343.5L468.4,343.5L469,343.5L469.6,343.5L470.2,343.5L470.8,343.5L471.4,343.5L472,343.5L472.6,343.5L473.2,343.5L473.8,343.5L474.4,343.5L475,343.5L475.6,343.5L476.2,343.5L476.8,343.5L477.4,343.5L478,343.5L478.6,343.5L479.2,343.5L479.8,343.5L480.4,343.5L481,343.5L481.6,343.5L482.2,343.5L482.8,343.5L483.4,343.5L484,343.5L484.6,343.5L485.2,343.5L485.8,343.5L486.4,343.5L487,343.5L487.6,343.5L488.2,343.5L488.8,343.5L489.4,343.5L490,343.5L490.6,343.5L491.2,343.5L491.8,343.5L492.4,343.5L493,343.5L493.6,343.5L494.2,343.5L494.8,343.5L495.4,343.5L496,343.5L496.6,343.5L497.2,343.5L497.8,343.5L498.4,343.5L499,343.5L499.6,343.5L500.2,343.5L500.8,343.5L501.4,343.5L502,343.5L502.6,343.5L503.2,343.5L503.8,343.5L504.4,343.5L505,343.5L505.6,343.5L506.2,343.5L506.8,343.5L507.4,343.5L508,343.5L508.6,343.5M374.2,361.6L374.8,361.6L375.4,361.6L376,361.6L376.6,361.6L377.2,361.6L377.8,361.6L378.4,361.6L379,361.6L379.6,361.6L380.2,361.6L380.8,358.74L381.4,360.49L382,359.88L382.6,360.6L383.2,358.71L383.8,358.94L384.4,359.86L385,357.96L385.6,358.15L386.2,359.44L386.8,358.66L387.4,358.01L388,356.42L388.6,358.5L389.2,357.29L389.8,356.61L390.4,356.88L391,356L391.6,357.88L392.2,357.59L392.8,357.91L393.4,356.91L394,355.28L394.6,355.87L395.2,357.32L395.8,354.38L396.4,355.17L397,354.49L397.6,354.4L398.2,354.53L398.8,355.31L399.4,353.67L400,355.66L400.6,354.34L401.2,353.51L401.8,353.18L402.4,354.13L403,353.53L403.6,353.77L404.2,352.62L404.8,353.11L405.4,353.34L406,352.14L406.6,353.03L407.2,353.72L407.8,352.96L408.4,351.7L409,352.77L409.6,351.31L410.2,351.32L410.8,350.87L411.4,351.96L412,351L412.6,351.1L413.2,350.61L413.8,352.22L414.4,350.4L415,351.44L415.6,351.59L416.2,350.68L416.8,350.83L417.4,350.17L418,351.06L418.6,350.65L419.2,349.25L419.8,350.42L420.4,349.14L421,349.71L421.6,348.99L422.2,349.46L422.8,349.67L423.4,349.69L424,348.79L424.6,348.16L425.2,348.78L425.8,349.52L426.4,348.73L427,348.73L427.6,348.87L428.2,348.53L428.8,348.94L429.4,348.83L430,348.34L430.6,348.34L431.2,347.13L431.8,347.23L432.4,347.83L433,347.52L433.6,347.84L434.2,347.59L434.8,346.83L435.4,346.49L436,347.1L436.6,346.22L437.2,346.66L437.8,346.27L438.4,346.35L439,346.58L439.6,346.46L440.2,346.34L440.8,345.57L441.4,346.48L442,346.16L442.6,346.29L443.2,345.87L443.8,345.82L444.4,345.98L445,345.75L445.6,345.56L446.2,344.93L446.8,344.85L447.4,345.39L448,345.42L448.6,344.98L449.2,344.79L449.8,344.89L450.4,345.1L451,344.97L451.6,344.56L452.2,344.56L452.8,344.53L453.4,344.71L454,344.49L454.6,344.64L455.2,344.5L455.8,344.5L456.4,344.5L457,344.5L457.6,344.5L458.2,344.5L458.8,344.5L459.4,344.5L460,344.5L460.6,344.5L461.2,344.5L461.8,344.5L462.4,344.5L463,344.5L463.6,344.5L464.2,344.5L464.8,344.5L465.4,344.5L466,344.5L466.6,344.5L467.2,344.5L467.8,344.5L468.4,344.5L469,344.5L469.6,344.5L470.2,344.5L470.8,344.5L471.4,344.5L472,344.5L472.6,344.5L473.2,344.5L473.8,344.5L474.4,344.5L475,344.5L475.6,344.5L476.2,344.5L476.8,344.5L477.4,344.5L478,344.5L478.6,344.5L479.2,344.5L479.8,344.5L480.4,344.5L481,344.5L481.6,344.5L482.2,344.5L482.8,344.5L483.4,344.5L484,344.5L484.6,344.5L485.2,344.5L485.8,344.5L486.4,344.5L487,344.5L487.6,344.5L488.2,344.5L488.8,344.5L489.4,344.5L490,344.5L490.6,344.5L491.2,344.5L491.8,344.5L492.4,344.5L493,344.5L493.6,344.5L494.2,344.5L494.8,344.5L495.4,344.5L496,344.5L496.6,344.5L497.2,344.5L497.8,344.5L498.4,344.5L499,344.5L499.6,344.5L500.2,344.5L500.8,344.5L501.4,344.5L502,344.5L502.6,344.5L503.2,344.5L503.8,344.5L504.4,344.5L505,344.5L505.6,344.5L506.2,344.5L506.8,344.5L507.4,344.5L508,344.5L508.6,344.5M374.2,361.6L374.8,361.6L375.4,361.6L376,361.6L376.6,361.6L377.2,361.6L377.8,361.6L378.4,361.6L379,361.6L379.6,361.6L380.2,361.6L380.8,360.13L381.4,359.07L382,361.22L382.6,358.33L383.2,359.38L383.8,359.07L384.4,357.84L385,358.22L385.6,360.37L386.2,359.78L386.8,358.27L387.4,359.44L388,359.36L388.6,359.01L389.2,358.44L389.8,357.79L390.4,357.44L391,357.85L391.6,357.34L392.2,358.22L392.8,355.79L393.4,357.63L394,357.05L394.6,356.01L395.2,356.95L395.8,355.23L396.4,355.35L397,355.68L397.6,356.55L398.2,354.45L398.8,355.87L399.4,355.2L400,355.71L400.6,353.94L401.2,354.7L401.8,355.1L402.4,354.92L403,354.29L403.6,354.47L404.2,353.8L404.8,353.44L405.4,352.41L406,353.03L406.6,353.95L407.2,353.72L407.8,351.46L408.4,351.91L409,351.62L409.6,352.82L410.2,351.2L410.8,352.34L411.4,350.94L412,351.11L412.6,352.31L413.2,350.37L413.8,351.18L414.4,350.41L415,351.25L415.6,349.71L416.2,350.79L416.8,349.83L417.4,351.05L418,349.7L418.6,350.21L419.2,348.87L419.8,350.43L420.4,349.73L421,350.09L421.6,349.65L422.2,348.33L422.8,349.38L423.4,348.64L424,348.22L424.6,349.23L425.2,348.73L425.8,348.11L426.4,347.57L427,348.34L427.6,347.34L428.2,347.5L428.8,347.12L429.4,347.2L430,347.88L430.6,347.13L431.2,347.96L431.8,346.94L432.4,347.49L433,347.3L433.6,347.09L434.2,346.94L434.8,346.33L435.4,346.98L436,346.97L436.6,346.48L437.2,346.07L437.8,345.91L438.4,345.99L439,346.51L439.6,345.9L440.2,345.81L440.8,345.92L441.4,345.54L442,345.94L442.6,345.86L443.2,345.57L443.8,345.43L444.4,345.68L445,345.59L445.6,345.52L446.2,345.5L446.8,345.5L447.4,345.5L448,345.5L448.6,345.5L449.2,345.5L449.8,345.5L450.4,345.5L451,345.5L451.6,345.5L452.2,345.5L452.8,345.5L453.4,345.5L454,345.5L454.6,345.5L455.2,345.5L455.8,345.5L456.4,345.5L457,345.5L457.6,345.5L458.2,345.5L458.8,345.5L459.4,345.5L460,345.5L460.6,345.5L461.2,345.5L461.8,345.5L462.4,345.5L463,345.5L463.6,345.5L464.2,345.5L464.8,345.5L465.4,345.5L466,345.5L466.6,345.5L467.2,345.5L467.8,345.5L468.4,345.5L469,345.5L469.6,345.5L470.2,345.5L470.8,345.5L471.4,345.5L472,345.5L472.6,345.5L473.2,345.5L473.8,345.5L474.4,345.5L475,345.5L475.6,345.5L476.2,345.5L476.8,345.5L477.4,345.5L478,345.5L478.6,345.5L479.2,345.5L479.8,345.5L480.4,345.5L481,345.5L481.6,345.5L482.2,345.5L482.8,345.5L483.4,345.5L484,345.5L484.6,345.5L485.2,345.5L485.8,345.5L486.4,345.5L487,345.5L487.6,345.5L488.2,345.5L488.8,345.5L489.4,345.5L490,345.5L490.6,345.5L491.2,345.5L491.8,345.5L492.4,345.5L493,345.5L493.6,345.5L494.2,345.5L494.8,345.5L495.4,345.5L496,345.5L496.6,345.5L497.2,345.5L497.8,345.5L498.4,345.5L499,345.5L499.6,345.5L500.2,345.5L500.8,345.5L501.4,345.5L502,345.5L502.6,345.5L503.2,345.5L503.8,345.5L504.4,345.5L505,345.5L505.6,345.5L506.2,345.5L506.8,345.5L507.4,345.5L508,345.5L508.6,345.5M374.2,361.6L374.8,361.6L375.4,361.6L376,361.6L376.6,361.6L377.2,361.6L377.8,361.6L378.4,361.6L379,361.6L379.6,361.6L380.2,361.6L380.8,362.86L381.4,361.68L382,359.58L382.6,362.39L383.2,361.32L383.8,359.54L384.4,361.55L385,360.47L385.6,360.41L386.2,358.39L386.8,358.79L387.4,360.35L388,357.86L388.6,358.23L389.2,357.7L389.8,359.04L390.4,357.58L391,359.28L391.6,358.15L392.2,358.93L392.8,359.13L393.4,359.12L394,356.77L394.6,357.09L395.2,358.11L395.8,356.69L396.4,358.17L397,356.38L397.6,357L398.2,355.86L398.8,356.93L399.4,355.62L400,355.83L400.6,356.45L401.2,356.56L401.8,354.66L402.4,354.6L403,354.55L403.6,355.77L404.2,355.39L404.8,355.34L405.4,355.4L406,353.88L406.6,354.36L407.2,353.06L407.8,353.73L408.4,354.16L409,353.24L409.6,354.31L410.2,352.86L410.8,353.24L411.4,353.62L412,352.48L412.6,353.3L413.2,352.6L413.8,351.73L414.4,351.73L415,352.72L415.6,352.92L416.2,352.5L416.8,352.73L417.4,352.2L418,352.29L418.6,352.27L419.2,351.68L419.8,351.43L420.4,350.64L421,350.66L421.6,350.27L422.2,350.21L422.8,350.58L423.4,350.3L424,350.64L424.6,350.95L425.2,349.93L425.8,350.81L426.4,350.6L427,349.5L427.6,349.99L428.2,349.31L428.8,349.02L429.4,349.15L430,349.03L430.6,348.68L431.2,348.62L431.8,349.53L432.4,349.5L433,349.39L433.6,348.35L434.2,348.22L434.8,349.07L435.4,348.45L436,348.34L436.6,348.62L437.2,348.37L437.8,348.1L438.4,347.87L439,347.79L439.6,348.2L440.2,348.27L440.8,347.58L441.4,347.66L442,347.79L442.6,347.59L443.2,347.66L443.8,347.62L444.4,347.49L445,347.44L445.6,347.5L446.2,347.5L446.8,347.5L447.4,347.5L448,347.5L448.6,347.5L449.2,347.5L449.8,347.5L450.4,347.5L451,347.5L451.6,347.5L452.2,347.5L452.8,347.5L453.4,347.5L454,347.5L454.6,347.5L455.2,347.5L455.8,347.5L456.4,347.5L457,347.5L457.6,347.5L458.2,347.5L458.8,347.5L459.4,347.5L460,347.5L460.6,347.5L461.2,347.5L461.8,347.5L462.4,347.5L463,347.5L463.6,347.5L464.2,347.5L464.8,347.5L465.4,347.5L466,347.5L466.6,347.5L467.2,347.5L467.8,347.5L468.4,347.5L469,347.5L469.6,347.5L470.2,347.5L470.8,347.5L471.4,347.5L472,347.5L472.6,347.5L473.2,347.5L473.8,347.5L474.4,347.5L475,347.5L475.6,347.5L476.2,347.5L476.8,347.5L477.4,347.5L478,347.5L478.6,347.5L479.2,347.5L479.8,347.5L480.4,347.5L481,347.5L481.6,347.5L482.2,347.5L482.8,347.5L483.4,347.5L484,347.5L484.6,347.5L485.2,347.5L485.8,347.5L486.4,347.5L487,347.5L487.6,347.5L488.2,347.5L488.8,347.5L489.4,347.5L490,347.5L490.6,347.5L491.2,347.5L491.8,347.5L492.4,347.5L493,347.5L493.6,347.5L494.2,347.5L494.8,347.5L495.4,347.5L496,347.5L496.6,347.5L497.2,347.5L497.8,347.5L498.4,347.5L499,347.5L499.6,347.5L500.2,347.5L500.8,347.5L501.4,347.5L502,347.5L502.6,347.5L503.2,347.5L503.8,347.5L504.4,347.5L505,347.5L505.6,347.5L506.2,347.5L506.8,347.5L507.4,347.5L508,347.5L508.6,347.5M374.2,361.6L374.8,361.6L375.4,361.6L376,361.6L376.6,361.6L377.2,361.6L377.8,361.6L378.4,361.6L379,361.6L379.6,361.6L380.2,361.6L380.8,355.54L381.4,356.6L382,357.25L382.6,356.28L383.2,355.37L383.8,356.97L384.4,356.3L385,356.76L385.6,354.4L386.2,354.76L386.8,354.45L387.4,355.43L388,354.56L388.6,354.14L389.2,353.83L389.8,354.74L390.4,352.96L391,352.11L391.6,352.05L392.2,352.05L392.8,351.43L393.4,353.75L394,352.35L394.6,352.84L395.2,351.68L395.8,351.67L396.4,350.66L397,352.3L397.6,350.82L398.2,350.59L398.8,351.31L399.4,351.45L400,351.6L400.6,350.04L401.2,349.7L401.8,350.56L402.4,349.33L403,348.58L403.6,349.1L404.2,348.49L404.8,348.19L405.4,349.3L406,348.06L406.6,348.56L407.2,347.6L407.8,346.96L408.4,348.4L409,348.21L409.6,347.86L410.2,347.46L410.8,346.27L411.4,346.86L412,347.45L412.6,347.16L413.2,346.55L413.8,346.47L414.4,345.28L415,344.87L415.6,346.43L416.2,344.48L416.8,344.83L417.4,344.98L418,345.45L418.6,345.28L419.2,345.47L419.8,345.43L420.4,343.94L421,343.75L421.6,343.35L422.2,343.61L422.8,343.02L423.4,344.51L424,343.63L424.6,343.32L425.2,342.38L425.8,343.79L426.4,342.44L427,343.23L427.6,342.1L428.2,342.08L428.8,341.72L429.4,342.25L430,341.7L430.6,342.04L431.2,342.13L431.8,341.22L432.4,340.95L433,341.41L433.6,341.11L434.2,341.06L434.8,340.82L435.4,340.41L436,340.24L436.6,340.95L437.2,340.7L437.8,340.65L438.4,340.47L439,340.19L439.6,339.69L440.2,340.44L440.8,339.88L441.4,339.69L442,339.37L442.6,339.4L443.2,339.92L443.8,339.23L444.4,339.52L445,338.79L445.6,339.13L446.2,338.76L446.8,338.65L447.4,338.63L448,338.63L448.6,338.72L449.2,338.49L449.8,338.7L450.4,338.22L451,338.52L451.6,338.26L452.2,338.34L452.8,338.15L453.4,338.09L454,338.16L454.6,338.1L455.2,338.1L455.8,338.1L456.4,338.1L457,338.1L457.6,338.1L458.2,338.1L458.8,338.1L459.4,338.1L460,338.1L460.6,338.1L461.2,338.1L461.8,338.1L462.4,338.1L463,338.1L463.6,338.1L464.2,338.1L464.8,338.1L465.4,338.1L466,338.1L466.6,338.1L467.2,338.1L467.8,338.1L468.4,338.1L469,338.1L469.6,338.1L470.2,338.1L470.8,338.1L471.4,338.1L472,338.1L472.6,338.1L473.2,338.1L473.8,338.1L474.4,338.1L475,338.1L475.6,338.1L476.2,338.1L476.8,338.1L477.4,338.1L478,338.1L478.6,338.1L479.2,338.1L479.8,338.1L480.4,338.1L481,338.1L481.6,338.1L482.2,338.1L482.8,338.1L483.4,338.1L484,338.1L484.6,338.1L485.2,338.1L485.8,338.1L486.4,338.1L487,338.1L487.6,338.1L488.2,338.1L488.8,338.1L489.4,338.1L490,338.1L490.6,338.1L491.2,338.1L491.8,338.1L492.4,338.1L493,338.1L493.6,338.1L494.2,338.1L494.8,338.1L495.4,338.1L496,338.1L496.6,338.1L497.2,338.1L497.8,338.1L498.4,338.1L499,338.1L499.6,338.1L500.2,338.1L500.8,338.1L501.4,338.1L502,338.1L502.6,338.1L503.2,338.1L503.8,338.1L504.4,338.1L505,338.1L505.6,338.1L506.2,338.1L506.8,338.1L507.4,338.1L508,338.1L508.6,338.1M374.2,361.6L374.8,361.6L375.4,361.6L376,361.6L376.6,361.6L377.2,361.6L377.8,361.6L378.4,361.6L379,361.6L379.6,361.6L380.2,361.6L380.8,358.36L381.4,357.51L382,357.9L382.6,358.46L383.2,357.57L383.8,358.07L384.4,355.94L385,355.58L385.6,357.17L386.2,356.82L386.8,356.77L387.4,355.2L388,354.94L388.6,356.33L389.2,353.92L389.8,353.62L390.4,353.44L391,353.63L391.6,353.77L392.2,353.48L392.8,353.51L393.4,352.11L394,352.79L394.6,353.07L395.2,351.61L395.8,352.61L396.4,353.59L397,352.71L397.6,353.31L398.2,352.88L398.8,351.71L399.4,350.27L400,350.19L400.6,351.37L401.2,351.88L401.8,350.37L402.4,349.68L403,351.11L403.6,350.37L404.2,350.01L404.8,348.99L405.4,349.87L406,349.74L406.6,349.9L407.2,350.19L407.8,348.03L408.4,349.66L409,348.28L409.6,348.33L410.2,348L410.8,348.9L411.4,347.89L412,346.89L412.6,347.64L413.2,346.75L413.8,346.31L414.4,346.23L415,346.79L415.6,346.78L416.2,345.67L416.8,345.81L417.4,347.24L418,346.35L418.6,347.08L419.2,346.03L419.8,346.7L420.4,346.02L421,345.28L421.6,344.49L422.2,344.53L422.8,345.6L423.4,345.21L424,344.4L424.6,344.02L425.2,344.73L425.8,345.09L426.4,343.77L427,344.91L427.6,343.98L428.2,343.31L428.8,343.14L429.4,343.86L430,344.07L430.6,342.81L431.2,342.74L431.8,342.48L432.4,342.46L433,342.37L433.6,342.52L434.2,342.16L434.8,342.62L435.4,341.94L436,341.87L436.6,341.95L437.2,341.53L437.8,341.29L438.4,341.24L439,341.05L439.6,341.71L440.2,340.92L440.8,341.29L441.4,341.61L442,341.23L442.6,340.84L443.2,340.84L443.8,340.78L444.4,340.61L445,340.32L445.6,340.34L446.2,340.27L446.8,340.25L447.4,340.27L448,340.08L448.6,340.3L449.2,340.05L449.8,340.13L450.4,340.14L451,340.04L451.6,340.04L452.2,340L452.8,340L453.4,340L454,340L454.6,340L455.2,340L455.8,340L456.4,340L457,340L457.6,340L458.2,340L458.8,340L459.4,340L460,340L460.6,340L461.2,340L461.8,340L462.4,340L463,340L463.6,340L464.2,340L464.8,340L465.4,340L466,340L466.6,340L467.2,340L467.8,340L468.4,340L469,340L469.6,340L470.2,340L470.8,340L471.4,340L472,340L472.6,340L473.2,340L473.8,340L474.4,340L475,340L475.6,340L476.2,340L476.8,340L477.4,340L478,340L478.6,340L479.2,340L479.8,340L480.4,340L481,340L481.6,340L482.2,340L482.8,340L483.4,340L484,340L484.6,340L485.2,340L485.8,340L486.4,340L487,340L487.6,340L488.2,340L488.8,340L489.4,340L490,340L490.6,340L491.2,340L491.8,340L492.4,340L493,340L493.6,340L494.2,340L494.8,340L495.4,340L496,340L496.6,340L497.2,340L497.8,340L498.4,340L499,340L499.6,340L500.2,340L500.8,340L501.4,340L502,340L502.6,340L503.2,340L503.8,340L504.4,340L505,340L505.6,340L506.2,340L506.8,340L507.4,340L508,340L508.6,340M374.2,361.6L374.8,361.6L375.4,361.6L376,361.6L376.6,361.6L377.2,361.6L377.8,361.6L378.4,361.6L379,361.6L379.6,361.6L380.2,361.6L380.8,359.24L381.4,358.31L382,357.6L382.6,359.47L383.2,358.27L383.8,357.85L384.4,357.03L385,357.16L385.6,359.17L386.2,357.7L386.8,358.66L387.4,358.47L388,356.5L388.6,356.27L389.2,358.06L389.8,355.96L390.4,356.85L391,357.66L391.6,356.12L392.2,355.83L392.8,357.19L393.4,356.74L394,356.75L394.6,355.95L395.2,354.43L395.8,353.78L396.4,353.55L397,355.87L397.6,354.66L398.2,355.41L398.8,355.44L399.4,353.34L400,355.14L400.6,353.13L401.2,352.72L401.8,352.81L402.4,354.53L403,354.22L403.6,352.55L404.2,352.73L404.8,353.43L405.4,353.22L406,353.29L406.6,351.81L407.2,351.34L407.8,351.88L408.4,352.74L409,351.81L409.6,352.27L410.2,350.53L410.8,351.11L411.4,351.91L412,350.96L412.6,351.32L413.2,351.2L413.8,350.24L414.4,350.64L415,350.5L415.6,349.81L416.2,349.84L416.8,350.32L417.4,350.32L418,350.4L418.6,348.97L419.2,349.47L419.8,349.08L420.4,349.54L421,348.19L421.6,348.51L422.2,347.97L422.8,348.89L423.4,348.58L424,347.13L424.6,347.2L425.2,347.15L425.8,347.84L426.4,348.04L427,347.15L427.6,346.58L428.2,347.33L428.8,347.26L429.4,346.83L430,346.45L430.6,346.47L431.2,346.17L431.8,346.97L432.4,346.19L433,346.58L433.6,346.22L434.2,345.65L434.8,345.62L435.4,346.07L436,346.22L436.6,346.18L437.2,345.06L437.8,345.11L438.4,344.81L439,344.84L439.6,344.99L440.2,345.28L440.8,345.41L441.4,344.95L442,344.37L442.6,344.54L443.2,344.22L443.8,344.28L444.4,344.49L445,344.34L445.6,343.97L446.2,344L446.8,344.42L447.4,344.14L448,344.04L448.6,343.79L449.2,343.72L449.8,343.93L450.4,343.48L451,343.75L451.6,343.81L452.2,343.63L452.8,343.43L453.4,343.44L454,343.5L454.6,343.5L455.2,343.5L455.8,343.5L456.4,343.5L457,343.5L457.6,343.5L458.2,343.5L458.8,343.5L459.4,343.5L460,343.5L460.6,343.5L461.2,343.5L461.8,343.5L462.4,343.5L463,343.5L463.6,343.5L464.2,343.5L464.8,343.5L465.4,343.5L466,343.5L466.6,343.5L467.2,343.5L467.8,343.5L468.4,343.5L469,343.5L469.6,343.5L470.2,343.5L470.8,343.5L471.4,343.5L472,343.5L472.6,343.5L473.2,343.5L473.8,343.5L474.4,343.5L475,343.5L475.6,343.5L476.2,343.5L476.8,343.5L477.4,343.5L478,343.5L478.6,343.5L479.2,343.5L479.8,343.5L480.4,343.5L481,343.5L481.6,343.5L482.2,343.5L482.8,343.5L483.4,343.5L484,343.5L484.6,343.5L485.2,343.5L485.8,343.5L486.4,343.5L487,343.5L487.6,343.5L488.2,343.5L488.8,343.5L489.4,343.5L490,343.5L490.6,343.5L491.2,343.5L491.8,343.5L492.4,343.5L493,343.5L493.6,343.5L494.2,343.5L494.8,343.5L495.4,343.5L496,343.5L496.6,343.5L497.2,343.5L497.8,343.5L498.4,343.5L499,343.5L499.6,343.5L500.2,343.5L500.8,343.5L501.4,343.5L502,343.5L502.6,343.5L503.2,343.5L503.8,343.5L504.4,343.5L505,343.5L505.6,343.5L506.2,343.5L506.8,343.5L507.4,343.5L508,343.5L508.6,343.5M374.2,361.6L374.8,361.6L375.4,361.6L376,361.6L376.6,361.6L377.2,361.6L377.8,361.6L378.4,361.6L379,361.6L379.6,361.6L380.2,361.6L380.8,359.41L381.4,360L382,360.55L382.6,360.45L383.2,359.07L383.8,360.13L384.4,360.68L385,359.13L385.6,358.75L386.2,359.46L386.8,359.86L387.4,359.13L388,359.68L388.6,359.08L389.2,359.43L389.8,357.17L390.4,358.26L391,356.74L391.6,356.32L392.2,356.81L392.8,358.39L393.4,356.36L394,356.25L394.6,357.83L395.2,357.82L395.8,357.03L396.4,355.75L397,356.9L397.6,354.67L398.2,354.37L398.8,354.37L399.4,354.95L400,354.55L400.6,356.04L401.2,354.8L401.8,355.7L402.4,354.61L403,354.16L403.6,353.93L404.2,353.05L404.8,353.94L405.4,355.03L406,354.93L406.6,354.68L407.2,352.49L407.8,353.19L408.4,353.99L409,352.22L409.6,351.88L410.2,352.08L410.8,351.66L411.4,353.04L412,352.84L412.6,353.32L413.2,351.07L413.8,352.4L414.4,352.46L415,350.97L415.6,350.63L416.2,352.44L416.8,351.9L417.4,350.24L418,350.37L418.6,351.22L419.2,350.09L419.8,350.51L420.4,349.81L421,349.58L421.6,350.23L422.2,350.22L422.8,350.68L423.4,348.96L424,349.51L424.6,348.87L425.2,349.64L425.8,348.82L426.4,349.01L427,350.01L427.6,349.33L428.2,349.25L428.8,349.03L429.4,348.24L430,348.93L430.6,349.28L431.2,347.76L431.8,348.83L432.4,347.96L433,347.64L433.6,348.22L434.2,348.4L434.8,347.31L435.4,347.26L436,347.59L436.6,347.1L437.2,347.41L437.8,347.94L438.4,346.61L439,347.03L439.6,346.67L440.2,346.55L440.8,346.96L441.4,347.27L442,346.65L442.6,346.66L443.2,346.72L443.8,346.79L444.4,346.81L445,346.14L445.6,345.94L446.2,346.49L446.8,346.16L447.4,346.3L448,345.7L448.6,346.08L449.2,345.59L449.8,345.56L450.4,345.52L451,345.6L451.6,345.59L452.2,345.64L452.8,345.66L453.4,345.51L454,345.5L454.6,345.5L455.2,345.5L455.8,345.5L456.4,345.5L457,345.5L457.6,345.5L458.2,345.5L458.8,345.5L459.4,345.5L460,345.5L460.6,345.5L461.2,345.5L461.8,345.5L462.4,345.5L463,345.5L463.6,345.5L464.2,345.5L464.8,345.5L465.4,345.5L466,345.5L466.6,345.5L467.2,345.5L467.8,345.5L468.4,345.5L469,345.5L469.6,345.5L470.2,345.5L470.8,345.5L471.4,345.5L472,345.5L472.6,345.5L473.2,345.5L473.8,345.5L474.4,345.5L475,345.5L475.6,345.5L476.2,345.5L476.8,345.5L477.4,345.5L478,345.5L478.6,345.5L479.2,345.5L479.8,345.5L480.4,345.5L481,345.5L481.6,345.5L482.2,345.5L482.8,345.5L483.4,345.5L484,345.5L484.6,345.5L485.2,345.5L485.8,345.5L486.4,345.5L487,345.5L487.6,345.5L488.2,345.5L488.8,345.5L489.4,345.5L490,345.5L490.6,345.5L491.2,345.5L491.8,345.5L492.4,345.5L493,345.5L493.6,345.5L494.2,345.5L494.8,345.5L495.4,345.5L496,345.5L496.6,345.5L497.2,345.5L497.8,345.5L498.4,345.5L499,345.5L499.6,345.5L500.2,345.5L500.8,345.5L501.4,345.5L502,345.5L502.6,345.5L503.2,345.5L503.8,345.5L504.4,345.5L505,345.5L505.6,345.5L506.2,345.5L506.8,345.5L507.4,345.5L508,345.5L508.6,345.5M380.5,361.6L380.6,355.5L381.5,361M396.8,361L397,357.5L397.3,360.8L411,360.8L411.2,357" stroke="#000" stroke-width="1.15" fill="none" stroke-linejoin="round"/>
<path d="M535.7,361.6L536.2,361.29L536.7,360.94L537.2,360.4L537.7,359.4L538.2,359.58L538.7,360.82L539.2,361L539.7,360.39L540.2,358.96L540.7,358.55L541.2,357.18L541.7,357.19L542.2,360.7L542.7,358.39L543.2,357.21L543.7,357.61L544.2,357.13L544.7,355.88L545.2,356.24L545.7,356.04L546.2,358.12L546.7,357.82L547.2,354.55L547.7,355.12L548.2,353.7L548.7,357.09L549.2,352.75L549.7,354.21L550.2,351.6L550.7,353.59L551.2,353.32L551.7,350.83L552.2,351.26L552.7,352.74L553.2,352.35L553.7,351.24L554.2,349.73L554.7,350.82L555.2,350.68L555.7,349.2L556.2,351.41L556.7,349.26L557.2,350.46L557.7,350.48L558.2,349.45L558.7,349.84L559.2,349.81L559.7,349.93L560.2,349.49L560.7,349.47L561.2,349.07L561.7,348.35L562.2,348.86L562.7,348.6L563.2,348.09L563.7,348.42L564.2,347.17L564.7,348.01L565.2,347.16L565.7,347.19L566.2,347.3L566.7,346.35L567.2,346.55L567.7,345.78L568.2,345.61L568.7,346.52L569.2,345.44L569.7,345.5L570.2,344.97L570.7,345.83L571.2,345.21L571.7,345.51L572.2,344.7L572.7,344.81L573.2,344.44L573.7,344.74L574.2,344.76L574.7,344.49L575.2,344.39L575.7,343.95L576.2,344.6L576.7,343.37L577.2,343.43L577.7,343.92L578.2,344.17L578.7,343.91L579.2,343.07L579.7,343.79L580.2,343.1L580.7,343.12L581.2,343.1L581.7,342.95L582.2,343.15L582.7,343.06L583.2,342.24L583.7,342.82L584.2,342L584.7,342.3L585.2,341.54L585.7,341.98L586.2,341.44L586.7,342.14L587.2,341.61L587.7,341.15L588.2,341.7L588.7,340.55L589.2,341.18L589.7,340.92L590.2,340.03L590.7,340.43L591.2,339.88L591.7,340.81L592.2,339.6L592.7,340.1L593.2,339.86L593.7,339.22L594.2,340.06L594.7,339.5L595.2,339.4L595.7,338.83L596.2,338.55L596.7,338.6L597.2,338.11L597.7,338.16L598.2,338.36L598.7,338.09L599.2,338.38L599.7,337.49L600.2,337.77L600.7,337.62L601.2,337.48L601.7,337.33L602.2,337.18L602.7,337.03L603.2,336.88L603.7,336.73L604.2,336.58L604.7,336.43L605.2,336.27L605.7,336.12L606.2,335.97L606.7,335.81L607.2,335.66L607.7,335.51L608.2,335.36L608.7,335.2L609.2,335.05L609.7,334.9L610.2,334.74L610.7,334.59L611.2,334.5L611.7,334.5L612.2,334.5L612.7,334.5L613.2,334.5L613.7,334.5L614.2,334.5L614.7,334.5L615.2,334.5L615.7,334.5L616.2,334.5L616.7,334.5L617.2,334.5L617.7,334.5L618.2,334.5L618.7,334.5L619.2,334.5L619.7,334.5L620.2,334.5L620.7,334.5L621.2,334.5L621.7,334.5L622.2,334.5L622.7,334.5L623.2,334.5L623.7,334.5L624.2,334.5L624.7,334.5L625.2,334.5L625.7,334.5L626.2,334.5L626.7,334.5L627.2,334.5L627.7,334.5L628.2,334.5L628.7,334.5L629.2,334.5L629.7,334.5L630.2,334.5L630.7,334.5L631.2,334.5L631.7,334.5L632.2,334.5L632.7,334.5L633.2,334.5L633.7,334.5L634.2,334.5L634.7,334.5L635.2,334.5L635.7,334.5L636.2,334.5L636.7,334.5L637.2,334.5L637.7,334.5L638.2,334.5L638.7,334.5L639.2,334.5L639.7,334.5L640.2,334.5L640.7,334.5L641.2,334.5L641.7,334.5L642.2,334.5L642.7,334.5L643.2,334.5L643.7,334.5L644.2,334.5L644.7,334.5L645.2,334.5L645.7,334.5L646.2,334.5L646.7,334.5L647.2,334.5L647.7,334.5L648.2,334.5L648.7,334.5L649.2,334.5L649.7,334.5L650.2,334.5L650.7,334.5L651.2,334.5L651.7,334.5L652.2,334.5L652.7,334.5L653.2,334.5L653.7,334.5L654.2,334.5L654.7,334.5L655.2,334.5L655.7,334.5L656.2,334.5L656.7,334.5L657.2,334.5L657.7,334.5L658.2,334.5L658.7,334.5L659.2,334.5L659.7,334.5L660.2,334.5L660.7,334.5L661.2,334.5L661.7,334.5L662.2,334.5L662.7,334.5L663.2,334.5L663.7,334.5L664.2,334.5L664.7,334.5L665.2,334.5L665.7,334.5L666.2,334.5L666.7,334.5L667.2,334.5L667.7,334.5L668.2,334.5L668.7,334.5L669.2,334.5L669.7,334.5L670.2,334.5M535.7,361.6L536.2,361.08L536.7,361.65L537.2,360.94L537.7,361.43L538.2,361.83L538.7,358.71L539.2,361.55L539.7,357.42L540.2,360.43L540.7,360.65L541.2,358.36L541.7,360.65L542.2,359.79L542.7,358.2L543.2,356.88L543.7,356.03L544.2,355.37L544.7,357.45L545.2,357.13L545.7,355.2L546.2,356.67L546.7,354.18L547.2,355.05L547.7,356.64L548.2,353.81L548.7,355.43L549.2,353.24L549.7,356.74L550.2,353.15L550.7,356.5L551.2,356.2L551.7,356.19L552.2,352.53L552.7,354.29L553.2,350.99L553.7,355.26L554.2,353.62L554.7,350.1L555.2,350.36L555.7,349.96L556.2,350.93L556.7,353.63L557.2,351.57L557.7,350.82L558.2,351.2L558.7,350.05L559.2,350.49L559.7,350.11L560.2,349.54L560.7,350.36L561.2,349.85L561.7,350.06L562.2,349.44L562.7,349.22L563.2,348.43L563.7,348.65L564.2,348.96L564.7,348.36L565.2,348.26L565.7,347.85L566.2,347.53L566.7,346.92L567.2,346.98L567.7,346.74L568.2,346.43L568.7,346.19L569.2,346.84L569.7,346.93L570.2,346.41L570.7,346.45L571.2,345.59L571.7,346.24L572.2,345.56L572.7,346.01L573.2,345.16L573.7,345.11L574.2,345.27L574.7,344.79L575.2,344.71L575.7,345.16L576.2,345.11L576.7,345.23L577.2,344.72L577.7,344.24L578.2,344.26L578.7,344.28L579.2,344.18L579.7,344.45L580.2,343.91L580.7,344.27L581.2,343.57L581.7,343.41L582.2,342.8L582.7,343.03L583.2,343.11L583.7,342.42L584.2,342.81L584.7,342.29L585.2,342.35L585.7,342.96L586.2,342.87L586.7,341.78L587.2,342.22L587.7,341.97L588.2,341.32L588.7,341.48L589.2,341.64L589.7,341.38L590.2,341.42L590.7,340.69L591.2,341.22L591.7,341.09L592.2,340.45L592.7,340.78L593.2,341.09L593.7,340.91L594.2,340.45L594.7,340.21L595.2,340.35L595.7,339.86L596.2,340.03L596.7,339.5L597.2,339.59L597.7,339.67L598.2,339.36L598.7,339.25L599.2,338.86L599.7,338.68L600.2,338.73L600.7,338.6L601.2,338.47L601.7,338.34L602.2,338.2L602.7,338.07L603.2,337.94L603.7,337.81L604.2,337.67L604.7,337.53L605.2,337.4L605.7,337.26L606.2,337.13L606.7,336.99L607.2,336.86L607.7,336.72L608.2,336.58L608.7,336.45L609.2,336.31L609.7,336.18L610.2,336.04L610.7,335.91L611.2,335.77L611.7,335.64L612.2,335.5L612.7,335.5L613.2,335.5L613.7,335.5L614.2,335.5L614.7,335.5L615.2,335.5L615.7,335.5L616.2,335.5L616.7,335.5L617.2,335.5L617.7,335.5L618.2,335.5L618.7,335.5L619.2,335.5L619.7,335.5L620.2,335.5L620.7,335.5L621.2,335.5L621.7,335.5L622.2,335.5L622.7,335.5L623.2,335.5L623.7,335.5L624.2,335.5L624.7,335.5L625.2,335.5L625.7,335.5L626.2,335.5L626.7,335.5L627.2,335.5L627.7,335.5L628.2,335.5L628.7,335.5L629.2,335.5L629.7,335.5L630.2,335.5L630.7,335.5L631.2,335.5L631.7,335.5L632.2,335.5L632.7,335.5L633.2,335.5L633.7,335.5L634.2,335.5L634.7,335.5L635.2,335.5L635.7,335.5L636.2,335.5L636.7,335.5L637.2,335.5L637.7,335.5L638.2,335.5L638.7,335.5L639.2,335.5L639.7,335.5L640.2,335.5L640.7,335.5L641.2,335.5L641.7,335.5L642.2,335.5L642.7,335.5L643.2,335.5L643.7,335.5L644.2,335.5L644.7,335.5L645.2,335.5L645.7,335.5L646.2,335.5L646.7,335.5L647.2,335.5L647.7,335.5L648.2,335.5L648.7,335.5L649.2,335.5L649.7,335.5L650.2,335.5L650.7,335.5L651.2,335.5L651.7,335.5L652.2,335.5L652.7,335.5L653.2,335.5L653.7,335.5L654.2,335.5L654.7,335.5L655.2,335.5L655.7,335.5L656.2,335.5L656.7,335.5L657.2,335.5L657.7,335.5L658.2,335.5L658.7,335.5L659.2,335.5L659.7,335.5L660.2,335.5L660.7,335.5L661.2,335.5L661.7,335.5L662.2,335.5L662.7,335.5L663.2,335.5L663.7,335.5L664.2,335.5L664.7,335.5L665.2,335.5L665.7,335.5L666.2,335.5L666.7,335.5L667.2,335.5L667.7,335.5L668.2,335.5L668.7,335.5L669.2,335.5L669.7,335.5L670.2,335.5M535.7,361.6L536.2,361.28L536.7,361.12L537.2,361.01L537.7,360.52L538.2,360.32L538.7,361.5L539.2,362.05L539.7,360.92L540.2,361.39L540.7,358.4L541.2,357.02L541.7,357.54L542.2,358.7L542.7,359.8L543.2,359.42L543.7,360.11L544.2,359.2L544.7,356.58L545.2,355.14L545.7,357.05L546.2,356.07L546.7,358.54L547.2,358.5L547.7,356.44L548.2,357.39L548.7,356.94L549.2,355.68L549.7,355.07L550.2,357.4L550.7,356.4L551.2,355.04L551.7,356.9L552.2,352.48L552.7,355.36L553.2,354.05L553.7,352.68L554.2,351.48L554.7,353.53L555.2,354.75L555.7,351.06L556.2,354.45L556.7,354.67L557.2,351.65L557.7,351.89L558.2,351.61L558.7,351.23L559.2,350.78L559.7,350.76L560.2,351.37L560.7,351.05L561.2,350.98L561.7,350.24L562.2,350.05L562.7,349.32L563.2,349.57L563.7,349.55L564.2,349.85L564.7,348.54L565.2,349.05L565.7,348.12L566.2,349.04L566.7,347.91L567.2,348.31L567.7,348.04L568.2,347.33L568.7,347.44L569.2,347.19L569.7,346.7L570.2,346.8L570.7,346.28L571.2,346.93L571.7,347.13L572.2,346.49L572.7,346.2L573.2,346.22L573.7,345.65L574.2,346.24L574.7,346.07L575.2,345.24L575.7,345.45L576.2,345.02L576.7,345.6L577.2,344.65L577.7,345.56L578.2,344.47L578.7,345.28L579.2,344.38L579.7,344.67L580.2,344.77L580.7,344.92L581.2,344.72L581.7,343.73L582.2,344.29L582.7,343.83L583.2,343.39L583.7,343.62L584.2,344.07L584.7,342.85L585.2,343.54L585.7,343.23L586.2,343.51L586.7,342.9L587.2,342.51L587.7,343.1L588.2,342.09L588.7,342.66L589.2,342.07L589.7,341.65L590.2,341.67L590.7,342.36L591.2,341.41L591.7,342.2L592.2,341.15L592.7,341.96L593.2,340.79L593.7,341.39L594.2,341.12L594.7,341.07L595.2,341.35L595.7,340.4L596.2,341.2L596.7,340.58L597.2,340.75L597.7,339.97L598.2,340.75L598.7,340.3L599.2,339.88L599.7,339.46L600.2,339.69L600.7,339.57L601.2,339.46L601.7,339.34L602.2,339.23L602.7,339.11L603.2,339L603.7,338.94L604.2,338.91L604.7,338.89L605.2,338.87L605.7,338.85L606.2,338.82L606.7,338.8L607.2,338.78L607.7,338.76L608.2,338.73L608.7,338.71L609.2,338.69L609.7,338.67L610.2,338.64L610.7,338.62L611.2,338.6L611.7,338.58L612.2,338.55L612.7,338.53L613.2,338.51L613.7,338.5L614.2,338.5L614.7,338.5L615.2,338.5L615.7,338.5L616.2,338.5L616.7,338.5L617.2,338.5L617.7,338.5L618.2,338.5L618.7,338.5L619.2,338.5L619.7,338.5L620.2,338.5L620.7,338.5L621.2,338.5L621.7,338.5L622.2,338.5L622.7,338.5L623.2,338.5L623.7,338.5L624.2,338.5L624.7,338.5L625.2,338.5L625.7,338.5L626.2,338.5L626.7,338.5L627.2,338.5L627.7,338.5L628.2,338.5L628.7,338.5L629.2,338.5L629.7,338.5L630.2,338.5L630.7,338.5L631.2,338.5L631.7,338.5L632.2,338.5L632.7,338.5L633.2,338.5L633.7,338.5L634.2,338.5L634.7,338.5L635.2,338.5L635.7,338.5L636.2,338.5L636.7,338.5L637.2,338.5L637.7,338.5L638.2,338.5L638.7,338.5L639.2,338.5L639.7,338.5L640.2,338.5L640.7,338.5L641.2,338.5L641.7,338.5L642.2,338.5L642.7,338.5L643.2,338.5L643.7,338.5L644.2,338.5L644.7,338.5L645.2,338.5L645.7,338.5L646.2,338.5L646.7,338.5L647.2,338.5L647.7,338.5L648.2,338.5L648.7,338.5L649.2,338.5L649.7,338.5L650.2,338.5L650.7,338.5L651.2,338.5L651.7,338.5L652.2,338.5L652.7,338.5L653.2,338.5L653.7,338.5L654.2,338.5L654.7,338.5L655.2,338.5L655.7,338.5L656.2,338.5L656.7,338.5L657.2,338.5L657.7,338.5L658.2,338.5L658.7,338.5L659.2,338.5L659.7,338.5L660.2,338.5L660.7,338.5L661.2,338.5L661.7,338.5L662.2,338.5L662.7,338.5L663.2,338.5L663.7,338.5L664.2,338.5L664.7,338.5L665.2,338.5L665.7,338.5L666.2,338.5L666.7,338.5L667.2,338.5L667.7,338.5L668.2,338.5L668.7,338.5L669.2,338.5L669.7,338.5L670.2,338.5M535.7,361.6L536.2,361.2L536.7,361.76L537.2,360.4L537.7,361.49L538.2,360.83L538.7,361.68L539.2,361.14L539.7,358.08L540.2,361.11L540.7,360.63L541.2,357.06L541.7,361.36L542.2,357.91L542.7,358.56L543.2,358.66L543.7,358.61L544.2,358.48L544.7,355.75L545.2,359.49L545.7,357.63L546.2,355.3L546.7,357.12L547.2,355.35L547.7,356.36L548.2,357.59L548.7,357.56L549.2,354.39L549.7,354.82L550.2,358.02L550.7,356.12L551.2,353.7L551.7,355.61L552.2,353.6L552.7,352.53L553.2,355.24L553.7,352.31L554.2,352.25L554.7,354.73L555.2,355.97L555.7,351.27L556.2,354.47L556.7,351.24L557.2,352.29L557.7,352.04L558.2,351.85L558.7,352.5L559.2,352.51L559.7,351.24L560.2,351.21L560.7,350.88L561.2,351.11L561.7,350.81L562.2,350.46L562.7,351.01L563.2,349.95L563.7,350.39L564.2,349.6L564.7,350.02L565.2,349.19L565.7,349.07L566.2,349.82L566.7,348.75L567.2,348.78L567.7,348.83L568.2,349.04L568.7,348.3L569.2,347.58L569.7,348.04L570.2,347.89L570.7,347.65L571.2,347.28L571.7,347.68L572.2,346.65L572.7,347.11L573.2,346.98L573.7,347.3L574.2,347.01L574.7,346.24L575.2,346.29L575.7,346.42L576.2,346.04L576.7,345.54L577.2,346.53L577.7,345.76L578.2,345.26L578.7,345.15L579.2,344.86L579.7,345.81L580.2,344.76L580.7,345.15L581.2,345.48L581.7,345.15L582.2,344.81L582.7,344.32L583.2,344.66L583.7,344.7L584.2,343.86L584.7,343.77L585.2,343.87L585.7,343.97L586.2,344.21L586.7,343.73L587.2,343.22L587.7,343.65L588.2,342.85L588.7,342.68L589.2,342.44L589.7,343L590.2,342.89L590.7,342.63L591.2,342.62L591.7,342.06L592.2,341.97L592.7,342.31L593.2,341.97L593.7,341.97L594.2,342.35L594.7,341.69L595.2,341.92L595.7,341.01L596.2,341.42L596.7,340.8L597.2,340.88L597.7,340.77L598.2,340.9L598.7,340.53L599.2,341.36L599.7,340.5L600.2,340.65L600.7,340.55L601.2,340.45L601.7,340.35L602.2,340.25L602.7,340.15L603.2,340.05L603.7,340L604.2,339.98L604.7,339.95L605.2,339.93L605.7,339.91L606.2,339.89L606.7,339.86L607.2,339.84L607.7,339.82L608.2,339.79L608.7,339.77L609.2,339.75L609.7,339.72L610.2,339.7L610.7,339.68L611.2,339.66L611.7,339.63L612.2,339.61L612.7,339.59L613.2,339.56L613.7,339.54L614.2,339.52L614.7,339.5L615.2,339.5L615.7,339.5L616.2,339.5L616.7,339.5L617.2,339.5L617.7,339.5L618.2,339.5L618.7,339.5L619.2,339.5L619.7,339.5L620.2,339.5L620.7,339.5L621.2,339.5L621.7,339.5L622.2,339.5L622.7,339.5L623.2,339.5L623.7,339.5L624.2,339.5L624.7,339.5L625.2,339.5L625.7,339.5L626.2,339.5L626.7,339.5L627.2,339.5L627.7,339.5L628.2,339.5L628.7,339.5L629.2,339.5L629.7,339.5L630.2,339.5L630.7,339.5L631.2,339.5L631.7,339.5L632.2,339.5L632.7,339.5L633.2,339.5L633.7,339.5L634.2,339.5L634.7,339.5L635.2,339.5L635.7,339.5L636.2,339.5L636.7,339.5L637.2,339.5L637.7,339.5L638.2,339.5L638.7,339.5L639.2,339.5L639.7,339.5L640.2,339.5L640.7,339.5L641.2,339.5L641.7,339.5L642.2,339.5L642.7,339.5L643.2,339.5L643.7,339.5L644.2,339.5L644.7,339.5L645.2,339.5L645.7,339.5L646.2,339.5L646.7,339.5L647.2,339.5L647.7,339.5L648.2,339.5L648.7,339.5L649.2,339.5L649.7,339.5L650.2,339.5L650.7,339.5L651.2,339.5L651.7,339.5L652.2,339.5L652.7,339.5L653.2,339.5L653.7,339.5L654.2,339.5L654.7,339.5L655.2,339.5L655.7,339.5L656.2,339.5L656.7,339.5L657.2,339.5L657.7,339.5L658.2,339.5L658.7,339.5L659.2,339.5L659.7,339.5L660.2,339.5L660.7,339.5L661.2,339.5L661.7,339.5L662.2,339.5L662.7,339.5L663.2,339.5L663.7,339.5L664.2,339.5L664.7,339.5L665.2,339.5L665.7,339.5L666.2,339.5L666.7,339.5L667.2,339.5L667.7,339.5L668.2,339.5L668.7,339.5L669.2,339.5L669.7,339.5L670.2,339.5M535.7,361.6L536.2,361.53L536.7,361.31L537.2,360.22L537.7,359.72L538.2,359.65L538.7,361.94L539.2,361.81L539.7,359.03L540.2,357.5L540.7,360.23L541.2,357.84L541.7,361.11L542.2,361.04L542.7,360.15L543.2,359.92L543.7,359.73L544.2,359.79L544.7,357.32L545.2,358.83L545.7,355.08L546.2,358.28L546.7,356.83L547.2,359.32L547.7,358.13L548.2,356.26L548.7,357.32L549.2,356.51L549.7,356.47L550.2,353.22L550.7,354.1L551.2,354.06L551.7,356.08L552.2,356.94L552.7,355.3L553.2,355.74L553.7,354.93L554.2,352.27L554.7,352.62L555.2,354.04L555.7,354.7L556.2,352.82L556.7,354L557.2,352.62L557.7,352.4L558.2,352.02L558.7,352.12L559.2,352.12L559.7,351.36L560.2,352.14L560.7,350.84L561.2,351.5L561.7,350.84L562.2,351.35L562.7,350.37L563.2,349.86L563.7,350.46L564.2,349.88L564.7,350.21L565.2,349.83L565.7,349.36L566.2,349.43L566.7,349.25L567.2,348.63L567.7,348.27L568.2,348.62L568.7,348.32L569.2,347.49L569.7,347.43L570.2,347.59L570.7,347.05L571.2,347.45L571.7,347.17L572.2,346.92L572.7,347.34L573.2,347.2L573.7,346.27L574.2,346.78L574.7,347.13L575.2,346.54L575.7,346.87L576.2,345.85L576.7,345.71L577.2,345.71L577.7,345.47L578.2,345.26L578.7,345.25L579.2,345.42L579.7,345.66L580.2,345.49L580.7,344.5L581.2,345.25L581.7,344.97L582.2,344.41L582.7,343.98L583.2,344.88L583.7,343.89L584.2,343.92L584.7,343.86L585.2,344.33L585.7,344.39L586.2,344.23L586.7,344.04L587.2,343.91L587.7,343.34L588.2,342.73L588.7,342.82L589.2,342.59L589.7,342.44L590.2,342.38L590.7,342.59L591.2,342.25L591.7,342.52L592.2,343.18L592.7,342.42L593.2,342.72L593.7,343.12L594.2,342.09L594.7,342.93L595.2,342.69L595.7,342.06L596.2,343.07L596.7,342.94L597.2,342.09L597.7,343.1L598.2,342.62L598.7,342.67L599.2,342.15L599.7,341.94L600.2,342.5L600.7,342.5L601.2,342.5L601.7,342.5L602.2,342.5L602.7,342.5L603.2,342.5L603.7,342.5L604.2,342.5L604.7,342.5L605.2,342.5L605.7,342.5L606.2,342.5L606.7,342.5L607.2,342.5L607.7,342.5L608.2,342.5L608.7,342.5L609.2,342.5L609.7,342.5L610.2,342.5L610.7,342.5L611.2,342.5L611.7,342.5L612.2,342.5L612.7,342.5L613.2,342.5L613.7,342.5L614.2,342.5L614.7,342.5L615.2,342.5L615.7,342.5L616.2,342.5L616.7,342.5L617.2,342.5L617.7,342.5L618.2,342.5L618.7,342.5L619.2,342.5L619.7,342.5L620.2,342.5L620.7,342.5L621.2,342.5L621.7,342.5L622.2,342.5L622.7,342.5L623.2,342.5L623.7,342.5L624.2,342.5L624.7,342.5L625.2,342.5L625.7,342.5L626.2,342.5L626.7,342.5L627.2,342.5L627.7,342.5L628.2,342.5L628.7,342.5L629.2,342.5L629.7,342.5L630.2,342.5L630.7,342.5L631.2,342.5L631.7,342.5L632.2,342.5L632.7,342.5L633.2,342.5L633.7,342.5L634.2,342.5L634.7,342.5L635.2,342.5L635.7,342.5L636.2,342.5L636.7,342.5L637.2,342.5L637.7,342.5L638.2,342.5L638.7,342.5L639.2,342.5L639.7,342.5L640.2,342.5L640.7,342.5L641.2,342.5L641.7,342.5L642.2,342.5L642.7,342.5L643.2,342.5L643.7,342.5L644.2,342.5L644.7,342.5L645.2,342.5L645.7,342.5L646.2,342.5L646.7,342.5L647.2,342.5L647.7,342.5L648.2,342.5L648.7,342.5L649.2,342.5L649.7,342.5L650.2,342.5L650.7,342.5L651.2,342.5L651.7,342.5L652.2,342.5L652.7,342.5L653.2,342.5L653.7,342.5L654.2,342.5L654.7,342.5L655.2,342.5L655.7,342.5L656.2,342.5L656.7,342.5L657.2,342.5L657.7,342.5L658.2,342.5L658.7,342.5L659.2,342.5L659.7,342.5L660.2,342.5L660.7,342.5L661.2,342.5L661.7,342.5L662.2,342.5L662.7,342.5L663.2,342.5L663.7,342.5L664.2,342.5L664.7,342.5L665.2,342.5L665.7,342.5L666.2,342.5L666.7,342.5L667.2,342.5L667.7,342.5L668.2,342.5L668.7,342.5L669.2,342.5L669.7,342.5L670.2,342.5M535.7,361.6L536.2,361.3L536.7,360.83L537.2,360.56L537.7,361.97L538.2,360.95L538.7,358.81L539.2,359.03L539.7,360.53L540.2,360.01L540.7,362.21L541.2,361.6L541.7,357.26L542.2,360.75L542.7,361.45L543.2,360.08L543.7,360.94L544.2,357.89L544.7,358.95L545.2,359.05L545.7,359.42L546.2,358.84L546.7,359.17L547.2,356.58L547.7,358.68L548.2,357.51L548.7,359.15L549.2,355.78L549.7,357.07L550.2,358.09L550.7,357.41L551.2,356.91L551.7,353.97L552.2,353.84L552.7,354.46L553.2,355.95L553.7,352.67L554.2,355.62L554.7,352.74L555.2,352.93L555.7,353.16L556.2,354.34L556.7,355L557.2,354.26L557.7,353.19L558.2,352.82L558.7,353.54L559.2,353.02L559.7,353.21L560.2,352.77L560.7,351.87L561.2,351.94L561.7,351.57L562.2,351.64L562.7,351.25L563.2,351.74L563.7,351.58L564.2,350.53L564.7,351.3L565.2,351.05L565.7,350.16L566.2,350.54L566.7,350.43L567.2,349.97L567.7,349.32L568.2,349.44L568.7,349.41L569.2,348.69L569.7,348.65L570.2,348.02L570.7,347.97L571.2,348.61L571.7,347.89L572.2,348.24L572.7,347.78L573.2,347.99L573.7,347.35L574.2,346.98L574.7,347.55L575.2,346.93L575.7,346.74L576.2,346.92L576.7,346.83L577.2,347.17L577.7,346.81L578.2,346.37L578.7,346.25L579.2,346.31L579.7,345.62L580.2,345.69L580.7,345.94L581.2,346.22L581.7,345.7L582.2,345.11L582.7,345.89L583.2,345.57L583.7,344.76L584.2,344.81L584.7,344.29L585.2,345.05L585.7,344.27L586.2,344.88L586.7,344.63L587.2,344.58L587.7,344.21L588.2,343.7L588.7,343.33L589.2,343.88L589.7,343.06L590.2,343.6L590.7,343.9L591.2,343.13L591.7,343.49L592.2,343.61L592.7,343.14L593.2,343.19L593.7,343.68L594.2,343.15L594.7,343.12L595.2,343.2L595.7,344.06L596.2,344L596.7,343.06L597.2,343.61L597.7,343.41L598.2,342.95L598.7,343.21L599.2,343.69L599.7,342.92L600.2,343.5L600.7,343.5L601.2,343.5L601.7,343.5L602.2,343.5L602.7,343.5L603.2,343.5L603.7,343.5L604.2,343.5L604.7,343.5L605.2,343.5L605.7,343.5L606.2,343.5L606.7,343.5L607.2,343.5L607.7,343.5L608.2,343.5L608.7,343.5L609.2,343.5L609.7,343.5L610.2,343.5L610.7,343.5L611.2,343.5L611.7,343.5L612.2,343.5L612.7,343.5L613.2,343.5L613.7,343.5L614.2,343.5L614.7,343.5L615.2,343.5L615.7,343.5L616.2,343.5L616.7,343.5L617.2,343.5L617.7,343.5L618.2,343.5L618.7,343.5L619.2,343.5L619.7,343.5L620.2,343.5L620.7,343.5L621.2,343.5L621.7,343.5L622.2,343.5L622.7,343.5L623.2,343.5L623.7,343.5L624.2,343.5L624.7,343.5L625.2,343.5L625.7,343.5L626.2,343.5L626.7,343.5L627.2,343.5L627.7,343.5L628.2,343.5L628.7,343.5L629.2,343.5L629.7,343.5L630.2,343.5L630.7,343.5L631.2,343.5L631.7,343.5L632.2,343.5L632.7,343.5L633.2,343.5L633.7,343.5L634.2,343.5L634.7,343.5L635.2,343.5L635.7,343.5L636.2,343.5L636.7,343.5L637.2,343.5L637.7,343.5L638.2,343.5L638.7,343.5L639.2,343.5L639.7,343.5L640.2,343.5L640.7,343.5L641.2,343.5L641.7,343.5L642.2,343.5L642.7,343.5L643.2,343.5L643.7,343.5L644.2,343.5L644.7,343.5L645.2,343.5L645.7,343.5L646.2,343.5L646.7,343.5L647.2,343.5L647.7,343.5L648.2,343.5L648.7,343.5L649.2,343.5L649.7,343.5L650.2,343.5L650.7,343.5L651.2,343.5L651.7,343.5L652.2,343.5L652.7,343.5L653.2,343.5L653.7,343.5L654.2,343.5L654.7,343.5L655.2,343.5L655.7,343.5L656.2,343.5L656.7,343.5L657.2,343.5L657.7,343.5L658.2,343.5L658.7,343.5L659.2,343.5L659.7,343.5L660.2,343.5L660.7,343.5L661.2,343.5L661.7,343.5L662.2,343.5L662.7,343.5L663.2,343.5L663.7,343.5L664.2,343.5L664.7,343.5L665.2,343.5L665.7,343.5L666.2,343.5L666.7,343.5L667.2,343.5L667.7,343.5L668.2,343.5L668.7,343.5L669.2,343.5L669.7,343.5L670.2,343.5M535.7,361.6L536.2,361.55L536.7,361L537.2,361.9L537.7,360.73L538.2,360.09L538.7,361.4L539.2,362.11L539.7,359.7L540.2,361.31L540.7,359.14L541.2,362.29L541.7,358.66L542.2,357.18L542.7,356.85L543.2,359.38L543.7,359.63L544.2,357.78L544.7,358.25L545.2,358.07L545.7,357.68L546.2,356.65L546.7,358.26L547.2,358.71L547.7,355.35L548.2,359.46L548.7,356.19L549.2,357.1L549.7,355.65L550.2,357.77L550.7,356.27L551.2,356.99L551.7,355.96L552.2,356.3L552.7,354.03L553.2,358.34L553.7,355.4L554.2,354.76L554.7,357.18L555.2,354.26L555.7,356.58L556.2,354.58L556.7,352.88L557.2,354.71L557.7,354.15L558.2,353.85L558.7,354.6L559.2,354.33L559.7,353.57L560.2,353.77L560.7,353.4L561.2,352.75L561.7,352.34L562.2,352.68L562.7,352.01L563.2,352.48L563.7,352.08L564.2,351.43L564.7,351.9L565.2,351.92L565.7,351.13L566.2,351.52L566.7,350.69L567.2,349.97L567.7,350.3L568.2,349.96L568.7,350.44L569.2,349.76L569.7,350.08L570.2,348.95L570.7,349.08L571.2,348.5L571.7,348.42L572.2,349.08L572.7,348.13L573.2,348.22L573.7,348.35L574.2,348.8L574.7,347.84L575.2,347.43L575.7,348.14L576.2,348L576.7,347.19L577.2,348.01L577.7,347.8L578.2,347.75L578.7,347.49L579.2,347.02L579.7,347.07L580.2,346.25L580.7,346.76L581.2,346.29L581.7,346.14L582.2,345.99L582.7,345.59L583.2,346.35L583.7,346.17L584.2,345.14L584.7,345.63L585.2,344.92L585.7,345.42L586.2,344.85L586.7,345.68L587.2,344.78L587.7,344.91L588.2,344.47L588.7,345.12L589.2,343.92L589.7,344.16L590.2,343.99L590.7,344.63L591.2,344.19L591.7,344.78L592.2,344.15L592.7,343.92L593.2,344.32L593.7,343.89L594.2,343.97L594.7,344.43L595.2,344.5L595.7,344.07L596.2,344.04L596.7,344.46L597.2,344.38L597.7,344.43L598.2,344.66L598.7,344.04L599.2,343.89L599.7,343.96L600.2,344.49L600.7,344.5L601.2,344.5L601.7,344.5L602.2,344.5L602.7,344.5L603.2,344.5L603.7,344.5L604.2,344.5L604.7,344.5L605.2,344.5L605.7,344.5L606.2,344.5L606.7,344.5L607.2,344.5L607.7,344.5L608.2,344.5L608.7,344.5L609.2,344.5L609.7,344.5L610.2,344.5L610.7,344.5L611.2,344.5L611.7,344.5L612.2,344.5L612.7,344.5L613.2,344.5L613.7,344.5L614.2,344.5L614.7,344.5L615.2,344.5L615.7,344.5L616.2,344.5L616.7,344.5L617.2,344.5L617.7,344.5L618.2,344.5L618.7,344.5L619.2,344.5L619.7,344.5L620.2,344.5L620.7,344.5L621.2,344.5L621.7,344.5L622.2,344.5L622.7,344.5L623.2,344.5L623.7,344.5L624.2,344.5L624.7,344.5L625.2,344.5L625.7,344.5L626.2,344.5L626.7,344.5L627.2,344.5L627.7,344.5L628.2,344.5L628.7,344.5L629.2,344.5L629.7,344.5L630.2,344.5L630.7,344.5L631.2,344.5L631.7,344.5L632.2,344.5L632.7,344.5L633.2,344.5L633.7,344.5L634.2,344.5L634.7,344.5L635.2,344.5L635.7,344.5L636.2,344.5L636.7,344.5L637.2,344.5L637.7,344.5L638.2,344.5L638.7,344.5L639.2,344.5L639.7,344.5L640.2,344.5L640.7,344.5L641.2,344.5L641.7,344.5L642.2,344.5L642.7,344.5L643.2,344.5L643.7,344.5L644.2,344.5L644.7,344.5L645.2,344.5L645.7,344.5L646.2,344.5L646.7,344.5L647.2,344.5L647.7,344.5L648.2,344.5L648.7,344.5L649.2,344.5L649.7,344.5L650.2,344.5L650.7,344.5L651.2,344.5L651.7,344.5L652.2,344.5L652.7,344.5L653.2,344.5L653.7,344.5L654.2,344.5L654.7,344.5L655.2,344.5L655.7,344.5L656.2,344.5L656.7,344.5L657.2,344.5L657.7,344.5L658.2,344.5L658.7,344.5L659.2,344.5L659.7,344.5L660.2,344.5L660.7,344.5L661.2,344.5L661.7,344.5L662.2,344.5L662.7,344.5L663.2,344.5L663.7,344.5L664.2,344.5L664.7,344.5L665.2,344.5L665.7,344.5L666.2,344.5L666.7,344.5L667.2,344.5L667.7,344.5L668.2,344.5L668.7,344.5L669.2,344.5L669.7,344.5L670.2,344.5M535.7,361.6L536.2,361.39L536.7,361.76L537.2,360.83L537.7,360.29L538.2,360.15L538.7,359.88L539.2,361.89L539.7,361.35L540.2,359.06L540.7,359.79L541.2,362.02L541.7,362.21L542.2,358.38L542.7,361.85L543.2,357.28L543.7,361.84L544.2,358.31L544.7,361.34L545.2,356.58L545.7,359.72L546.2,360.76L546.7,360.1L547.2,358.72L547.7,356.5L548.2,356.76L548.7,360.15L549.2,359.63L549.7,356.26L550.2,356.73L550.7,357.94L551.2,356.25L551.7,355.66L552.2,358.8L552.7,354.87L553.2,357.33L553.7,356.06L554.2,356.24L554.7,358.11L555.2,357.34L555.7,357.34L556.2,353.41L556.7,357.24L557.2,355.87L557.7,354.71L558.2,354.78L558.7,355.18L559.2,355.14L559.7,354.54L560.2,354.75L560.7,353.58L561.2,353.58L561.7,354.05L562.2,353.81L562.7,352.92L563.2,353.13L563.7,352.77L564.2,352.92L564.7,352.31L565.2,352.01L565.7,352.33L566.2,352.05L566.7,351.44L567.2,351.66L567.7,350.91L568.2,350.99L568.7,350.41L569.2,350.39L569.7,350.27L570.2,349.7L570.7,349.83L571.2,349.74L571.7,349.58L572.2,349.66L572.7,349.99L573.2,349.8L573.7,348.99L574.2,348.67L574.7,348.47L575.2,349.29L575.7,349.01L576.2,348.84L576.7,348.91L577.2,348.17L577.7,347.76L578.2,347.52L578.7,347.76L579.2,348.06L579.7,347.11L580.2,347.4L580.7,346.85L581.2,346.88L581.7,347.17L582.2,347.16L582.7,347.39L583.2,346.52L583.7,346.29L584.2,345.96L584.7,345.99L585.2,345.69L585.7,345.52L586.2,345.54L586.7,345.92L587.2,345.7L587.7,346.12L588.2,345.49L588.7,344.89L589.2,344.84L589.7,345.38L590.2,345.63L590.7,345.33L591.2,344.69L591.7,344.8L592.2,344.88L592.7,344.85L593.2,344.65L593.7,344.47L594.2,344.29L594.7,345.29L595.2,345.38L595.7,345.36L596.2,344.61L596.7,344.96L597.2,344.36L597.7,344.22L598.2,344.06L598.7,344.43L599.2,344.97L599.7,344.62L600.2,344.56L600.7,344.53L601.2,344.51L601.7,344.5L602.2,344.5L602.7,344.5L603.2,344.5L603.7,344.5L604.2,344.5L604.7,344.5L605.2,344.5L605.7,344.5L606.2,344.5L606.7,344.5L607.2,344.5L607.7,344.5L608.2,344.5L608.7,344.5L609.2,344.5L609.7,344.5L610.2,344.5L610.7,344.5L611.2,344.5L611.7,344.5L612.2,344.5L612.7,344.5L613.2,344.5L613.7,344.5L614.2,344.5L614.7,344.5L615.2,344.5L615.7,344.5L616.2,344.5L616.7,344.5L617.2,344.5L617.7,344.5L618.2,344.5L618.7,344.5L619.2,344.5L619.7,344.5L620.2,344.5L620.7,344.5L621.2,344.5L621.7,344.5L622.2,344.5L622.7,344.5L623.2,344.5L623.7,344.5L624.2,344.5L624.7,344.5L625.2,344.5L625.7,344.5L626.2,344.5L626.7,344.5L627.2,344.5L627.7,344.5L628.2,344.5L628.7,344.5L629.2,344.5L629.7,344.5L630.2,344.5L630.7,344.5L631.2,344.5L631.7,344.5L632.2,344.5L632.7,344.5L633.2,344.5L633.7,344.5L634.2,344.5L634.7,344.5L635.2,344.5L635.7,344.5L636.2,344.5L636.7,344.5L637.2,344.5L637.7,344.5L638.2,344.5L638.7,344.5L639.2,344.5L639.7,344.5L640.2,344.5L640.7,344.5L641.2,344.5L641.7,344.5L642.2,344.5L642.7,344.5L643.2,344.5L643.7,344.5L644.2,344.5L644.7,344.5L645.2,344.5L645.7,344.5L646.2,344.5L646.7,344.5L647.2,344.5L647.7,344.5L648.2,344.5L648.7,344.5L649.2,344.5L649.7,344.5L650.2,344.5L650.7,344.5L651.2,344.5L651.7,344.5L652.2,344.5L652.7,344.5L653.2,344.5L653.7,344.5L654.2,344.5L654.7,344.5L655.2,344.5L655.7,344.5L656.2,344.5L656.7,344.5L657.2,344.5L657.7,344.5L658.2,344.5L658.7,344.5L659.2,344.5L659.7,344.5L660.2,344.5L660.7,344.5L661.2,344.5L661.7,344.5L662.2,344.5L662.7,344.5L663.2,344.5L663.7,344.5L664.2,344.5L664.7,344.5L665.2,344.5L665.7,344.5L666.2,344.5L666.7,344.5L667.2,344.5L667.7,344.5L668.2,344.5L668.7,344.5L669.2,344.5L669.7,344.5L670.2,344.5M535.7,361.6L536.2,361.72L536.7,361.16L537.2,360.85L537.7,360.92L538.2,362.34L538.7,360.77L539.2,360.19L539.7,358.41L540.2,359.95L540.7,362.53L541.2,359.88L541.7,361.64L542.2,362.03L542.7,362.11L543.2,360.97L543.7,359.67L544.2,358.56L544.7,361.65L545.2,360.85L545.7,360.42L546.2,356.87L546.7,359.71L547.2,359.8L547.7,356.9L548.2,357.74L548.7,358.26L549.2,357.14L549.7,356.28L550.2,356.39L550.7,357.8L551.2,355.46L551.7,359.24L552.2,357.23L552.7,356.42L553.2,356.17L553.7,356.37L554.2,357.66L554.7,358.13L555.2,356.58L555.7,357.89L556.2,357.06L556.7,358.13L557.2,356.69L557.7,356.53L558.2,355.43L558.7,355.61L559.2,355.12L559.7,355.77L560.2,354.77L560.7,355.47L561.2,354.56L561.7,354.13L562.2,354.57L562.7,353.75L563.2,353.76L563.7,353.64L564.2,353.66L564.7,353.32L565.2,353.28L565.7,353.23L566.2,353.23L566.7,352.61L567.2,352.17L567.7,352.04L568.2,351.66L568.7,352.03L569.2,351.48L569.7,351.45L570.2,351.42L570.7,351.13L571.2,351.22L571.7,350.56L572.2,350.71L572.7,350.8L573.2,350.18L573.7,350.44L574.2,349.65L574.7,349.37L575.2,350.06L575.7,349.56L576.2,349.91L576.7,349.33L577.2,348.79L577.7,348.48L578.2,349.27L578.7,348.36L579.2,348.11L579.7,348.41L580.2,348.5L580.7,348.21L581.2,347.45L581.7,348.21L582.2,347.96L582.7,347.41L583.2,348L583.7,347.37L584.2,347.57L584.7,346.63L585.2,346.77L585.7,347.18L586.2,346.97L586.7,346.87L587.2,346.74L587.7,345.81L588.2,346.68L588.7,345.58L589.2,345.7L589.7,345.65L590.2,345.81L590.7,345.31L591.2,345.69L591.7,345.34L592.2,345.56L592.7,345.56L593.2,345.27L593.7,346.08L594.2,345.14L594.7,345.33L595.2,346.15L595.7,345.55L596.2,346.19L596.7,345.41L597.2,345.65L597.7,345.65L598.2,345.49L598.7,346.18L599.2,345.46L599.7,345.92L600.2,345.55L600.7,345.54L601.2,345.53L601.7,345.51L602.2,345.5L602.7,345.5L603.2,345.5L603.7,345.5L604.2,345.5L604.7,345.5L605.2,345.5L605.7,345.5L606.2,345.5L606.7,345.5L607.2,345.5L607.7,345.5L608.2,345.5L608.7,345.5L609.2,345.5L609.7,345.5L610.2,345.5L610.7,345.5L611.2,345.5L611.7,345.5L612.2,345.5L612.7,345.5L613.2,345.5L613.7,345.5L614.2,345.5L614.7,345.5L615.2,345.5L615.7,345.5L616.2,345.5L616.7,345.5L617.2,345.5L617.7,345.5L618.2,345.5L618.7,345.5L619.2,345.5L619.7,345.5L620.2,345.5L620.7,345.5L621.2,345.5L621.7,345.5L622.2,345.5L622.7,345.5L623.2,345.5L623.7,345.5L624.2,345.5L624.7,345.5L625.2,345.5L625.7,345.5L626.2,345.5L626.7,345.5L627.2,345.5L627.7,345.5L628.2,345.5L628.7,345.5L629.2,345.5L629.7,345.5L630.2,345.5L630.7,345.5L631.2,345.5L631.7,345.5L632.2,345.5L632.7,345.5L633.2,345.5L633.7,345.5L634.2,345.5L634.7,345.5L635.2,345.5L635.7,345.5L636.2,345.5L636.7,345.5L637.2,345.5L637.7,345.5L638.2,345.5L638.7,345.5L639.2,345.5L639.7,345.5L640.2,345.5L640.7,345.5L641.2,345.5L641.7,345.5L642.2,345.5L642.7,345.5L643.2,345.5L643.7,345.5L644.2,345.5L644.7,345.5L645.2,345.5L645.7,345.5L646.2,345.5L646.7,345.5L647.2,345.5L647.7,345.5L648.2,345.5L648.7,345.5L649.2,345.5L649.7,345.5L650.2,345.5L650.7,345.5L651.2,345.5L651.7,345.5L652.2,345.5L652.7,345.5L653.2,345.5L653.7,345.5L654.2,345.5L654.7,345.5L655.2,345.5L655.7,345.5L656.2,345.5L656.7,345.5L657.2,345.5L657.7,345.5L658.2,345.5L658.7,345.5L659.2,345.5L659.7,345.5L660.2,345.5L660.7,345.5L661.2,345.5L661.7,345.5L662.2,345.5L662.7,345.5L663.2,345.5L663.7,345.5L664.2,345.5L664.7,345.5L665.2,345.5L665.7,345.5L666.2,345.5L666.7,345.5L667.2,345.5L667.7,345.5L668.2,345.5L668.7,345.5L669.2,345.5L669.7,345.5L670.2,345.5M535.7,361.6L536.2,361.61L536.7,362.29L537.2,362.37L537.7,360.9L538.2,362.33L538.7,361.03L539.2,361.11L539.7,361.49L540.2,361.16L540.7,361.49L541.2,361.23L541.7,361.92L542.2,363.24L542.7,363.19L543.2,364.12L543.7,361.96L544.2,360.79L544.7,363.61L545.2,362.4L545.7,361.98L546.2,363.07L546.7,365.85L547.2,364.2L547.7,364.88L548.2,361.61L548.7,364.2L549.2,365.07L549.7,365.99L550.2,365.56L550.7,362.1L551.2,366.88L551.7,362.11L552.2,365.97L552.7,364.57L553.2,366.95L553.7,367.13L554.2,366.22L554.7,362.99L555.2,365.9L555.7,363.35L556.2,364.98L556.7,363.59L557.2,365.21L557.7,364.79L558.2,365.25L558.7,364.59L559.2,364.65L559.7,365.17L560.2,364.46L560.7,364.68L561.2,364.9L561.7,364.51L562.2,364.6L562.7,364.62L563.2,363.67L563.7,363.47L564.2,364.32L564.7,364.11L565.2,363.27L565.7,363.87L566.2,362.74L566.7,362.78L567.2,363.43L567.7,362.39L568.2,363.18L568.7,362.29L569.2,362.82L569.7,361.93L570.2,362.23L570.7,362.12L571.2,361.91L571.7,362.09L572.2,360.91L572.7,361.52L573.2,361.51L573.7,360.92L574.2,360.39L574.7,360.87L575.2,360.24L575.7,359.85L576.2,360.27L576.7,360.07L577.2,359.95L577.7,359.37L578.2,358.6L578.7,358.42L579.2,358.87L579.7,358.06L580.2,358.58L580.7,357.84L581.2,358.45L581.7,357.38L582.2,358.02L582.7,357.3L583.2,358.08L583.7,357.29L584.2,357.18L584.7,357.42L585.2,356.58L585.7,357.24L586.2,356.27L586.7,355.8L587.2,355.93L587.7,355.88L588.2,355.99L588.7,355.2L589.2,356.04L589.7,355.73L590.2,355.53L590.7,355.68L591.2,354.4L591.7,355.01L592.2,355.07L592.7,354.1L593.2,354.23L593.7,353.83L594.2,354.55L594.7,353.86L595.2,354.14L595.7,353.29L596.2,353.56L596.7,353.59L597.2,352.95L597.7,352.71L598.2,352.34L598.7,352.84L599.2,352.43L599.7,352.03L600.2,352.27L600.7,352.19L601.2,352.11L601.7,352.03L602.2,351.95L602.7,351.87L603.2,351.79L603.7,351.71L604.2,351.63L604.7,351.55L605.2,351.5L605.7,351.5L606.2,351.5L606.7,351.5L607.2,351.5L607.7,351.5L608.2,351.5L608.7,351.5L609.2,351.5L609.7,351.5L610.2,351.5L610.7,351.5L611.2,351.5L611.7,351.5L612.2,351.5L612.7,351.5L613.2,351.5L613.7,351.5L614.2,351.5L614.7,351.5L615.2,351.5L615.7,351.5L616.2,351.5L616.7,351.5L617.2,351.5L617.7,351.5L618.2,351.5L618.7,351.5L619.2,351.5L619.7,351.5L620.2,351.5L620.7,351.5L621.2,351.5L621.7,351.5L622.2,351.5L622.7,351.5L623.2,351.5L623.7,351.5L624.2,351.5L624.7,351.5L625.2,351.5L625.7,351.5L626.2,351.5L626.7,351.5L627.2,351.5L627.7,351.5L628.2,351.5L628.7,351.5L629.2,351.5L629.7,351.5L630.2,351.5L630.7,351.5L631.2,351.5L631.7,351.5L632.2,351.5L632.7,351.5L633.2,351.5L633.7,351.5L634.2,351.5L634.7,351.5L635.2,351.5L635.7,351.5L636.2,351.5L636.7,351.5L637.2,351.5L637.7,351.5L638.2,351.5L638.7,351.5L639.2,351.5L639.7,351.5L640.2,351.5L640.7,351.5L641.2,351.5L641.7,351.5L642.2,351.5L642.7,351.5L643.2,351.5L643.7,351.5L644.2,351.5L644.7,351.5L645.2,351.5L645.7,351.5L646.2,351.5L646.7,351.5L647.2,351.5L647.7,351.5L648.2,351.5L648.7,351.5L649.2,351.5L649.7,351.5L650.2,351.5L650.7,351.5L651.2,351.5L651.7,351.5L652.2,351.5L652.7,351.5L653.2,351.5L653.7,351.5L654.2,351.5L654.7,351.5L655.2,351.5L655.7,351.5L656.2,351.5L656.7,351.5L657.2,351.5L657.7,351.5L658.2,351.5L658.7,351.5L659.2,351.5L659.7,351.5L660.2,351.5L660.7,351.5L661.2,351.5L661.7,351.5L662.2,351.5L662.7,351.5L663.2,351.5L663.7,351.5L664.2,351.5L664.7,351.5L665.2,351.5L665.7,351.5L666.2,351.5L666.7,351.5L667.2,351.5L667.7,351.5L668.2,351.5L668.7,351.5L669.2,351.5L669.7,351.5L670.2,351.5M535.7,361.6L536.2,361.64L536.7,362.33L537.2,362.58L537.7,362.17L538.2,361.63L538.7,361.15L539.2,363.12L539.7,360.38L540.2,363.3L540.7,361.3L541.2,361.2L541.7,363.45L542.2,362.43L542.7,360.86L543.2,361.43L543.7,364.74L544.2,362.84L544.7,364.9L545.2,364.2L545.7,361.23L546.2,363.03L546.7,364.42L547.2,362.75L547.7,362.3L548.2,366.74L548.7,363.47L549.2,365.25L549.7,364.26L550.2,367.11L550.7,363.4L551.2,362.53L551.7,365.73L552.2,366.05L552.7,366.87L553.2,363.35L553.7,363.78L554.2,365.38L554.7,364.51L555.2,363.87L555.7,364.03L556.2,363.65L556.7,365.68L557.2,365.61L557.7,365.36L558.2,365.32L558.7,365.93L559.2,365.73L559.7,365.25L560.2,365.68L560.7,364.64L561.2,364.97L561.7,365.46L562.2,364.28L562.7,364.28L563.2,364.55L563.7,364.27L564.2,363.81L564.7,364.61L565.2,364.43L565.7,364.06L566.2,363.74L566.7,363.78L567.2,363.59L567.7,363.55L568.2,363.13L568.7,363.6L569.2,363.12L569.7,362.66L570.2,362.92L570.7,362.96L571.2,362.43L571.7,362.03L572.2,362.09L572.7,362.08L573.2,361.27L573.7,361.92L574.2,361.15L574.7,360.97L575.2,360.9L575.7,360.99L576.2,360.09L576.7,359.91L577.2,360.08L577.7,359.32L578.2,359.62L578.7,359.06L579.2,358.95L579.7,358.96L580.2,359.41L580.7,358.91L581.2,358.35L581.7,358.62L582.2,358.31L582.7,357.54L583.2,357.9L583.7,358.06L584.2,358.02L584.7,358.05L585.2,356.76L585.7,357.19L586.2,356.87L586.7,356.79L587.2,357.08L587.7,356.46L588.2,356.43L588.7,356.53L589.2,356.5L589.7,356L590.2,355.77L590.7,355.1L591.2,355.28L591.7,354.9L592.2,355.44L592.7,355.17L593.2,354.37L593.7,354.75L594.2,354.95L594.7,354.76L595.2,354.04L595.7,353.87L596.2,353.91L596.7,353.62L597.2,354.14L597.7,353.84L598.2,353.73L598.7,353.7L599.2,352.47L599.7,353.33L600.2,352.69L600.7,352.67L601.2,352.65L601.7,352.63L602.2,352.61L602.7,352.59L603.2,352.57L603.7,352.55L604.2,352.53L604.7,352.51L605.2,352.5L605.7,352.5L606.2,352.5L606.7,352.5L607.2,352.5L607.7,352.5L608.2,352.5L608.7,352.5L609.2,352.5L609.7,352.5L610.2,352.5L610.7,352.5L611.2,352.5L611.7,352.5L612.2,352.5L612.7,352.5L613.2,352.5L613.7,352.5L614.2,352.5L614.7,352.5L615.2,352.5L615.7,352.5L616.2,352.5L616.7,352.5L617.2,352.5L617.7,352.5L618.2,352.5L618.7,352.5L619.2,352.5L619.7,352.5L620.2,352.5L620.7,352.5L621.2,352.5L621.7,352.5L622.2,352.5L622.7,352.5L623.2,352.5L623.7,352.5L624.2,352.5L624.7,352.5L625.2,352.5L625.7,352.5L626.2,352.5L626.7,352.5L627.2,352.5L627.7,352.5L628.2,352.5L628.7,352.5L629.2,352.5L629.7,352.5L630.2,352.5L630.7,352.5L631.2,352.5L631.7,352.5L632.2,352.5L632.7,352.5L633.2,352.5L633.7,352.5L634.2,352.5L634.7,352.5L635.2,352.5L635.7,352.5L636.2,352.5L636.7,352.5L637.2,352.5L637.7,352.5L638.2,352.5L638.7,352.5L639.2,352.5L639.7,352.5L640.2,352.5L640.7,352.5L641.2,352.5L641.7,352.5L642.2,352.5L642.7,352.5L643.2,352.5L643.7,352.5L644.2,352.5L644.7,352.5L645.2,352.5L645.7,352.5L646.2,352.5L646.7,352.5L647.2,352.5L647.7,352.5L648.2,352.5L648.7,352.5L649.2,352.5L649.7,352.5L650.2,352.5L650.7,352.5L651.2,352.5L651.7,352.5L652.2,352.5L652.7,352.5L653.2,352.5L653.7,352.5L654.2,352.5L654.7,352.5L655.2,352.5L655.7,352.5L656.2,352.5L656.7,352.5L657.2,352.5L657.7,352.5L658.2,352.5L658.7,352.5L659.2,352.5L659.7,352.5L660.2,352.5L660.7,352.5L661.2,352.5L661.7,352.5L662.2,352.5L662.7,352.5L663.2,352.5L663.7,352.5L664.2,352.5L664.7,352.5L665.2,352.5L665.7,352.5L666.2,352.5L666.7,352.5L667.2,352.5L667.7,352.5L668.2,352.5L668.7,352.5L669.2,352.5L669.7,352.5L670.2,352.5M535.7,361.6L536.2,361.98L536.7,361.65L537.2,362.1L537.7,361.88L538.2,362.67L538.7,362.52L539.2,362.57L539.7,360.71L540.2,360.31L540.7,363.55L541.2,360.43L541.7,363.13L542.2,362.05L542.7,364.48L543.2,362.52L543.7,361.26L544.2,361.93L544.7,362.91L545.2,364.6L545.7,365.02L546.2,365.77L546.7,366.51L547.2,364.64L547.7,362.21L548.2,365.42L548.7,363.98L549.2,365.36L549.7,363.33L550.2,364.56L550.7,363.91L551.2,366.2L551.7,367.67L552.2,364.89L552.7,365.69L553.2,366.47L553.7,367.23L554.2,365.32L554.7,364.99L555.2,367.04L555.7,365.44L556.2,366.49L556.7,367.27L557.2,366.72L557.7,367.1L558.2,366.22L558.7,365.94L559.2,366.05L559.7,366.51L560.2,366.34L560.7,365.26L561.2,365.27L561.7,365.23L562.2,365.76L562.7,365.53L563.2,364.77L563.7,365.4L564.2,365.37L564.7,365.18L565.2,364.5L565.7,364.94L566.2,364.15L566.7,364.83L567.2,363.76L567.7,363.94L568.2,363.71L568.7,364.2L569.2,364.01L569.7,363.61L570.2,363.46L570.7,362.97L571.2,363.12L571.7,362.28L572.2,362.89L572.7,362.97L573.2,362.17L573.7,361.98L574.2,361.92L574.7,361.48L575.2,361.93L575.7,360.88L576.2,361.01L576.7,361.05L577.2,360.92L577.7,360.19L578.2,359.77L578.7,360.25L579.2,359.37L579.7,360.01L580.2,358.86L580.7,359.73L581.2,359.49L581.7,358.96L582.2,359.26L582.7,358.97L583.2,358.68L583.7,358.03L584.2,357.66L584.7,357.54L585.2,357.35L585.7,357.89L586.2,357.76L586.7,357.89L587.2,357.06L587.7,356.87L588.2,357.31L588.7,357.07L589.2,357.13L589.7,355.81L590.2,356.78L590.7,355.97L591.2,356.27L591.7,355.41L592.2,355.65L592.7,355.74L593.2,355.54L593.7,355.35L594.2,354.46L594.7,355.29L595.2,354.1L595.7,354.86L596.2,354.39L596.7,354.3L597.2,353.66L597.7,354.18L598.2,353.99L598.7,353.21L599.2,353.87L599.7,353.09L600.2,353.12L600.7,353.16L601.2,353.2L601.7,353.24L602.2,353.28L602.7,353.32L603.2,353.36L603.7,353.4L604.2,353.44L604.7,353.48L605.2,353.5L605.7,353.5L606.2,353.5L606.7,353.5L607.2,353.5L607.7,353.5L608.2,353.5L608.7,353.5L609.2,353.5L609.7,353.5L610.2,353.5L610.7,353.5L611.2,353.5L611.7,353.5L612.2,353.5L612.7,353.5L613.2,353.5L613.7,353.5L614.2,353.5L614.7,353.5L615.2,353.5L615.7,353.5L616.2,353.5L616.7,353.5L617.2,353.5L617.7,353.5L618.2,353.5L618.7,353.5L619.2,353.5L619.7,353.5L620.2,353.5L620.7,353.5L621.2,353.5L621.7,353.5L622.2,353.5L622.7,353.5L623.2,353.5L623.7,353.5L624.2,353.5L624.7,353.5L625.2,353.5L625.7,353.5L626.2,353.5L626.7,353.5L627.2,353.5L627.7,353.5L628.2,353.5L628.7,353.5L629.2,353.5L629.7,353.5L630.2,353.5L630.7,353.5L631.2,353.5L631.7,353.5L632.2,353.5L632.7,353.5L633.2,353.5L633.7,353.5L634.2,353.5L634.7,353.5L635.2,353.5L635.7,353.5L636.2,353.5L636.7,353.5L637.2,353.5L637.7,353.5L638.2,353.5L638.7,353.5L639.2,353.5L639.7,353.5L640.2,353.5L640.7,353.5L641.2,353.5L641.7,353.5L642.2,353.5L642.7,353.5L643.2,353.5L643.7,353.5L644.2,353.5L644.7,353.5L645.2,353.5L645.7,353.5L646.2,353.5L646.7,353.5L647.2,353.5L647.7,353.5L648.2,353.5L648.7,353.5L649.2,353.5L649.7,353.5L650.2,353.5L650.7,353.5L651.2,353.5L651.7,353.5L652.2,353.5L652.7,353.5L653.2,353.5L653.7,353.5L654.2,353.5L654.7,353.5L655.2,353.5L655.7,353.5L656.2,353.5L656.7,353.5L657.2,353.5L657.7,353.5L658.2,353.5L658.7,353.5L659.2,353.5L659.7,353.5L660.2,353.5L660.7,353.5L661.2,353.5L661.7,353.5L662.2,353.5L662.7,353.5L663.2,353.5L663.7,353.5L664.2,353.5L664.7,353.5L665.2,353.5L665.7,353.5L666.2,353.5L666.7,353.5L667.2,353.5L667.7,353.5L668.2,353.5L668.7,353.5L669.2,353.5L669.7,353.5L670.2,353.5M540,362L542.5,364L543,375.8L548,375.5L550,372L560,368L570,365L580,360L590,356L600,353L605,352.2M542.8,366L543.3,375L547,374.5L549,373L553,370L558,367M543.6,368L544,376.3L548.5,375.8L551,372.5L556,369.5M536,363.24L536.6,360.56L537.2,361.95L537.8,358.2L538.4,360.24L539,360.24L539.6,358.2L540.2,357.58L540.8,358.09L541.4,356.56L542,355.97L542.6,357.99L543.2,356.76L543.8,356.26L544.4,356.15L545,357.38L545.6,357.2L546.2,355.57L546.8,355.7L547.4,356.19L548,355.11L548.6,356.61L549.2,355.7L549.8,357.88L550.4,356.87L551,357.04L551.6,356.63L552.2,356.73L552.8,356.63L553.4,358.97L554,357.4L554.6,357.71L555.2,356.69L555.8,358.43L556.4,356.6L557,354.51L557.6,355.8L558.2,352.8L558.8,355.83L559.4,354.37L560,351.92M536,362.05L536.6,361L537.2,358.67L537.8,357.55L538.4,358.45L539,359.08L539.6,357.93L540.2,360.03L540.8,359.08L541.4,362.85L542,363.86L542.6,362.73L543.2,364.71L543.8,364.29L544.4,362.67L545,363.79L545.6,360.28L546.2,360.64L546.8,359.53L547.4,362.12L548,362.12L548.6,360.61L549.2,362.48L549.8,362.26L550.4,362.78L551,362.56L551.6,362.34L552.2,361.56L552.8,359.93L553.4,359.34L554,357.85L554.6,358.78L555.2,358.82L555.8,356.27L556.4,357.16L557,356.03L557.6,354.87L558.2,354.03L558.8,353.52L559.4,355.65L560,353.05M536,362.14L536.6,361.04L537.2,361.2L537.8,358.02L538.4,358.65L539,357.14L539.6,357.46L540.2,356.05L540.8,357.53L541.4,358.48L542,357.61L542.6,358.32L543.2,361.01L543.8,357.68L544.4,358.52L545,356.6L545.6,356.86L546.2,355.61L546.8,354.39L547.4,355.4L548,355.63L548.6,358.91L549.2,358.04L549.8,357.71L550.4,360.8L551,359.6L551.6,361.08L552.2,360.58L552.8,360.5L553.4,358.43L554,358.65L554.6,358.2L555.2,357.79L555.8,356.79L556.4,357.58L557,356.8L557.6,355.24L558.2,354.95L558.8,356.4L559.4,356.46L560,354.24M536,362.17L536.6,361.17L537.2,360.12L537.8,359.65L538.4,361.85L539,359.43L539.6,359.71L540.2,361.37L540.8,360.01L541.4,361.64L542,361.27L542.6,363.99L543.2,362.98L543.8,362.32L544.4,361.78L545,359.71L545.6,362.24L546.2,362.15L546.8,358.34L547.4,360.03L548,360.6L548.6,360.58L549.2,360.74L549.8,360.31L550.4,360.01L551,357.11L551.6,359.62L552.2,359.04L552.8,357.27L553.4,357.57L554,354.8L554.6,354.87L555.2,353.37L555.8,354.77L556.4,356.72L557,355.78L557.6,354.99L558.2,354.55L558.8,354.27L559.4,355.14L560,354.72M536,361.45L536.6,362.02L537.2,361.49L537.8,359.67L538.4,359.58L539,357.22L539.6,357.14L540.2,358.1L540.8,357.89L541.4,360.56L542,361.52L542.6,360.95L543.2,359.52L543.8,358.65L544.4,360.41L545,359.15L545.6,357.06L546.2,359.56L546.8,358.15L547.4,359.11L548,359.76L548.6,359.63L549.2,360.73L549.8,361.37L550.4,359.13L551,360.38L551.6,360.35L552.2,359.99L552.8,357.52L553.4,357.24L554,358.32L554.6,358.3L555.2,356.12L555.8,357.99L556.4,358L557,358.32L557.6,355.97L558.2,356.9L558.8,358.12L559.4,358.88L560,359.17M536,360.15L536.6,360.92L537.2,358.86L537.8,359.15L538.4,356.24L539,357.49L539.6,355.26L540.2,356.03L540.8,358.45L541.4,359.36L542,361.5L542.6,359.46L543.2,360.2L543.8,359.15L544.4,358.55L545,358.67L545.6,356.83L546.2,354.01L546.8,353.28L547.4,354.7L548,354.67L548.6,353.78L549.2,355.42L549.8,354.94L550.4,357.22L551,357.14L551.6,356.55L552.2,355.85L552.8,356.91L553.4,353.25L554,352.44L554.6,351.75L555.2,352.49L555.8,353.19L556.4,355.64L557,355.58L557.6,354.61L558.2,354.79L558.8,356.96L559.4,358.66L560,357.14" stroke="#000" stroke-width="1.1" fill="none" stroke-linejoin="round"/>
<path d="M84.65,241.5V237.5M84.65,36.4V40.4M118.3,241.5V237.5M118.3,36.4V40.4M151.95,241.5V237.5M151.95,36.4V40.4M51,52.38H55M185.6,52.38H181.6M51,79.02H55M185.6,79.02H181.6M51,105.65H55M185.6,105.65H181.6M51,132.29H55M185.6,132.29H181.6M51,158.93H55M185.6,158.93H181.6M51,185.56H55M185.6,185.56H181.6M51,212.2H55M185.6,212.2H181.6M51,238.84H55M185.6,238.84H181.6M84.65,315.4V311.4M84.65,258.6V262.6M118.3,315.4V311.4M118.3,258.6V262.6M151.95,315.4V311.4M151.95,258.6V262.6M51,272.8H55M185.6,272.8H181.6M51,287H55M185.6,287H181.6M51,301.2H55M185.6,301.2H181.6M84.65,390.1V386.1M84.65,333.2V337.2M118.3,390.1V386.1M118.3,333.2V337.2M151.95,390.1V386.1M151.95,333.2V337.2M51,347.43H55M185.6,347.43H181.6M51,361.65H55M185.6,361.65H181.6M51,375.88H55M185.6,375.88H181.6M246.22,241.5V237.5M246.22,36.4V40.4M279.95,241.5V237.5M279.95,36.4V40.4M313.67,241.5V237.5M313.67,36.4V40.4M212.5,52.38H216.5M347.4,52.38H343.4M212.5,79.02H216.5M347.4,79.02H343.4M212.5,105.65H216.5M347.4,105.65H343.4M212.5,132.29H216.5M347.4,132.29H343.4M212.5,158.93H216.5M347.4,158.93H343.4M212.5,185.56H216.5M347.4,185.56H343.4M212.5,212.2H216.5M347.4,212.2H343.4M212.5,238.84H216.5M347.4,238.84H343.4M246.22,315.4V311.4M246.22,258.6V262.6M279.95,315.4V311.4M279.95,258.6V262.6M313.67,315.4V311.4M313.67,258.6V262.6M212.5,272.8H216.5M347.4,272.8H343.4M212.5,287H216.5M347.4,287H343.4M212.5,301.2H216.5M347.4,301.2H343.4M246.22,390.1V386.1M246.22,333.2V337.2M279.95,390.1V386.1M279.95,333.2V337.2M313.67,390.1V386.1M313.67,333.2V337.2M212.5,347.43H216.5M347.4,347.43H343.4M212.5,361.65H216.5M347.4,361.65H343.4M212.5,375.88H216.5M347.4,375.88H343.4M407.9,241.5V237.5M407.9,36.4V40.4M441.6,241.5V237.5M441.6,36.4V40.4M475.3,241.5V237.5M475.3,36.4V40.4M374.2,52.38H378.2M509,52.38H505M374.2,79.02H378.2M509,79.02H505M374.2,105.65H378.2M509,105.65H505M374.2,132.29H378.2M509,132.29H505M374.2,158.93H378.2M509,158.93H505M374.2,185.56H378.2M509,185.56H505M374.2,212.2H378.2M509,212.2H505M374.2,238.84H378.2M509,238.84H505M407.9,315.4V311.4M407.9,258.6V262.6M441.6,315.4V311.4M441.6,258.6V262.6M475.3,315.4V311.4M475.3,258.6V262.6M374.2,272.8H378.2M509,272.8H505M374.2,287H378.2M509,287H505M374.2,301.2H378.2M509,301.2H505M407.9,390.1V386.1M407.9,333.2V337.2M441.6,390.1V386.1M441.6,333.2V337.2M475.3,390.1V386.1M475.3,333.2V337.2M374.2,347.43H378.2M509,347.43H505M374.2,361.65H378.2M509,361.65H505M374.2,375.88H378.2M509,375.88H505M569.43,241.5V237.5M569.43,36.4V40.4M603.15,241.5V237.5M603.15,36.4V40.4M636.88,241.5V237.5M636.88,36.4V40.4M535.7,52.38H539.7M670.6,52.38H666.6M535.7,79.02H539.7M670.6,79.02H666.6M535.7,105.65H539.7M670.6,105.65H666.6M535.7,132.29H539.7M670.6,132.29H666.6M535.7,158.93H539.7M670.6,158.93H666.6M535.7,185.56H539.7M670.6,185.56H666.6M535.7,212.2H539.7M670.6,212.2H666.6M535.7,238.84H539.7M670.6,238.84H666.6M569.43,315.4V311.4M569.43,258.6V262.6M603.15,315.4V311.4M603.15,258.6V262.6M636.88,315.4V311.4M636.88,258.6V262.6M535.7,272.8H539.7M670.6,272.8H666.6M535.7,287H539.7M670.6,287H666.6M535.7,301.2H539.7M670.6,301.2H666.6M569.43,390.1V386.1M569.43,333.2V337.2M603.15,390.1V386.1M603.15,333.2V337.2M636.88,390.1V386.1M636.88,333.2V337.2M535.7,347.43H539.7M670.6,347.43H666.6M535.7,361.65H539.7M670.6,361.65H666.6M535.7,375.88H539.7M670.6,375.88H666.6" stroke="#000" stroke-width="1.0" fill="none"/>
<path d="M51,36.4H185.6V241.5H51ZM51,258.6H185.6V315.4H51ZM51,333.2H185.6V390.1H51ZM212.5,36.4H347.4V241.5H212.5ZM212.5,258.6H347.4V315.4H212.5ZM212.5,333.2H347.4V390.1H212.5ZM374.2,36.4H509V241.5H374.2ZM374.2,258.6H509V315.4H374.2ZM374.2,333.2H509V390.1H374.2ZM535.7,36.4H670.6V241.5H535.7ZM535.7,258.6H670.6V315.4H535.7ZM535.7,333.2H670.6V390.1H535.7Z" stroke="#000" stroke-width="1.3" fill="none"/>
<g fill="#000" stroke="#000" stroke-width="0.08"><text x="352.2" y="11.8" font-size="14.5" text-anchor="middle" font-family="Liberation Sans, sans-serif" textLength="109.5" lengthAdjust="spacingAndGlyphs">Energy Budget</text><text x="118.8" y="31.9" font-size="14.1" text-anchor="middle" font-family="Liberation Sans, sans-serif" textLength="80.8" lengthAdjust="spacingAndGlyphs">64k-0.01-10</text><text x="280.45" y="31.9" font-size="14.1" text-anchor="middle" font-family="Liberation Sans, sans-serif" textLength="80.8" lengthAdjust="spacingAndGlyphs">64k-0.02-10</text><text x="442.1" y="31.9" font-size="14.1" text-anchor="middle" font-family="Liberation Sans, sans-serif" textLength="80.8" lengthAdjust="spacingAndGlyphs">64k-0.01-20</text><text x="603.65" y="31.9" font-size="14.1" text-anchor="middle" font-family="Liberation Sans, sans-serif" textLength="80.8" lengthAdjust="spacingAndGlyphs">64k-0.02-20</text><text x="48.3" y="55.68" font-size="10" text-anchor="end" font-family="Liberation Sans, sans-serif" >0.2</text><text x="48.3" y="82.32" font-size="10" text-anchor="end" font-family="Liberation Sans, sans-serif" >0.1</text><text x="48.3" y="108.95" font-size="10" text-anchor="end" font-family="Liberation Sans, sans-serif" >0.0</text><text x="48.3" y="135.59" font-size="10" text-anchor="end" font-family="Liberation Sans, sans-serif" >-0.1</text><text x="48.3" y="162.23" font-size="10" text-anchor="end" font-family="Liberation Sans, sans-serif" >-0.2</text><text x="48.3" y="188.86" font-size="10" text-anchor="end" font-family="Liberation Sans, sans-serif" >-0.3</text><text x="48.3" y="215.5" font-size="10" text-anchor="end" font-family="Liberation Sans, sans-serif" >-0.4</text><text x="48.3" y="242.14" font-size="10" text-anchor="end" font-family="Liberation Sans, sans-serif" >-0.5</text><text x="48.3" y="261.9" font-size="10" text-anchor="end" font-family="Liberation Sans, sans-serif" >1.02</text><text x="48.3" y="276.1" font-size="10" text-anchor="end" font-family="Liberation Sans, sans-serif" >1.01</text><text x="48.3" y="290.3" font-size="10" text-anchor="end" font-family="Liberation Sans, sans-serif" >1</text><text x="48.3" y="304.5" font-size="10" text-anchor="end" font-family="Liberation Sans, sans-serif" >0.99</text><text x="48.3" y="318.7" font-size="10" text-anchor="end" font-family="Liberation Sans, sans-serif" >0.98</text><text x="48.3" y="336.5" font-size="10" text-anchor="end" font-family="Liberation Sans, sans-serif" >0.03</text><text x="48.3" y="350.73" font-size="10" text-anchor="end" font-family="Liberation Sans, sans-serif" >0.015</text><text x="48.3" y="364.95" font-size="10" text-anchor="end" font-family="Liberation Sans, sans-serif" >0</text><text x="48.3" y="379.18" font-size="10" text-anchor="end" font-family="Liberation Sans, sans-serif" >-0.015</text><text x="48.3" y="393.4" font-size="10" text-anchor="end" font-family="Liberation Sans, sans-serif" >-0.03</text><text x="51" y="401.3" font-size="10" text-anchor="middle" font-family="Liberation Sans, sans-serif" >0</text><text x="84.65" y="401.3" font-size="10" text-anchor="middle" font-family="Liberation Sans, sans-serif" >3500</text><text x="118.3" y="401.3" font-size="10" text-anchor="middle" font-family="Liberation Sans, sans-serif" >7000</text><text x="151.95" y="401.3" font-size="10" text-anchor="middle" font-family="Liberation Sans, sans-serif" >10500</text><text x="185.6" y="401.3" font-size="10" text-anchor="middle" font-family="Liberation Sans, sans-serif" >14000</text><text x="212.5" y="401.3" font-size="10" text-anchor="middle" font-family="Liberation Sans, sans-serif" >0</text><text x="246.22" y="401.3" font-size="10" text-anchor="middle" font-family="Liberation Sans, sans-serif" >5000</text><text x="279.95" y="401.3" font-size="10" text-anchor="middle" font-family="Liberation Sans, sans-serif" >10000</text><text x="313.67" y="401.3" font-size="10" text-anchor="middle" font-family="Liberation Sans, sans-serif" >15000</text><text x="347.4" y="401.3" font-size="10" text-anchor="middle" font-family="Liberation Sans, sans-serif" >20000</text><text x="374.2" y="401.3" font-size="10" text-anchor="middle" font-family="Liberation Sans, sans-serif" >0</text><text x="407.9" y="401.3" font-size="10" text-anchor="middle" font-family="Liberation Sans, sans-serif" >2500</text><text x="441.6" y="401.3" font-size="10" text-anchor="middle" font-family="Liberation Sans, sans-serif" >5000</text><text x="475.3" y="401.3" font-size="10" text-anchor="middle" font-family="Liberation Sans, sans-serif" >7500</text><text x="509" y="401.3" font-size="10" text-anchor="middle" font-family="Liberation Sans, sans-serif" >10000</text><text x="535.7" y="401.3" font-size="10" text-anchor="middle" font-family="Liberation Sans, sans-serif" >0</text><text x="569.43" y="401.3" font-size="10" text-anchor="middle" font-family="Liberation Sans, sans-serif" >5000</text><text x="603.15" y="401.3" font-size="10" text-anchor="middle" font-family="Liberation Sans, sans-serif" >10000</text><text x="636.88" y="401.3" font-size="10" text-anchor="middle" font-family="Liberation Sans, sans-serif" >15000</text><text x="670.6" y="401.3" font-size="10" text-anchor="middle" font-family="Liberation Sans, sans-serif" >20000</text><text x="71" y="59" font-size="10" text-anchor="start" font-family="Liberation Sans, sans-serif" textLength="32" lengthAdjust="spacingAndGlyphs">Kinetic</text><text x="102.8" y="91" font-size="10" text-anchor="start" font-family="Liberation Sans, sans-serif" textLength="40.9" lengthAdjust="spacingAndGlyphs">Escapers</text><text x="134.9" y="118.6" font-size="10" text-anchor="start" font-family="Liberation Sans, sans-serif" textLength="37" lengthAdjust="spacingAndGlyphs">Binding</text><text x="86.1" y="141.5" font-size="10" text-anchor="start" font-family="Liberation Sans, sans-serif" textLength="75" lengthAdjust="spacingAndGlyphs">Ejected Binding</text><text x="106.9" y="168.9" font-size="10" text-anchor="start" font-family="Liberation Sans, sans-serif" textLength="23.6" lengthAdjust="spacingAndGlyphs">Total</text><text x="110.2" y="210.4" font-size="10" text-anchor="start" font-family="Liberation Sans, sans-serif" textLength="43.7" lengthAdjust="spacingAndGlyphs">Potential</text><text transform="translate(24.3,138) rotate(-90)" font-size="13.5" text-anchor="middle" font-family="Liberation Sans, sans-serif">Energies</text><text transform="translate(20.6,286.6) rotate(-90)" font-size="14.5" text-anchor="middle" font-family="Liberation Serif, serif" font-style="italic" textLength="41.5" lengthAdjust="spacingAndGlyphs">2K/W</text><text transform="translate(11.5,361.4) rotate(-90)" font-size="14.5" text-anchor="middle" textLength="76" lengthAdjust="spacingAndGlyphs" font-family="Liberation Serif, serif"><tspan>(</tspan><tspan font-style="italic">E</tspan><tspan> − </tspan><tspan font-style="italic">E</tspan><tspan font-size="8" dy="3">0</tspan><tspan dy="-3">)/</tspan><tspan font-style="italic">E</tspan><tspan font-size="8" dy="3">0</tspan></text><text x="117.3" y="416" font-size="15.5" text-anchor="middle" font-family="Liberation Serif, serif"><tspan font-style="italic" stroke="#000" stroke-width="0.35">t</tspan><tspan font-size="10.8" dy="2.5" stroke="#000" stroke-width="0.3">dyn</tspan></text><text x="278.95" y="416" font-size="15.5" text-anchor="middle" font-family="Liberation Serif, serif"><tspan font-style="italic" stroke="#000" stroke-width="0.35">t</tspan><tspan font-size="10.8" dy="2.5" stroke="#000" stroke-width="0.3">dyn</tspan></text><text x="440.6" y="416" font-size="15.5" text-anchor="middle" font-family="Liberation Serif, serif"><tspan font-style="italic" stroke="#000" stroke-width="0.35">t</tspan><tspan font-size="10.8" dy="2.5" stroke="#000" stroke-width="0.3">dyn</tspan></text><text x="602.15" y="416" font-size="15.5" text-anchor="middle" font-family="Liberation Serif, serif"><tspan font-style="italic" stroke="#000" stroke-width="0.35">t</tspan><tspan font-size="10.8" dy="2.5" stroke="#000" stroke-width="0.3">dyn</tspan></text></g>
</svg>
</body></html>
